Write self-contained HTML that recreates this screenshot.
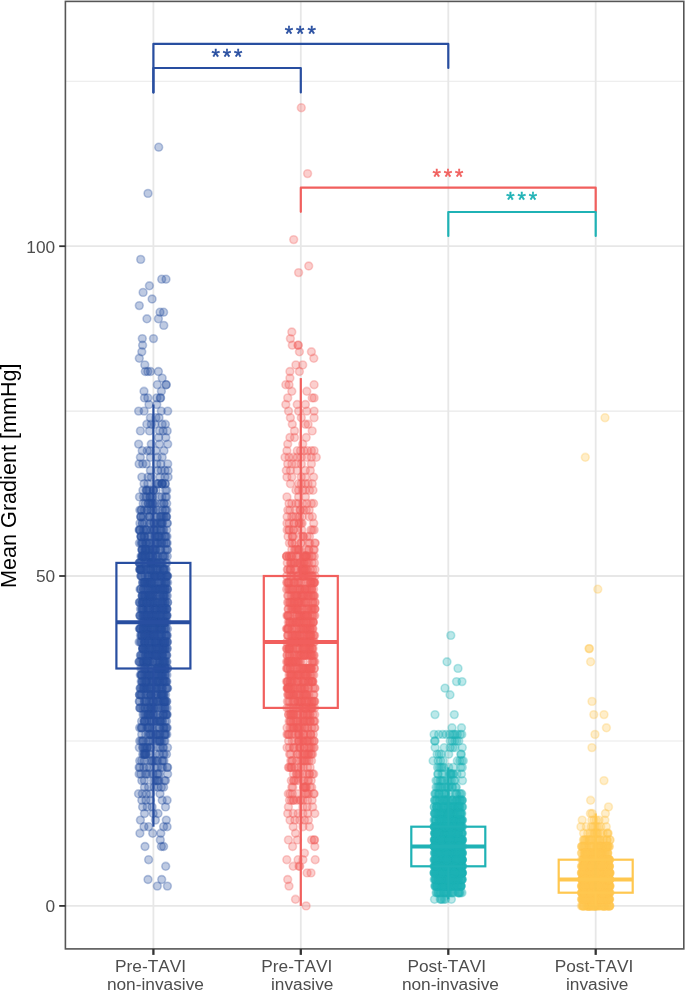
<!DOCTYPE html>
<html><head><meta charset="utf-8"><title>Chart</title><style>html,body{margin:0;padding:0;background:#fff}body{width:685px;height:992px;overflow:hidden;font-family:"Liberation Sans",sans-serif}text{font-kerning:none}</style></head><body>
<svg width="685" height="992" viewBox="0 0 685 992" style="display:block;will-change:transform">
<rect width="685" height="992" fill="#fff"/>
<g><line x1="65.4" x2="683.8" y1="741.0" y2="741.0" stroke="#E9E9E9" stroke-width="1.1"/><line x1="65.4" x2="683.8" y1="411.1" y2="411.1" stroke="#E9E9E9" stroke-width="1.1"/><line x1="65.4" x2="683.8" y1="81.3" y2="81.3" stroke="#E9E9E9" stroke-width="1.1"/><line x1="65.4" x2="683.8" y1="905.9" y2="905.9" stroke="#E7E7E7" stroke-width="1.8"/><line x1="65.4" x2="683.8" y1="576.0" y2="576.0" stroke="#E7E7E7" stroke-width="1.8"/><line x1="65.4" x2="683.8" y1="246.2" y2="246.2" stroke="#E7E7E7" stroke-width="1.8"/><line x1="153.4" x2="153.4" y1="1.4" y2="948.9" stroke="#E7E7E7" stroke-width="1.8"/><line x1="300.8" x2="300.8" y1="1.4" y2="948.9" stroke="#E7E7E7" stroke-width="1.8"/><line x1="448.3" x2="448.3" y1="1.4" y2="948.9" stroke="#E7E7E7" stroke-width="1.8"/><line x1="595.7" x2="595.7" y1="1.4" y2="948.9" stroke="#E7E7E7" stroke-width="1.8"/></g>
<g fill="#284EA0" fill-opacity=".3" stroke="#284EA0" stroke-opacity=".3" stroke-width="1.6"><circle cx="155.8" cy="609.0" r="3.9"/><circle cx="153.5" cy="490.3" r="3.9"/><circle cx="159.5" cy="536.5" r="3.9"/><circle cx="148.0" cy="714.6" r="3.9"/><circle cx="162.9" cy="648.6" r="3.9"/><circle cx="151.6" cy="708.0" r="3.9"/><circle cx="143.7" cy="609.0" r="3.9"/><circle cx="140.9" cy="655.2" r="3.9"/><circle cx="150.4" cy="417.7" r="3.9"/><circle cx="154.3" cy="635.4" r="3.9"/><circle cx="155.2" cy="503.5" r="3.9"/><circle cx="142.4" cy="576.0" r="3.9"/><circle cx="153.1" cy="609.0" r="3.9"/><circle cx="156.5" cy="622.2" r="3.9"/><circle cx="166.6" cy="529.9" r="3.9"/><circle cx="143.7" cy="609.0" r="3.9"/><circle cx="153.6" cy="615.6" r="3.9"/><circle cx="150.5" cy="371.5" r="3.9"/><circle cx="164.6" cy="602.4" r="3.9"/><circle cx="146.7" cy="661.8" r="3.9"/><circle cx="162.3" cy="483.7" r="3.9"/><circle cx="141.6" cy="721.2" r="3.9"/><circle cx="162.5" cy="523.3" r="3.9"/><circle cx="167.7" cy="463.9" r="3.9"/><circle cx="145.0" cy="721.2" r="3.9"/><circle cx="143.3" cy="622.2" r="3.9"/><circle cx="155.0" cy="595.8" r="3.9"/><circle cx="157.6" cy="589.2" r="3.9"/><circle cx="142.5" cy="602.4" r="3.9"/><circle cx="161.0" cy="668.4" r="3.9"/><circle cx="153.1" cy="708.0" r="3.9"/><circle cx="155.1" cy="609.0" r="3.9"/><circle cx="144.8" cy="364.9" r="3.9"/><circle cx="163.0" cy="609.0" r="3.9"/><circle cx="155.0" cy="536.5" r="3.9"/><circle cx="162.5" cy="668.4" r="3.9"/><circle cx="167.0" cy="576.0" r="3.9"/><circle cx="155.3" cy="668.4" r="3.9"/><circle cx="152.3" cy="496.9" r="3.9"/><circle cx="165.8" cy="536.5" r="3.9"/><circle cx="161.7" cy="602.4" r="3.9"/><circle cx="151.2" cy="734.4" r="3.9"/><circle cx="149.7" cy="516.7" r="3.9"/><circle cx="149.0" cy="582.6" r="3.9"/><circle cx="147.0" cy="661.8" r="3.9"/><circle cx="145.7" cy="543.1" r="3.9"/><circle cx="156.1" cy="589.2" r="3.9"/><circle cx="145.7" cy="734.4" r="3.9"/><circle cx="144.1" cy="602.4" r="3.9"/><circle cx="153.2" cy="701.4" r="3.9"/><circle cx="154.9" cy="529.9" r="3.9"/><circle cx="155.4" cy="701.4" r="3.9"/><circle cx="162.6" cy="655.2" r="3.9"/><circle cx="142.6" cy="549.7" r="3.9"/><circle cx="142.0" cy="681.6" r="3.9"/><circle cx="158.1" cy="510.1" r="3.9"/><circle cx="158.0" cy="714.6" r="3.9"/><circle cx="166.9" cy="675.0" r="3.9"/><circle cx="164.4" cy="569.5" r="3.9"/><circle cx="166.5" cy="721.2" r="3.9"/><circle cx="144.5" cy="787.2" r="3.9"/><circle cx="142.3" cy="556.3" r="3.9"/><circle cx="164.3" cy="622.2" r="3.9"/><circle cx="167.2" cy="430.9" r="3.9"/><circle cx="149.7" cy="609.0" r="3.9"/><circle cx="140.4" cy="688.2" r="3.9"/><circle cx="139.3" cy="562.9" r="3.9"/><circle cx="164.3" cy="727.8" r="3.9"/><circle cx="166.5" cy="496.9" r="3.9"/><circle cx="163.4" cy="701.4" r="3.9"/><circle cx="139.4" cy="543.1" r="3.9"/><circle cx="140.4" cy="820.1" r="3.9"/><circle cx="144.2" cy="721.2" r="3.9"/><circle cx="163.9" cy="760.8" r="3.9"/><circle cx="151.4" cy="628.8" r="3.9"/><circle cx="144.7" cy="582.6" r="3.9"/><circle cx="162.2" cy="800.3" r="3.9"/><circle cx="159.5" cy="622.2" r="3.9"/><circle cx="165.5" cy="496.9" r="3.9"/><circle cx="140.2" cy="628.8" r="3.9"/><circle cx="139.9" cy="523.3" r="3.9"/><circle cx="144.4" cy="536.5" r="3.9"/><circle cx="161.7" cy="655.2" r="3.9"/><circle cx="159.5" cy="576.0" r="3.9"/><circle cx="166.2" cy="595.8" r="3.9"/><circle cx="148.1" cy="609.0" r="3.9"/><circle cx="144.8" cy="595.8" r="3.9"/><circle cx="156.9" cy="615.6" r="3.9"/><circle cx="162.8" cy="569.5" r="3.9"/><circle cx="162.1" cy="688.2" r="3.9"/><circle cx="160.9" cy="635.4" r="3.9"/><circle cx="167.0" cy="549.7" r="3.9"/><circle cx="163.2" cy="714.6" r="3.9"/><circle cx="152.4" cy="503.5" r="3.9"/><circle cx="152.0" cy="576.0" r="3.9"/><circle cx="157.3" cy="655.2" r="3.9"/><circle cx="149.0" cy="556.3" r="3.9"/><circle cx="141.4" cy="675.0" r="3.9"/><circle cx="162.9" cy="529.9" r="3.9"/><circle cx="145.9" cy="655.2" r="3.9"/><circle cx="149.7" cy="754.2" r="3.9"/><circle cx="151.9" cy="602.4" r="3.9"/><circle cx="158.6" cy="595.8" r="3.9"/><circle cx="156.6" cy="536.5" r="3.9"/><circle cx="139.3" cy="562.9" r="3.9"/><circle cx="150.2" cy="602.4" r="3.9"/><circle cx="159.5" cy="589.2" r="3.9"/><circle cx="149.7" cy="595.8" r="3.9"/><circle cx="151.9" cy="589.2" r="3.9"/><circle cx="147.2" cy="675.0" r="3.9"/><circle cx="151.1" cy="562.9" r="3.9"/><circle cx="142.7" cy="754.2" r="3.9"/><circle cx="162.3" cy="688.2" r="3.9"/><circle cx="157.5" cy="767.4" r="3.9"/><circle cx="159.6" cy="648.6" r="3.9"/><circle cx="141.8" cy="477.1" r="3.9"/><circle cx="161.4" cy="668.4" r="3.9"/><circle cx="152.7" cy="549.7" r="3.9"/><circle cx="149.9" cy="496.9" r="3.9"/><circle cx="147.2" cy="688.2" r="3.9"/><circle cx="145.2" cy="688.2" r="3.9"/><circle cx="159.2" cy="642.0" r="3.9"/><circle cx="139.3" cy="701.4" r="3.9"/><circle cx="141.8" cy="800.3" r="3.9"/><circle cx="161.9" cy="721.2" r="3.9"/><circle cx="150.1" cy="635.4" r="3.9"/><circle cx="145.8" cy="615.6" r="3.9"/><circle cx="159.3" cy="754.2" r="3.9"/><circle cx="140.5" cy="635.4" r="3.9"/><circle cx="139.1" cy="774.0" r="3.9"/><circle cx="155.4" cy="694.8" r="3.9"/><circle cx="163.2" cy="609.0" r="3.9"/><circle cx="141.1" cy="642.0" r="3.9"/><circle cx="162.4" cy="562.9" r="3.9"/><circle cx="146.7" cy="549.7" r="3.9"/><circle cx="164.6" cy="681.6" r="3.9"/><circle cx="158.4" cy="701.4" r="3.9"/><circle cx="157.7" cy="576.0" r="3.9"/><circle cx="159.3" cy="496.9" r="3.9"/><circle cx="150.7" cy="694.8" r="3.9"/><circle cx="161.0" cy="549.7" r="3.9"/><circle cx="157.0" cy="622.2" r="3.9"/><circle cx="144.7" cy="642.0" r="3.9"/><circle cx="140.4" cy="430.9" r="3.9"/><circle cx="151.9" cy="675.0" r="3.9"/><circle cx="155.3" cy="675.0" r="3.9"/><circle cx="148.5" cy="549.7" r="3.9"/><circle cx="149.4" cy="648.6" r="3.9"/><circle cx="141.1" cy="516.7" r="3.9"/><circle cx="140.9" cy="668.4" r="3.9"/><circle cx="162.2" cy="457.3" r="3.9"/><circle cx="157.6" cy="576.0" r="3.9"/><circle cx="140.0" cy="661.8" r="3.9"/><circle cx="144.5" cy="582.6" r="3.9"/><circle cx="158.7" cy="147.2" r="3.9"/><circle cx="145.6" cy="549.7" r="3.9"/><circle cx="157.7" cy="536.5" r="3.9"/><circle cx="150.4" cy="569.5" r="3.9"/><circle cx="162.6" cy="556.3" r="3.9"/><circle cx="156.9" cy="609.0" r="3.9"/><circle cx="159.6" cy="655.2" r="3.9"/><circle cx="162.1" cy="648.6" r="3.9"/><circle cx="141.0" cy="556.3" r="3.9"/><circle cx="143.6" cy="661.8" r="3.9"/><circle cx="165.4" cy="675.0" r="3.9"/><circle cx="157.8" cy="655.2" r="3.9"/><circle cx="143.4" cy="589.2" r="3.9"/><circle cx="150.4" cy="760.8" r="3.9"/><circle cx="155.4" cy="556.3" r="3.9"/><circle cx="156.1" cy="648.6" r="3.9"/><circle cx="139.5" cy="496.9" r="3.9"/><circle cx="167.1" cy="826.7" r="3.9"/><circle cx="139.8" cy="615.6" r="3.9"/><circle cx="163.8" cy="529.9" r="3.9"/><circle cx="157.4" cy="774.0" r="3.9"/><circle cx="146.7" cy="615.6" r="3.9"/><circle cx="139.4" cy="628.8" r="3.9"/><circle cx="145.8" cy="543.1" r="3.9"/><circle cx="156.4" cy="648.6" r="3.9"/><circle cx="166.7" cy="642.0" r="3.9"/><circle cx="145.4" cy="628.8" r="3.9"/><circle cx="153.1" cy="602.4" r="3.9"/><circle cx="141.8" cy="351.8" r="3.9"/><circle cx="161.4" cy="503.5" r="3.9"/><circle cx="162.1" cy="483.7" r="3.9"/><circle cx="162.6" cy="642.0" r="3.9"/><circle cx="147.1" cy="668.4" r="3.9"/><circle cx="160.8" cy="642.0" r="3.9"/><circle cx="161.7" cy="879.5" r="3.9"/><circle cx="140.7" cy="259.4" r="3.9"/><circle cx="164.2" cy="681.6" r="3.9"/><circle cx="164.7" cy="576.0" r="3.9"/><circle cx="164.9" cy="470.5" r="3.9"/><circle cx="145.3" cy="701.4" r="3.9"/><circle cx="160.5" cy="688.2" r="3.9"/><circle cx="144.7" cy="589.2" r="3.9"/><circle cx="157.9" cy="661.8" r="3.9"/><circle cx="149.4" cy="661.8" r="3.9"/><circle cx="159.5" cy="628.8" r="3.9"/><circle cx="141.7" cy="615.6" r="3.9"/><circle cx="165.4" cy="589.2" r="3.9"/><circle cx="153.0" cy="714.6" r="3.9"/><circle cx="153.6" cy="622.2" r="3.9"/><circle cx="143.9" cy="688.2" r="3.9"/><circle cx="144.8" cy="721.2" r="3.9"/><circle cx="139.3" cy="747.6" r="3.9"/><circle cx="159.2" cy="688.2" r="3.9"/><circle cx="148.6" cy="859.7" r="3.9"/><circle cx="141.5" cy="661.8" r="3.9"/><circle cx="146.9" cy="318.8" r="3.9"/><circle cx="156.2" cy="688.2" r="3.9"/><circle cx="166.4" cy="615.6" r="3.9"/><circle cx="153.6" cy="635.4" r="3.9"/><circle cx="142.0" cy="543.1" r="3.9"/><circle cx="142.1" cy="556.3" r="3.9"/><circle cx="166.7" cy="609.0" r="3.9"/><circle cx="162.5" cy="721.2" r="3.9"/><circle cx="142.7" cy="609.0" r="3.9"/><circle cx="156.8" cy="404.5" r="3.9"/><circle cx="166.1" cy="543.1" r="3.9"/><circle cx="163.4" cy="569.5" r="3.9"/><circle cx="166.7" cy="615.6" r="3.9"/><circle cx="143.6" cy="496.9" r="3.9"/><circle cx="158.1" cy="787.2" r="3.9"/><circle cx="154.4" cy="760.8" r="3.9"/><circle cx="165.2" cy="648.6" r="3.9"/><circle cx="159.0" cy="417.7" r="3.9"/><circle cx="153.5" cy="595.8" r="3.9"/><circle cx="162.1" cy="668.4" r="3.9"/><circle cx="161.5" cy="516.7" r="3.9"/><circle cx="149.8" cy="734.4" r="3.9"/><circle cx="139.1" cy="767.4" r="3.9"/><circle cx="139.8" cy="529.9" r="3.9"/><circle cx="153.5" cy="708.0" r="3.9"/><circle cx="150.4" cy="642.0" r="3.9"/><circle cx="160.1" cy="615.6" r="3.9"/><circle cx="145.6" cy="635.4" r="3.9"/><circle cx="144.2" cy="721.2" r="3.9"/><circle cx="148.9" cy="516.7" r="3.9"/><circle cx="140.6" cy="602.4" r="3.9"/><circle cx="151.1" cy="681.6" r="3.9"/><circle cx="142.4" cy="668.4" r="3.9"/><circle cx="145.0" cy="582.6" r="3.9"/><circle cx="161.5" cy="562.9" r="3.9"/><circle cx="163.6" cy="846.5" r="3.9"/><circle cx="161.2" cy="615.6" r="3.9"/><circle cx="144.2" cy="675.0" r="3.9"/><circle cx="162.2" cy="628.8" r="3.9"/><circle cx="151.5" cy="642.0" r="3.9"/><circle cx="166.4" cy="582.6" r="3.9"/><circle cx="163.7" cy="661.8" r="3.9"/><circle cx="148.4" cy="668.4" r="3.9"/><circle cx="166.4" cy="615.6" r="3.9"/><circle cx="161.4" cy="694.8" r="3.9"/><circle cx="157.5" cy="569.5" r="3.9"/><circle cx="164.0" cy="609.0" r="3.9"/><circle cx="165.9" cy="681.6" r="3.9"/><circle cx="139.1" cy="661.8" r="3.9"/><circle cx="140.8" cy="576.0" r="3.9"/><circle cx="156.8" cy="523.3" r="3.9"/><circle cx="141.0" cy="543.1" r="3.9"/><circle cx="159.8" cy="675.0" r="3.9"/><circle cx="156.9" cy="694.8" r="3.9"/><circle cx="167.4" cy="589.2" r="3.9"/><circle cx="157.5" cy="483.7" r="3.9"/><circle cx="143.7" cy="628.8" r="3.9"/><circle cx="165.3" cy="556.3" r="3.9"/><circle cx="149.4" cy="655.2" r="3.9"/><circle cx="150.4" cy="576.0" r="3.9"/><circle cx="149.4" cy="576.0" r="3.9"/><circle cx="152.4" cy="556.3" r="3.9"/><circle cx="167.7" cy="411.1" r="3.9"/><circle cx="166.2" cy="516.7" r="3.9"/><circle cx="150.0" cy="714.6" r="3.9"/><circle cx="147.5" cy="622.2" r="3.9"/><circle cx="161.0" cy="523.3" r="3.9"/><circle cx="165.4" cy="635.4" r="3.9"/><circle cx="145.9" cy="681.6" r="3.9"/><circle cx="149.8" cy="523.3" r="3.9"/><circle cx="167.3" cy="576.0" r="3.9"/><circle cx="144.8" cy="708.0" r="3.9"/><circle cx="144.9" cy="642.0" r="3.9"/><circle cx="145.4" cy="569.5" r="3.9"/><circle cx="160.8" cy="529.9" r="3.9"/><circle cx="149.7" cy="589.2" r="3.9"/><circle cx="163.5" cy="708.0" r="3.9"/><circle cx="156.6" cy="628.8" r="3.9"/><circle cx="158.7" cy="536.5" r="3.9"/><circle cx="166.6" cy="562.9" r="3.9"/><circle cx="161.9" cy="496.9" r="3.9"/><circle cx="156.4" cy="516.7" r="3.9"/><circle cx="138.6" cy="444.1" r="3.9"/><circle cx="153.1" cy="589.2" r="3.9"/><circle cx="164.3" cy="694.8" r="3.9"/><circle cx="153.1" cy="490.3" r="3.9"/><circle cx="163.9" cy="727.8" r="3.9"/><circle cx="167.5" cy="602.4" r="3.9"/><circle cx="152.9" cy="661.8" r="3.9"/><circle cx="145.0" cy="846.5" r="3.9"/><circle cx="163.1" cy="642.0" r="3.9"/><circle cx="145.8" cy="582.6" r="3.9"/><circle cx="160.1" cy="543.1" r="3.9"/><circle cx="147.9" cy="727.8" r="3.9"/><circle cx="142.5" cy="602.4" r="3.9"/><circle cx="153.6" cy="582.6" r="3.9"/><circle cx="165.5" cy="708.0" r="3.9"/><circle cx="148.4" cy="655.2" r="3.9"/><circle cx="165.4" cy="734.4" r="3.9"/><circle cx="139.7" cy="741.0" r="3.9"/><circle cx="167.4" cy="523.3" r="3.9"/><circle cx="154.8" cy="609.0" r="3.9"/><circle cx="153.5" cy="701.4" r="3.9"/><circle cx="161.4" cy="787.2" r="3.9"/><circle cx="163.1" cy="595.8" r="3.9"/><circle cx="150.7" cy="694.8" r="3.9"/><circle cx="163.5" cy="576.0" r="3.9"/><circle cx="151.7" cy="635.4" r="3.9"/><circle cx="167.0" cy="536.5" r="3.9"/><circle cx="156.5" cy="609.0" r="3.9"/><circle cx="157.8" cy="721.2" r="3.9"/><circle cx="153.7" cy="589.2" r="3.9"/><circle cx="166.0" cy="582.6" r="3.9"/><circle cx="144.7" cy="536.5" r="3.9"/><circle cx="155.2" cy="536.5" r="3.9"/><circle cx="156.5" cy="562.9" r="3.9"/><circle cx="150.6" cy="523.3" r="3.9"/><circle cx="168.1" cy="477.1" r="3.9"/><circle cx="139.6" cy="569.5" r="3.9"/><circle cx="149.2" cy="642.0" r="3.9"/><circle cx="143.1" cy="655.2" r="3.9"/><circle cx="147.5" cy="582.6" r="3.9"/><circle cx="155.1" cy="569.5" r="3.9"/><circle cx="151.5" cy="615.6" r="3.9"/><circle cx="142.4" cy="681.6" r="3.9"/><circle cx="165.0" cy="661.8" r="3.9"/><circle cx="163.1" cy="430.9" r="3.9"/><circle cx="142.5" cy="609.0" r="3.9"/><circle cx="160.0" cy="734.4" r="3.9"/><circle cx="142.3" cy="338.6" r="3.9"/><circle cx="163.6" cy="826.7" r="3.9"/><circle cx="164.4" cy="648.6" r="3.9"/><circle cx="157.3" cy="661.8" r="3.9"/><circle cx="165.3" cy="483.7" r="3.9"/><circle cx="155.3" cy="549.7" r="3.9"/><circle cx="148.0" cy="661.8" r="3.9"/><circle cx="164.2" cy="582.6" r="3.9"/><circle cx="150.3" cy="622.2" r="3.9"/><circle cx="147.2" cy="582.6" r="3.9"/><circle cx="157.4" cy="642.0" r="3.9"/><circle cx="150.4" cy="562.9" r="3.9"/><circle cx="149.3" cy="701.4" r="3.9"/><circle cx="153.2" cy="562.9" r="3.9"/><circle cx="150.2" cy="556.3" r="3.9"/><circle cx="147.9" cy="602.4" r="3.9"/><circle cx="152.5" cy="681.6" r="3.9"/><circle cx="154.7" cy="576.0" r="3.9"/><circle cx="139.1" cy="642.0" r="3.9"/><circle cx="166.1" cy="714.6" r="3.9"/><circle cx="166.8" cy="714.6" r="3.9"/><circle cx="153.5" cy="694.8" r="3.9"/><circle cx="161.4" cy="846.5" r="3.9"/><circle cx="152.1" cy="299.0" r="3.9"/><circle cx="142.6" cy="556.3" r="3.9"/><circle cx="167.5" cy="549.7" r="3.9"/><circle cx="146.0" cy="648.6" r="3.9"/><circle cx="155.3" cy="609.0" r="3.9"/><circle cx="163.2" cy="694.8" r="3.9"/><circle cx="145.3" cy="622.2" r="3.9"/><circle cx="165.1" cy="602.4" r="3.9"/><circle cx="149.5" cy="543.1" r="3.9"/><circle cx="145.7" cy="694.8" r="3.9"/><circle cx="156.0" cy="615.6" r="3.9"/><circle cx="164.9" cy="477.1" r="3.9"/><circle cx="147.9" cy="628.8" r="3.9"/><circle cx="150.5" cy="562.9" r="3.9"/><circle cx="152.5" cy="622.2" r="3.9"/><circle cx="148.5" cy="503.5" r="3.9"/><circle cx="164.4" cy="635.4" r="3.9"/><circle cx="147.1" cy="747.6" r="3.9"/><circle cx="147.9" cy="622.2" r="3.9"/><circle cx="161.5" cy="523.3" r="3.9"/><circle cx="144.6" cy="635.4" r="3.9"/><circle cx="166.8" cy="701.4" r="3.9"/><circle cx="168.1" cy="470.5" r="3.9"/><circle cx="157.9" cy="681.6" r="3.9"/><circle cx="165.3" cy="681.6" r="3.9"/><circle cx="161.3" cy="628.8" r="3.9"/><circle cx="144.3" cy="701.4" r="3.9"/><circle cx="144.9" cy="747.6" r="3.9"/><circle cx="146.5" cy="569.5" r="3.9"/><circle cx="163.5" cy="747.6" r="3.9"/><circle cx="158.6" cy="622.2" r="3.9"/><circle cx="142.3" cy="642.0" r="3.9"/><circle cx="166.8" cy="589.2" r="3.9"/><circle cx="156.0" cy="562.9" r="3.9"/><circle cx="149.7" cy="661.8" r="3.9"/><circle cx="145.9" cy="615.6" r="3.9"/><circle cx="140.3" cy="628.8" r="3.9"/><circle cx="162.1" cy="760.8" r="3.9"/><circle cx="141.5" cy="576.0" r="3.9"/><circle cx="163.2" cy="556.3" r="3.9"/><circle cx="164.0" cy="622.2" r="3.9"/><circle cx="165.5" cy="549.7" r="3.9"/><circle cx="148.3" cy="708.0" r="3.9"/><circle cx="151.5" cy="595.8" r="3.9"/><circle cx="141.1" cy="694.8" r="3.9"/><circle cx="166.9" cy="523.3" r="3.9"/><circle cx="156.8" cy="556.3" r="3.9"/><circle cx="142.7" cy="463.9" r="3.9"/><circle cx="162.8" cy="595.8" r="3.9"/><circle cx="147.9" cy="536.5" r="3.9"/><circle cx="148.3" cy="595.8" r="3.9"/><circle cx="158.6" cy="642.0" r="3.9"/><circle cx="154.8" cy="688.2" r="3.9"/><circle cx="143.5" cy="556.3" r="3.9"/><circle cx="144.9" cy="635.4" r="3.9"/><circle cx="166.4" cy="727.8" r="3.9"/><circle cx="139.7" cy="562.9" r="3.9"/><circle cx="167.6" cy="582.6" r="3.9"/><circle cx="141.3" cy="536.5" r="3.9"/><circle cx="151.9" cy="721.2" r="3.9"/><circle cx="166.3" cy="576.0" r="3.9"/><circle cx="139.7" cy="760.8" r="3.9"/><circle cx="154.0" cy="523.3" r="3.9"/><circle cx="156.4" cy="760.8" r="3.9"/><circle cx="151.3" cy="477.1" r="3.9"/><circle cx="143.7" cy="767.4" r="3.9"/><circle cx="154.2" cy="622.2" r="3.9"/><circle cx="166.3" cy="384.7" r="3.9"/><circle cx="145.9" cy="655.2" r="3.9"/><circle cx="161.1" cy="668.4" r="3.9"/><circle cx="153.8" cy="721.2" r="3.9"/><circle cx="153.6" cy="549.7" r="3.9"/><circle cx="157.4" cy="701.4" r="3.9"/><circle cx="158.1" cy="622.2" r="3.9"/><circle cx="144.0" cy="826.7" r="3.9"/><circle cx="159.4" cy="727.8" r="3.9"/><circle cx="144.4" cy="635.4" r="3.9"/><circle cx="151.3" cy="562.9" r="3.9"/><circle cx="138.6" cy="411.1" r="3.9"/><circle cx="145.8" cy="549.7" r="3.9"/><circle cx="151.5" cy="708.0" r="3.9"/><circle cx="141.4" cy="510.1" r="3.9"/><circle cx="147.0" cy="609.0" r="3.9"/><circle cx="144.4" cy="562.9" r="3.9"/><circle cx="161.0" cy="576.0" r="3.9"/><circle cx="145.8" cy="529.9" r="3.9"/><circle cx="167.0" cy="661.8" r="3.9"/><circle cx="146.0" cy="635.4" r="3.9"/><circle cx="157.4" cy="721.2" r="3.9"/><circle cx="144.3" cy="747.6" r="3.9"/><circle cx="152.7" cy="833.3" r="3.9"/><circle cx="146.4" cy="490.3" r="3.9"/><circle cx="150.6" cy="510.1" r="3.9"/><circle cx="149.6" cy="675.0" r="3.9"/><circle cx="148.3" cy="562.9" r="3.9"/><circle cx="147.4" cy="694.8" r="3.9"/><circle cx="161.0" cy="694.8" r="3.9"/><circle cx="148.1" cy="589.2" r="3.9"/><circle cx="164.6" cy="701.4" r="3.9"/><circle cx="151.1" cy="628.8" r="3.9"/><circle cx="165.0" cy="615.6" r="3.9"/><circle cx="150.0" cy="648.6" r="3.9"/><circle cx="151.7" cy="529.9" r="3.9"/><circle cx="139.9" cy="833.3" r="3.9"/><circle cx="157.0" cy="681.6" r="3.9"/><circle cx="165.8" cy="628.8" r="3.9"/><circle cx="142.6" cy="648.6" r="3.9"/><circle cx="162.8" cy="589.2" r="3.9"/><circle cx="149.0" cy="774.0" r="3.9"/><circle cx="144.9" cy="615.6" r="3.9"/><circle cx="154.3" cy="628.8" r="3.9"/><circle cx="153.5" cy="338.6" r="3.9"/><circle cx="149.0" cy="404.5" r="3.9"/><circle cx="143.2" cy="648.6" r="3.9"/><circle cx="161.0" cy="694.8" r="3.9"/><circle cx="142.2" cy="595.8" r="3.9"/><circle cx="148.2" cy="741.0" r="3.9"/><circle cx="160.2" cy="747.6" r="3.9"/><circle cx="146.0" cy="714.6" r="3.9"/><circle cx="164.3" cy="754.2" r="3.9"/><circle cx="146.0" cy="628.8" r="3.9"/><circle cx="148.4" cy="595.8" r="3.9"/><circle cx="149.4" cy="516.7" r="3.9"/><circle cx="163.6" cy="701.4" r="3.9"/><circle cx="147.0" cy="615.6" r="3.9"/><circle cx="157.2" cy="457.3" r="3.9"/><circle cx="162.8" cy="701.4" r="3.9"/><circle cx="164.4" cy="536.5" r="3.9"/><circle cx="159.4" cy="609.0" r="3.9"/><circle cx="143.2" cy="503.5" r="3.9"/><circle cx="153.0" cy="595.8" r="3.9"/><circle cx="164.8" cy="642.0" r="3.9"/><circle cx="154.3" cy="681.6" r="3.9"/><circle cx="147.4" cy="648.6" r="3.9"/><circle cx="142.3" cy="675.0" r="3.9"/><circle cx="164.3" cy="516.7" r="3.9"/><circle cx="158.4" cy="675.0" r="3.9"/><circle cx="150.8" cy="668.4" r="3.9"/><circle cx="150.2" cy="556.3" r="3.9"/><circle cx="160.7" cy="721.2" r="3.9"/><circle cx="159.9" cy="628.8" r="3.9"/><circle cx="167.3" cy="556.3" r="3.9"/><circle cx="153.9" cy="529.9" r="3.9"/><circle cx="157.8" cy="780.6" r="3.9"/><circle cx="142.0" cy="549.7" r="3.9"/><circle cx="147.8" cy="397.9" r="3.9"/><circle cx="162.9" cy="681.6" r="3.9"/><circle cx="161.6" cy="628.8" r="3.9"/><circle cx="148.5" cy="569.5" r="3.9"/><circle cx="153.5" cy="490.3" r="3.9"/><circle cx="162.7" cy="747.6" r="3.9"/><circle cx="151.0" cy="602.4" r="3.9"/><circle cx="139.9" cy="708.0" r="3.9"/><circle cx="161.6" cy="668.4" r="3.9"/><circle cx="151.3" cy="424.3" r="3.9"/><circle cx="162.9" cy="516.7" r="3.9"/><circle cx="151.4" cy="595.8" r="3.9"/><circle cx="145.9" cy="609.0" r="3.9"/><circle cx="150.6" cy="562.9" r="3.9"/><circle cx="142.3" cy="543.1" r="3.9"/><circle cx="140.6" cy="516.7" r="3.9"/><circle cx="163.6" cy="312.2" r="3.9"/><circle cx="144.5" cy="615.6" r="3.9"/><circle cx="140.9" cy="589.2" r="3.9"/><circle cx="149.7" cy="582.6" r="3.9"/><circle cx="152.3" cy="615.6" r="3.9"/><circle cx="161.3" cy="708.0" r="3.9"/><circle cx="143.0" cy="615.6" r="3.9"/><circle cx="147.5" cy="510.1" r="3.9"/><circle cx="140.1" cy="694.8" r="3.9"/><circle cx="147.9" cy="622.2" r="3.9"/><circle cx="157.4" cy="714.6" r="3.9"/><circle cx="152.5" cy="628.8" r="3.9"/><circle cx="146.2" cy="628.8" r="3.9"/><circle cx="144.7" cy="754.2" r="3.9"/><circle cx="159.5" cy="430.9" r="3.9"/><circle cx="162.5" cy="681.6" r="3.9"/><circle cx="147.4" cy="655.2" r="3.9"/><circle cx="160.6" cy="642.0" r="3.9"/><circle cx="153.4" cy="635.4" r="3.9"/><circle cx="154.6" cy="602.4" r="3.9"/><circle cx="161.8" cy="543.1" r="3.9"/><circle cx="158.7" cy="635.4" r="3.9"/><circle cx="162.1" cy="694.8" r="3.9"/><circle cx="145.5" cy="622.2" r="3.9"/><circle cx="159.7" cy="549.7" r="3.9"/><circle cx="153.3" cy="675.0" r="3.9"/><circle cx="139.8" cy="510.1" r="3.9"/><circle cx="152.6" cy="556.3" r="3.9"/><circle cx="153.4" cy="714.6" r="3.9"/><circle cx="144.1" cy="411.1" r="3.9"/><circle cx="166.0" cy="384.7" r="3.9"/><circle cx="142.1" cy="569.5" r="3.9"/><circle cx="149.5" cy="595.8" r="3.9"/><circle cx="144.5" cy="681.6" r="3.9"/><circle cx="151.0" cy="536.5" r="3.9"/><circle cx="143.7" cy="615.6" r="3.9"/><circle cx="143.3" cy="602.4" r="3.9"/><circle cx="150.0" cy="727.8" r="3.9"/><circle cx="160.0" cy="477.1" r="3.9"/><circle cx="162.3" cy="602.4" r="3.9"/><circle cx="142.3" cy="609.0" r="3.9"/><circle cx="158.3" cy="582.6" r="3.9"/><circle cx="159.5" cy="661.8" r="3.9"/><circle cx="143.7" cy="595.8" r="3.9"/><circle cx="165.6" cy="694.8" r="3.9"/><circle cx="146.0" cy="529.9" r="3.9"/><circle cx="154.0" cy="721.2" r="3.9"/><circle cx="152.2" cy="655.2" r="3.9"/><circle cx="165.0" cy="589.2" r="3.9"/><circle cx="162.3" cy="582.6" r="3.9"/><circle cx="145.0" cy="642.0" r="3.9"/><circle cx="161.8" cy="741.0" r="3.9"/><circle cx="150.6" cy="595.8" r="3.9"/><circle cx="160.1" cy="569.5" r="3.9"/><circle cx="149.7" cy="675.0" r="3.9"/><circle cx="160.7" cy="562.9" r="3.9"/><circle cx="159.3" cy="774.0" r="3.9"/><circle cx="167.3" cy="648.6" r="3.9"/><circle cx="164.1" cy="556.3" r="3.9"/><circle cx="150.5" cy="595.8" r="3.9"/><circle cx="159.8" cy="721.2" r="3.9"/><circle cx="158.0" cy="543.1" r="3.9"/><circle cx="148.8" cy="714.6" r="3.9"/><circle cx="165.5" cy="806.9" r="3.9"/><circle cx="166.8" cy="734.4" r="3.9"/><circle cx="161.7" cy="655.2" r="3.9"/><circle cx="165.1" cy="721.2" r="3.9"/><circle cx="154.7" cy="642.0" r="3.9"/><circle cx="166.6" cy="516.7" r="3.9"/><circle cx="162.7" cy="760.8" r="3.9"/><circle cx="140.4" cy="569.5" r="3.9"/><circle cx="139.6" cy="701.4" r="3.9"/><circle cx="154.6" cy="628.8" r="3.9"/><circle cx="146.5" cy="661.8" r="3.9"/><circle cx="141.3" cy="569.5" r="3.9"/><circle cx="142.6" cy="806.9" r="3.9"/><circle cx="160.3" cy="397.9" r="3.9"/><circle cx="153.6" cy="780.6" r="3.9"/><circle cx="164.0" cy="668.4" r="3.9"/><circle cx="166.8" cy="688.2" r="3.9"/><circle cx="162.5" cy="661.8" r="3.9"/><circle cx="163.1" cy="602.4" r="3.9"/><circle cx="161.5" cy="536.5" r="3.9"/><circle cx="165.6" cy="734.4" r="3.9"/><circle cx="164.3" cy="675.0" r="3.9"/><circle cx="151.8" cy="648.6" r="3.9"/><circle cx="165.5" cy="642.0" r="3.9"/><circle cx="150.2" cy="609.0" r="3.9"/><circle cx="150.3" cy="642.0" r="3.9"/><circle cx="162.0" cy="483.7" r="3.9"/><circle cx="154.4" cy="615.6" r="3.9"/><circle cx="158.8" cy="681.6" r="3.9"/><circle cx="152.9" cy="661.8" r="3.9"/><circle cx="152.1" cy="701.4" r="3.9"/><circle cx="148.4" cy="675.0" r="3.9"/><circle cx="160.6" cy="397.9" r="3.9"/><circle cx="156.7" cy="569.5" r="3.9"/><circle cx="152.1" cy="681.6" r="3.9"/><circle cx="155.4" cy="694.8" r="3.9"/><circle cx="150.7" cy="569.5" r="3.9"/><circle cx="148.0" cy="582.6" r="3.9"/><circle cx="142.8" cy="628.8" r="3.9"/><circle cx="160.0" cy="681.6" r="3.9"/><circle cx="141.8" cy="635.4" r="3.9"/><circle cx="143.8" cy="622.2" r="3.9"/><circle cx="159.3" cy="628.8" r="3.9"/><circle cx="152.9" cy="602.4" r="3.9"/><circle cx="153.2" cy="813.5" r="3.9"/><circle cx="152.0" cy="642.0" r="3.9"/><circle cx="141.0" cy="589.2" r="3.9"/><circle cx="156.9" cy="602.4" r="3.9"/><circle cx="151.9" cy="760.8" r="3.9"/><circle cx="145.8" cy="595.8" r="3.9"/><circle cx="161.2" cy="609.0" r="3.9"/><circle cx="140.1" cy="688.2" r="3.9"/><circle cx="139.8" cy="708.0" r="3.9"/><circle cx="157.1" cy="681.6" r="3.9"/><circle cx="167.2" cy="727.8" r="3.9"/><circle cx="140.3" cy="615.6" r="3.9"/><circle cx="148.2" cy="503.5" r="3.9"/><circle cx="158.4" cy="523.3" r="3.9"/><circle cx="149.8" cy="635.4" r="3.9"/><circle cx="147.5" cy="747.6" r="3.9"/><circle cx="142.7" cy="595.8" r="3.9"/><circle cx="143.8" cy="754.2" r="3.9"/><circle cx="154.7" cy="602.4" r="3.9"/><circle cx="159.4" cy="655.2" r="3.9"/><circle cx="158.1" cy="615.6" r="3.9"/><circle cx="153.2" cy="556.3" r="3.9"/><circle cx="153.4" cy="523.3" r="3.9"/><circle cx="145.4" cy="595.8" r="3.9"/><circle cx="165.9" cy="648.6" r="3.9"/><circle cx="155.5" cy="589.2" r="3.9"/><circle cx="157.7" cy="589.2" r="3.9"/><circle cx="142.5" cy="688.2" r="3.9"/><circle cx="143.6" cy="648.6" r="3.9"/><circle cx="154.1" cy="642.0" r="3.9"/><circle cx="162.6" cy="708.0" r="3.9"/><circle cx="150.3" cy="688.2" r="3.9"/><circle cx="148.9" cy="576.0" r="3.9"/><circle cx="154.4" cy="576.0" r="3.9"/><circle cx="161.3" cy="470.5" r="3.9"/><circle cx="143.4" cy="661.8" r="3.9"/><circle cx="149.2" cy="536.5" r="3.9"/><circle cx="154.9" cy="549.7" r="3.9"/><circle cx="166.8" cy="490.3" r="3.9"/><circle cx="165.0" cy="642.0" r="3.9"/><circle cx="144.4" cy="780.6" r="3.9"/><circle cx="165.8" cy="628.8" r="3.9"/><circle cx="143.2" cy="602.4" r="3.9"/><circle cx="165.4" cy="424.3" r="3.9"/><circle cx="165.5" cy="780.6" r="3.9"/><circle cx="148.8" cy="615.6" r="3.9"/><circle cx="156.1" cy="635.4" r="3.9"/><circle cx="149.3" cy="675.0" r="3.9"/><circle cx="164.5" cy="780.6" r="3.9"/><circle cx="160.1" cy="529.9" r="3.9"/><circle cx="162.2" cy="424.3" r="3.9"/><circle cx="146.6" cy="529.9" r="3.9"/><circle cx="148.5" cy="622.2" r="3.9"/><circle cx="152.4" cy="510.1" r="3.9"/><circle cx="143.0" cy="648.6" r="3.9"/><circle cx="143.8" cy="602.4" r="3.9"/><circle cx="166.8" cy="609.0" r="3.9"/><circle cx="160.3" cy="549.7" r="3.9"/><circle cx="148.1" cy="609.0" r="3.9"/><circle cx="154.3" cy="576.0" r="3.9"/><circle cx="150.8" cy="582.6" r="3.9"/><circle cx="160.3" cy="721.2" r="3.9"/><circle cx="144.5" cy="813.5" r="3.9"/><circle cx="147.4" cy="714.6" r="3.9"/><circle cx="150.4" cy="602.4" r="3.9"/><circle cx="157.8" cy="562.9" r="3.9"/><circle cx="164.8" cy="582.6" r="3.9"/><circle cx="156.8" cy="463.9" r="3.9"/><circle cx="158.8" cy="668.4" r="3.9"/><circle cx="149.0" cy="609.0" r="3.9"/><circle cx="145.4" cy="668.4" r="3.9"/><circle cx="166.5" cy="655.2" r="3.9"/><circle cx="149.7" cy="543.1" r="3.9"/><circle cx="145.5" cy="661.8" r="3.9"/><circle cx="154.9" cy="615.6" r="3.9"/><circle cx="162.1" cy="694.8" r="3.9"/><circle cx="156.8" cy="397.9" r="3.9"/><circle cx="149.2" cy="741.0" r="3.9"/><circle cx="153.4" cy="503.5" r="3.9"/><circle cx="158.6" cy="602.4" r="3.9"/><circle cx="141.7" cy="734.4" r="3.9"/><circle cx="157.9" cy="543.1" r="3.9"/><circle cx="158.8" cy="642.0" r="3.9"/><circle cx="140.0" cy="529.9" r="3.9"/><circle cx="145.8" cy="496.9" r="3.9"/><circle cx="143.7" cy="536.5" r="3.9"/><circle cx="146.0" cy="688.2" r="3.9"/><circle cx="139.1" cy="463.9" r="3.9"/><circle cx="143.4" cy="589.2" r="3.9"/><circle cx="161.1" cy="675.0" r="3.9"/><circle cx="161.3" cy="576.0" r="3.9"/><circle cx="162.9" cy="648.6" r="3.9"/><circle cx="160.2" cy="741.0" r="3.9"/><circle cx="143.1" cy="741.0" r="3.9"/><circle cx="164.9" cy="648.6" r="3.9"/><circle cx="145.9" cy="800.3" r="3.9"/><circle cx="148.1" cy="576.0" r="3.9"/><circle cx="158.5" cy="582.6" r="3.9"/><circle cx="165.7" cy="866.3" r="3.9"/><circle cx="159.5" cy="661.8" r="3.9"/><circle cx="150.4" cy="470.5" r="3.9"/><circle cx="166.4" cy="701.4" r="3.9"/><circle cx="145.3" cy="675.0" r="3.9"/><circle cx="166.8" cy="655.2" r="3.9"/><circle cx="166.5" cy="754.2" r="3.9"/><circle cx="155.4" cy="642.0" r="3.9"/><circle cx="160.2" cy="595.8" r="3.9"/><circle cx="159.6" cy="721.2" r="3.9"/><circle cx="152.1" cy="589.2" r="3.9"/><circle cx="150.2" cy="628.8" r="3.9"/><circle cx="161.2" cy="701.4" r="3.9"/><circle cx="148.6" cy="826.7" r="3.9"/><circle cx="141.6" cy="694.8" r="3.9"/><circle cx="164.5" cy="609.0" r="3.9"/><circle cx="163.4" cy="602.4" r="3.9"/><circle cx="146.6" cy="681.6" r="3.9"/><circle cx="145.9" cy="628.8" r="3.9"/><circle cx="143.1" cy="714.6" r="3.9"/><circle cx="157.9" cy="628.8" r="3.9"/><circle cx="167.6" cy="602.4" r="3.9"/><circle cx="150.5" cy="793.8" r="3.9"/><circle cx="156.6" cy="602.4" r="3.9"/><circle cx="149.8" cy="655.2" r="3.9"/><circle cx="162.0" cy="675.0" r="3.9"/><circle cx="149.4" cy="569.5" r="3.9"/><circle cx="152.5" cy="602.4" r="3.9"/><circle cx="165.1" cy="595.8" r="3.9"/><circle cx="162.4" cy="642.0" r="3.9"/><circle cx="141.3" cy="741.0" r="3.9"/><circle cx="151.0" cy="747.6" r="3.9"/><circle cx="154.5" cy="714.6" r="3.9"/><circle cx="165.9" cy="655.2" r="3.9"/><circle cx="161.8" cy="523.3" r="3.9"/><circle cx="146.8" cy="424.3" r="3.9"/><circle cx="166.1" cy="516.7" r="3.9"/><circle cx="144.2" cy="595.8" r="3.9"/><circle cx="160.2" cy="582.6" r="3.9"/><circle cx="164.4" cy="734.4" r="3.9"/><circle cx="164.9" cy="655.2" r="3.9"/><circle cx="144.8" cy="708.0" r="3.9"/><circle cx="149.5" cy="549.7" r="3.9"/><circle cx="157.5" cy="562.9" r="3.9"/><circle cx="140.9" cy="536.5" r="3.9"/><circle cx="164.9" cy="701.4" r="3.9"/><circle cx="162.0" cy="694.8" r="3.9"/><circle cx="160.3" cy="622.2" r="3.9"/><circle cx="142.6" cy="582.6" r="3.9"/><circle cx="155.3" cy="615.6" r="3.9"/><circle cx="166.9" cy="609.0" r="3.9"/><circle cx="152.1" cy="549.7" r="3.9"/><circle cx="165.2" cy="661.8" r="3.9"/><circle cx="167.5" cy="747.6" r="3.9"/><circle cx="154.0" cy="609.0" r="3.9"/><circle cx="147.6" cy="562.9" r="3.9"/><circle cx="145.3" cy="371.5" r="3.9"/><circle cx="164.1" cy="543.1" r="3.9"/><circle cx="150.3" cy="503.5" r="3.9"/><circle cx="144.4" cy="628.8" r="3.9"/><circle cx="151.1" cy="589.2" r="3.9"/><circle cx="167.1" cy="767.4" r="3.9"/><circle cx="161.1" cy="675.0" r="3.9"/><circle cx="151.4" cy="688.2" r="3.9"/><circle cx="155.1" cy="648.6" r="3.9"/><circle cx="145.1" cy="714.6" r="3.9"/><circle cx="158.3" cy="589.2" r="3.9"/><circle cx="153.9" cy="708.0" r="3.9"/><circle cx="146.6" cy="721.2" r="3.9"/><circle cx="151.4" cy="582.6" r="3.9"/><circle cx="142.9" cy="747.6" r="3.9"/><circle cx="151.0" cy="741.0" r="3.9"/><circle cx="140.4" cy="457.3" r="3.9"/><circle cx="163.0" cy="727.8" r="3.9"/><circle cx="139.9" cy="569.5" r="3.9"/><circle cx="150.0" cy="747.6" r="3.9"/><circle cx="164.4" cy="628.8" r="3.9"/><circle cx="164.9" cy="589.2" r="3.9"/><circle cx="161.6" cy="609.0" r="3.9"/><circle cx="148.5" cy="562.9" r="3.9"/><circle cx="144.5" cy="701.4" r="3.9"/><circle cx="146.2" cy="582.6" r="3.9"/><circle cx="153.5" cy="655.2" r="3.9"/><circle cx="148.1" cy="727.8" r="3.9"/><circle cx="161.7" cy="279.2" r="3.9"/><circle cx="167.7" cy="444.1" r="3.9"/><circle cx="148.0" cy="879.5" r="3.9"/><circle cx="164.3" cy="734.4" r="3.9"/><circle cx="149.4" cy="602.4" r="3.9"/><circle cx="156.5" cy="734.4" r="3.9"/><circle cx="145.2" cy="754.2" r="3.9"/><circle cx="147.8" cy="483.7" r="3.9"/><circle cx="167.5" cy="589.2" r="3.9"/><circle cx="143.9" cy="556.3" r="3.9"/><circle cx="145.1" cy="556.3" r="3.9"/><circle cx="146.4" cy="747.6" r="3.9"/><circle cx="148.5" cy="655.2" r="3.9"/><circle cx="161.5" cy="582.6" r="3.9"/><circle cx="147.4" cy="675.0" r="3.9"/><circle cx="158.2" cy="556.3" r="3.9"/><circle cx="167.6" cy="767.4" r="3.9"/><circle cx="164.3" cy="595.8" r="3.9"/><circle cx="154.0" cy="529.9" r="3.9"/><circle cx="153.7" cy="628.8" r="3.9"/><circle cx="156.1" cy="655.2" r="3.9"/><circle cx="148.4" cy="734.4" r="3.9"/><circle cx="163.6" cy="648.6" r="3.9"/><circle cx="165.0" cy="714.6" r="3.9"/><circle cx="150.8" cy="622.2" r="3.9"/><circle cx="161.4" cy="391.3" r="3.9"/><circle cx="143.6" cy="661.8" r="3.9"/><circle cx="150.5" cy="635.4" r="3.9"/><circle cx="164.5" cy="622.2" r="3.9"/><circle cx="159.4" cy="668.4" r="3.9"/><circle cx="145.2" cy="648.6" r="3.9"/><circle cx="159.7" cy="727.8" r="3.9"/><circle cx="160.4" cy="628.8" r="3.9"/><circle cx="165.8" cy="688.2" r="3.9"/><circle cx="152.5" cy="615.6" r="3.9"/><circle cx="142.3" cy="727.8" r="3.9"/><circle cx="156.1" cy="490.3" r="3.9"/><circle cx="154.6" cy="576.0" r="3.9"/><circle cx="156.6" cy="734.4" r="3.9"/><circle cx="146.1" cy="754.2" r="3.9"/><circle cx="141.2" cy="510.1" r="3.9"/><circle cx="139.3" cy="305.6" r="3.9"/><circle cx="149.4" cy="622.2" r="3.9"/><circle cx="142.3" cy="602.4" r="3.9"/><circle cx="147.0" cy="727.8" r="3.9"/><circle cx="141.6" cy="635.4" r="3.9"/><circle cx="144.3" cy="661.8" r="3.9"/><circle cx="141.9" cy="549.7" r="3.9"/><circle cx="164.8" cy="668.4" r="3.9"/><circle cx="152.3" cy="503.5" r="3.9"/><circle cx="147.1" cy="774.0" r="3.9"/><circle cx="163.9" cy="589.2" r="3.9"/><circle cx="158.0" cy="774.0" r="3.9"/><circle cx="166.3" cy="681.6" r="3.9"/><circle cx="146.1" cy="681.6" r="3.9"/><circle cx="142.6" cy="523.3" r="3.9"/><circle cx="167.1" cy="800.3" r="3.9"/><circle cx="163.1" cy="714.6" r="3.9"/><circle cx="150.7" cy="694.8" r="3.9"/><circle cx="146.0" cy="701.4" r="3.9"/><circle cx="144.6" cy="549.7" r="3.9"/><circle cx="146.9" cy="543.1" r="3.9"/><circle cx="163.3" cy="661.8" r="3.9"/><circle cx="159.9" cy="516.7" r="3.9"/><circle cx="150.8" cy="615.6" r="3.9"/><circle cx="160.2" cy="589.2" r="3.9"/><circle cx="142.8" cy="582.6" r="3.9"/><circle cx="167.5" cy="642.0" r="3.9"/><circle cx="148.6" cy="628.8" r="3.9"/><circle cx="152.6" cy="760.8" r="3.9"/><circle cx="144.2" cy="760.8" r="3.9"/><circle cx="160.1" cy="582.6" r="3.9"/><circle cx="163.8" cy="741.0" r="3.9"/><circle cx="162.5" cy="648.6" r="3.9"/><circle cx="167.0" cy="708.0" r="3.9"/><circle cx="140.3" cy="675.0" r="3.9"/><circle cx="158.2" cy="668.4" r="3.9"/><circle cx="146.5" cy="549.7" r="3.9"/><circle cx="167.4" cy="668.4" r="3.9"/><circle cx="161.1" cy="648.6" r="3.9"/><circle cx="155.5" cy="754.2" r="3.9"/><circle cx="157.0" cy="648.6" r="3.9"/><circle cx="150.4" cy="708.0" r="3.9"/><circle cx="166.6" cy="635.4" r="3.9"/><circle cx="146.8" cy="681.6" r="3.9"/><circle cx="144.4" cy="510.1" r="3.9"/><circle cx="166.9" cy="681.6" r="3.9"/><circle cx="141.0" cy="708.0" r="3.9"/><circle cx="149.1" cy="721.2" r="3.9"/><circle cx="147.3" cy="582.6" r="3.9"/><circle cx="148.6" cy="655.2" r="3.9"/><circle cx="145.8" cy="589.2" r="3.9"/><circle cx="163.6" cy="642.0" r="3.9"/><circle cx="163.1" cy="754.2" r="3.9"/><circle cx="150.3" cy="496.9" r="3.9"/><circle cx="148.8" cy="589.2" r="3.9"/><circle cx="161.2" cy="655.2" r="3.9"/><circle cx="140.7" cy="569.5" r="3.9"/><circle cx="145.3" cy="503.5" r="3.9"/><circle cx="141.3" cy="675.0" r="3.9"/><circle cx="165.8" cy="510.1" r="3.9"/><circle cx="145.7" cy="549.7" r="3.9"/><circle cx="156.6" cy="655.2" r="3.9"/><circle cx="144.8" cy="642.0" r="3.9"/><circle cx="141.6" cy="609.0" r="3.9"/><circle cx="144.0" cy="391.3" r="3.9"/><circle cx="145.8" cy="615.6" r="3.9"/><circle cx="150.7" cy="694.8" r="3.9"/><circle cx="150.7" cy="622.2" r="3.9"/><circle cx="146.3" cy="602.4" r="3.9"/><circle cx="148.8" cy="694.8" r="3.9"/><circle cx="165.8" cy="437.5" r="3.9"/><circle cx="160.8" cy="833.3" r="3.9"/><circle cx="166.3" cy="635.4" r="3.9"/><circle cx="143.2" cy="648.6" r="3.9"/><circle cx="143.1" cy="292.4" r="3.9"/><circle cx="167.2" cy="543.1" r="3.9"/><circle cx="165.6" cy="701.4" r="3.9"/><circle cx="166.4" cy="576.0" r="3.9"/><circle cx="150.5" cy="800.3" r="3.9"/><circle cx="155.3" cy="622.2" r="3.9"/><circle cx="158.4" cy="371.5" r="3.9"/><circle cx="167.5" cy="628.8" r="3.9"/><circle cx="161.4" cy="767.4" r="3.9"/><circle cx="163.9" cy="642.0" r="3.9"/><circle cx="149.5" cy="430.9" r="3.9"/><circle cx="142.3" cy="793.8" r="3.9"/><circle cx="150.4" cy="457.3" r="3.9"/><circle cx="152.4" cy="721.2" r="3.9"/><circle cx="140.5" cy="609.0" r="3.9"/><circle cx="155.3" cy="589.2" r="3.9"/><circle cx="160.3" cy="576.0" r="3.9"/><circle cx="144.3" cy="754.2" r="3.9"/><circle cx="139.6" cy="727.8" r="3.9"/><circle cx="165.3" cy="510.1" r="3.9"/><circle cx="158.0" cy="675.0" r="3.9"/><circle cx="141.6" cy="760.8" r="3.9"/><circle cx="146.4" cy="688.2" r="3.9"/><circle cx="154.5" cy="523.3" r="3.9"/><circle cx="158.9" cy="780.6" r="3.9"/><circle cx="160.8" cy="463.9" r="3.9"/><circle cx="162.9" cy="589.2" r="3.9"/><circle cx="155.9" cy="450.7" r="3.9"/><circle cx="147.4" cy="635.4" r="3.9"/><circle cx="140.2" cy="615.6" r="3.9"/><circle cx="158.4" cy="708.0" r="3.9"/><circle cx="162.9" cy="589.2" r="3.9"/><circle cx="167.4" cy="886.1" r="3.9"/><circle cx="157.1" cy="780.6" r="3.9"/><circle cx="149.4" cy="635.4" r="3.9"/><circle cx="142.7" cy="681.6" r="3.9"/><circle cx="143.2" cy="529.9" r="3.9"/><circle cx="143.1" cy="628.8" r="3.9"/><circle cx="158.0" cy="655.2" r="3.9"/><circle cx="142.8" cy="747.6" r="3.9"/><circle cx="165.9" cy="727.8" r="3.9"/><circle cx="141.4" cy="562.9" r="3.9"/><circle cx="165.6" cy="490.3" r="3.9"/><circle cx="152.9" cy="774.0" r="3.9"/><circle cx="161.6" cy="635.4" r="3.9"/><circle cx="150.0" cy="622.2" r="3.9"/><circle cx="155.5" cy="576.0" r="3.9"/><circle cx="163.0" cy="694.8" r="3.9"/><circle cx="145.2" cy="556.3" r="3.9"/><circle cx="163.6" cy="714.6" r="3.9"/><circle cx="142.1" cy="622.2" r="3.9"/><circle cx="163.0" cy="675.0" r="3.9"/><circle cx="160.1" cy="661.8" r="3.9"/><circle cx="163.6" cy="595.8" r="3.9"/><circle cx="164.1" cy="628.8" r="3.9"/><circle cx="156.6" cy="688.2" r="3.9"/><circle cx="155.2" cy="655.2" r="3.9"/><circle cx="164.3" cy="503.5" r="3.9"/><circle cx="147.8" cy="371.5" r="3.9"/><circle cx="160.4" cy="675.0" r="3.9"/><circle cx="162.9" cy="609.0" r="3.9"/><circle cx="166.2" cy="714.6" r="3.9"/><circle cx="141.2" cy="727.8" r="3.9"/><circle cx="138.5" cy="793.8" r="3.9"/><circle cx="154.6" cy="648.6" r="3.9"/><circle cx="145.0" cy="635.4" r="3.9"/><circle cx="146.2" cy="754.2" r="3.9"/><circle cx="165.6" cy="562.9" r="3.9"/><circle cx="151.3" cy="655.2" r="3.9"/><circle cx="148.3" cy="595.8" r="3.9"/><circle cx="167.1" cy="642.0" r="3.9"/><circle cx="147.2" cy="496.9" r="3.9"/><circle cx="144.9" cy="556.3" r="3.9"/><circle cx="139.4" cy="602.4" r="3.9"/><circle cx="154.6" cy="516.7" r="3.9"/><circle cx="163.6" cy="787.2" r="3.9"/><circle cx="166.3" cy="820.1" r="3.9"/><circle cx="146.5" cy="701.4" r="3.9"/><circle cx="161.7" cy="595.8" r="3.9"/><circle cx="143.6" cy="569.5" r="3.9"/><circle cx="144.0" cy="642.0" r="3.9"/><circle cx="157.0" cy="741.0" r="3.9"/><circle cx="146.5" cy="767.4" r="3.9"/><circle cx="157.9" cy="648.6" r="3.9"/><circle cx="165.1" cy="668.4" r="3.9"/><circle cx="164.0" cy="450.7" r="3.9"/><circle cx="155.2" cy="655.2" r="3.9"/><circle cx="147.2" cy="806.9" r="3.9"/><circle cx="155.3" cy="780.6" r="3.9"/><circle cx="144.1" cy="529.9" r="3.9"/><circle cx="165.4" cy="615.6" r="3.9"/><circle cx="147.2" cy="602.4" r="3.9"/><circle cx="167.3" cy="595.8" r="3.9"/><circle cx="147.4" cy="490.3" r="3.9"/><circle cx="151.5" cy="582.6" r="3.9"/><circle cx="154.1" cy="628.8" r="3.9"/><circle cx="156.3" cy="510.1" r="3.9"/><circle cx="159.0" cy="609.0" r="3.9"/><circle cx="157.6" cy="655.2" r="3.9"/><circle cx="143.9" cy="635.4" r="3.9"/><circle cx="166.0" cy="635.4" r="3.9"/><circle cx="142.4" cy="595.8" r="3.9"/><circle cx="157.4" cy="668.4" r="3.9"/><circle cx="142.8" cy="556.3" r="3.9"/><circle cx="141.2" cy="576.0" r="3.9"/><circle cx="163.6" cy="595.8" r="3.9"/><circle cx="150.9" cy="569.5" r="3.9"/><circle cx="142.2" cy="450.7" r="3.9"/><circle cx="158.0" cy="734.4" r="3.9"/><circle cx="154.1" cy="661.8" r="3.9"/><circle cx="140.8" cy="628.8" r="3.9"/><circle cx="139.5" cy="694.8" r="3.9"/><circle cx="155.8" cy="549.7" r="3.9"/><circle cx="161.7" cy="655.2" r="3.9"/><circle cx="152.5" cy="648.6" r="3.9"/><circle cx="161.5" cy="635.4" r="3.9"/><circle cx="163.5" cy="503.5" r="3.9"/><circle cx="166.2" cy="569.5" r="3.9"/><circle cx="162.0" cy="661.8" r="3.9"/><circle cx="163.6" cy="661.8" r="3.9"/><circle cx="161.3" cy="411.1" r="3.9"/><circle cx="157.8" cy="569.5" r="3.9"/><circle cx="149.1" cy="490.3" r="3.9"/><circle cx="142.6" cy="345.2" r="3.9"/><circle cx="152.4" cy="681.6" r="3.9"/><circle cx="160.0" cy="312.2" r="3.9"/><circle cx="164.5" cy="668.4" r="3.9"/><circle cx="151.8" cy="635.4" r="3.9"/><circle cx="158.4" cy="318.8" r="3.9"/><circle cx="162.7" cy="675.0" r="3.9"/><circle cx="149.4" cy="285.8" r="3.9"/><circle cx="144.2" cy="668.4" r="3.9"/><circle cx="160.9" cy="628.8" r="3.9"/><circle cx="165.7" cy="602.4" r="3.9"/><circle cx="158.7" cy="635.4" r="3.9"/><circle cx="146.4" cy="635.4" r="3.9"/><circle cx="143.5" cy="622.2" r="3.9"/><circle cx="166.0" cy="279.2" r="3.9"/><circle cx="167.5" cy="668.4" r="3.9"/><circle cx="140.5" cy="569.5" r="3.9"/><circle cx="152.0" cy="562.9" r="3.9"/><circle cx="150.8" cy="582.6" r="3.9"/><circle cx="160.6" cy="562.9" r="3.9"/><circle cx="155.9" cy="417.7" r="3.9"/><circle cx="165.2" cy="675.0" r="3.9"/><circle cx="149.2" cy="595.8" r="3.9"/><circle cx="143.0" cy="543.1" r="3.9"/><circle cx="163.7" cy="694.8" r="3.9"/><circle cx="153.4" cy="569.5" r="3.9"/><circle cx="151.1" cy="688.2" r="3.9"/><circle cx="147.8" cy="642.0" r="3.9"/><circle cx="150.0" cy="615.6" r="3.9"/><circle cx="162.2" cy="576.0" r="3.9"/><circle cx="156.2" cy="642.0" r="3.9"/><circle cx="164.5" cy="701.4" r="3.9"/><circle cx="156.6" cy="615.6" r="3.9"/><circle cx="160.1" cy="628.8" r="3.9"/><circle cx="144.4" cy="523.3" r="3.9"/><circle cx="151.9" cy="582.6" r="3.9"/><circle cx="158.8" cy="688.2" r="3.9"/><circle cx="162.3" cy="510.1" r="3.9"/><circle cx="147.8" cy="655.2" r="3.9"/><circle cx="152.3" cy="496.9" r="3.9"/><circle cx="148.0" cy="661.8" r="3.9"/><circle cx="140.1" cy="628.8" r="3.9"/><circle cx="156.8" cy="642.0" r="3.9"/><circle cx="146.3" cy="648.6" r="3.9"/><circle cx="144.3" cy="582.6" r="3.9"/><circle cx="149.4" cy="609.0" r="3.9"/><circle cx="163.8" cy="325.4" r="3.9"/><circle cx="151.2" cy="668.4" r="3.9"/><circle cx="161.9" cy="483.7" r="3.9"/><circle cx="162.2" cy="378.1" r="3.9"/><circle cx="148.6" cy="787.2" r="3.9"/><circle cx="142.8" cy="708.0" r="3.9"/><circle cx="142.1" cy="523.3" r="3.9"/><circle cx="144.1" cy="483.7" r="3.9"/><circle cx="154.9" cy="424.3" r="3.9"/><circle cx="151.2" cy="582.6" r="3.9"/><circle cx="154.5" cy="668.4" r="3.9"/><circle cx="146.9" cy="602.4" r="3.9"/><circle cx="145.9" cy="642.0" r="3.9"/><circle cx="156.5" cy="543.1" r="3.9"/><circle cx="164.9" cy="741.0" r="3.9"/><circle cx="159.9" cy="668.4" r="3.9"/><circle cx="153.2" cy="569.5" r="3.9"/><circle cx="162.7" cy="767.4" r="3.9"/><circle cx="166.2" cy="668.4" r="3.9"/><circle cx="145.0" cy="595.8" r="3.9"/><circle cx="142.0" cy="556.3" r="3.9"/><circle cx="164.4" cy="708.0" r="3.9"/><circle cx="160.0" cy="793.8" r="3.9"/><circle cx="147.5" cy="661.8" r="3.9"/><circle cx="152.1" cy="727.8" r="3.9"/><circle cx="146.1" cy="668.4" r="3.9"/><circle cx="163.8" cy="569.5" r="3.9"/><circle cx="146.2" cy="675.0" r="3.9"/><circle cx="152.1" cy="806.9" r="3.9"/><circle cx="145.5" cy="774.0" r="3.9"/><circle cx="162.7" cy="602.4" r="3.9"/><circle cx="148.2" cy="708.0" r="3.9"/><circle cx="155.7" cy="734.4" r="3.9"/><circle cx="167.0" cy="622.2" r="3.9"/><circle cx="165.0" cy="622.2" r="3.9"/><circle cx="162.8" cy="661.8" r="3.9"/><circle cx="153.1" cy="576.0" r="3.9"/><circle cx="154.4" cy="589.2" r="3.9"/><circle cx="159.6" cy="622.2" r="3.9"/><circle cx="154.0" cy="787.2" r="3.9"/><circle cx="145.0" cy="576.0" r="3.9"/><circle cx="158.9" cy="741.0" r="3.9"/><circle cx="159.4" cy="668.4" r="3.9"/><circle cx="140.2" cy="562.9" r="3.9"/><circle cx="144.5" cy="668.4" r="3.9"/><circle cx="143.2" cy="628.8" r="3.9"/><circle cx="167.6" cy="576.0" r="3.9"/><circle cx="141.0" cy="536.5" r="3.9"/><circle cx="143.7" cy="688.2" r="3.9"/><circle cx="143.9" cy="688.2" r="3.9"/><circle cx="156.4" cy="576.0" r="3.9"/><circle cx="149.3" cy="582.6" r="3.9"/><circle cx="146.5" cy="622.2" r="3.9"/><circle cx="157.5" cy="760.8" r="3.9"/><circle cx="153.3" cy="734.4" r="3.9"/><circle cx="157.2" cy="681.6" r="3.9"/><circle cx="165.7" cy="576.0" r="3.9"/><circle cx="157.7" cy="668.4" r="3.9"/><circle cx="153.0" cy="562.9" r="3.9"/><circle cx="151.3" cy="444.1" r="3.9"/><circle cx="158.3" cy="668.4" r="3.9"/><circle cx="142.6" cy="635.4" r="3.9"/><circle cx="148.1" cy="477.1" r="3.9"/><circle cx="141.8" cy="780.6" r="3.9"/><circle cx="142.9" cy="490.3" r="3.9"/><circle cx="147.6" cy="688.2" r="3.9"/><circle cx="140.0" cy="589.2" r="3.9"/><circle cx="158.7" cy="536.5" r="3.9"/><circle cx="139.9" cy="767.4" r="3.9"/><circle cx="159.5" cy="444.1" r="3.9"/><circle cx="159.2" cy="734.4" r="3.9"/><circle cx="161.9" cy="675.0" r="3.9"/><circle cx="140.9" cy="569.5" r="3.9"/><circle cx="141.5" cy="727.8" r="3.9"/><circle cx="159.5" cy="635.4" r="3.9"/><circle cx="164.4" cy="661.8" r="3.9"/><circle cx="165.0" cy="622.2" r="3.9"/><circle cx="157.1" cy="483.7" r="3.9"/><circle cx="161.9" cy="609.0" r="3.9"/><circle cx="167.3" cy="635.4" r="3.9"/><circle cx="149.2" cy="648.6" r="3.9"/><circle cx="147.2" cy="450.7" r="3.9"/><circle cx="154.5" cy="767.4" r="3.9"/><circle cx="155.1" cy="556.3" r="3.9"/><circle cx="141.1" cy="516.7" r="3.9"/><circle cx="141.2" cy="681.6" r="3.9"/><circle cx="162.2" cy="622.2" r="3.9"/><circle cx="139.3" cy="358.3" r="3.9"/><circle cx="166.2" cy="609.0" r="3.9"/><circle cx="150.9" cy="708.0" r="3.9"/><circle cx="165.2" cy="483.7" r="3.9"/><circle cx="140.4" cy="642.0" r="3.9"/><circle cx="146.4" cy="490.3" r="3.9"/><circle cx="161.0" cy="602.4" r="3.9"/><circle cx="160.3" cy="523.3" r="3.9"/><circle cx="163.1" cy="681.6" r="3.9"/><circle cx="140.4" cy="655.2" r="3.9"/><circle cx="149.4" cy="767.4" r="3.9"/><circle cx="153.8" cy="701.4" r="3.9"/><circle cx="157.3" cy="384.7" r="3.9"/><circle cx="160.3" cy="602.4" r="3.9"/><circle cx="141.4" cy="536.5" r="3.9"/><circle cx="160.2" cy="741.0" r="3.9"/><circle cx="151.4" cy="694.8" r="3.9"/><circle cx="158.5" cy="727.8" r="3.9"/><circle cx="165.6" cy="622.2" r="3.9"/><circle cx="148.8" cy="727.8" r="3.9"/><circle cx="144.7" cy="648.6" r="3.9"/><circle cx="139.8" cy="529.9" r="3.9"/><circle cx="145.4" cy="754.2" r="3.9"/><circle cx="156.8" cy="688.2" r="3.9"/><circle cx="167.2" cy="615.6" r="3.9"/><circle cx="142.7" cy="741.0" r="3.9"/><circle cx="155.8" cy="569.5" r="3.9"/><circle cx="143.2" cy="516.7" r="3.9"/><circle cx="167.1" cy="714.6" r="3.9"/><circle cx="158.7" cy="675.0" r="3.9"/><circle cx="166.9" cy="648.6" r="3.9"/><circle cx="146.3" cy="463.9" r="3.9"/><circle cx="151.3" cy="675.0" r="3.9"/><circle cx="157.9" cy="648.6" r="3.9"/><circle cx="143.4" cy="615.6" r="3.9"/><circle cx="139.5" cy="694.8" r="3.9"/><circle cx="153.5" cy="510.1" r="3.9"/><circle cx="148.9" cy="543.1" r="3.9"/><circle cx="165.3" cy="668.4" r="3.9"/><circle cx="147.4" cy="510.1" r="3.9"/><circle cx="160.3" cy="839.9" r="3.9"/><circle cx="143.7" cy="582.6" r="3.9"/><circle cx="148.0" cy="193.4" r="3.9"/><circle cx="157.7" cy="470.5" r="3.9"/><circle cx="155.3" cy="681.6" r="3.9"/><circle cx="139.2" cy="661.8" r="3.9"/><circle cx="166.9" cy="510.1" r="3.9"/><circle cx="159.7" cy="595.8" r="3.9"/><circle cx="142.2" cy="549.7" r="3.9"/><circle cx="167.6" cy="774.0" r="3.9"/><circle cx="155.3" cy="543.1" r="3.9"/><circle cx="146.4" cy="793.8" r="3.9"/><circle cx="163.7" cy="615.6" r="3.9"/><circle cx="161.3" cy="688.2" r="3.9"/><circle cx="163.1" cy="615.6" r="3.9"/><circle cx="158.0" cy="813.5" r="3.9"/><circle cx="142.2" cy="595.8" r="3.9"/><circle cx="159.2" cy="648.6" r="3.9"/><circle cx="167.1" cy="688.2" r="3.9"/><circle cx="164.9" cy="708.0" r="3.9"/><circle cx="144.5" cy="397.9" r="3.9"/><circle cx="154.1" cy="529.9" r="3.9"/><circle cx="161.3" cy="543.1" r="3.9"/><circle cx="158.7" cy="747.6" r="3.9"/><circle cx="155.4" cy="820.1" r="3.9"/><circle cx="154.0" cy="622.2" r="3.9"/><circle cx="158.6" cy="483.7" r="3.9"/><circle cx="139.6" cy="602.4" r="3.9"/><circle cx="150.7" cy="714.6" r="3.9"/><circle cx="149.6" cy="688.2" r="3.9"/><circle cx="165.8" cy="582.6" r="3.9"/><circle cx="148.5" cy="648.6" r="3.9"/><circle cx="145.3" cy="549.7" r="3.9"/><circle cx="161.1" cy="589.2" r="3.9"/><circle cx="154.3" cy="635.4" r="3.9"/><circle cx="147.0" cy="635.4" r="3.9"/><circle cx="163.0" cy="655.2" r="3.9"/><circle cx="161.5" cy="529.9" r="3.9"/><circle cx="165.2" cy="609.0" r="3.9"/><circle cx="153.8" cy="635.4" r="3.9"/><circle cx="165.6" cy="536.5" r="3.9"/><circle cx="145.0" cy="655.2" r="3.9"/><circle cx="154.1" cy="543.1" r="3.9"/><circle cx="163.8" cy="622.2" r="3.9"/><circle cx="141.2" cy="688.2" r="3.9"/><circle cx="140.8" cy="774.0" r="3.9"/><circle cx="166.7" cy="503.5" r="3.9"/><circle cx="166.3" cy="543.1" r="3.9"/><circle cx="141.7" cy="635.4" r="3.9"/><circle cx="163.4" cy="569.5" r="3.9"/><circle cx="148.3" cy="714.6" r="3.9"/><circle cx="139.1" cy="529.9" r="3.9"/><circle cx="157.3" cy="886.1" r="3.9"/><circle cx="141.7" cy="655.2" r="3.9"/><circle cx="152.5" cy="595.8" r="3.9"/><circle cx="155.3" cy="708.0" r="3.9"/><circle cx="164.9" cy="642.0" r="3.9"/><circle cx="160.9" cy="516.7" r="3.9"/><circle cx="153.6" cy="681.6" r="3.9"/><circle cx="166.4" cy="661.8" r="3.9"/><circle cx="167.6" cy="688.2" r="3.9"/><circle cx="145.7" cy="562.9" r="3.9"/><circle cx="148.7" cy="642.0" r="3.9"/><circle cx="144.5" cy="681.6" r="3.9"/><circle cx="162.0" cy="609.0" r="3.9"/><circle cx="142.6" cy="648.6" r="3.9"/><circle cx="157.2" cy="668.4" r="3.9"/><circle cx="158.6" cy="437.5" r="3.9"/><circle cx="148.4" cy="622.2" r="3.9"/><circle cx="145.6" cy="556.3" r="3.9"/><circle cx="148.0" cy="615.6" r="3.9"/><circle cx="156.4" cy="701.4" r="3.9"/><circle cx="159.1" cy="741.0" r="3.9"/><circle cx="150.5" cy="595.8" r="3.9"/><circle cx="150.2" cy="734.4" r="3.9"/><circle cx="156.5" cy="655.2" r="3.9"/><circle cx="151.0" cy="503.5" r="3.9"/><circle cx="165.3" cy="569.5" r="3.9"/><circle cx="161.1" cy="622.2" r="3.9"/><circle cx="144.2" cy="714.6" r="3.9"/><circle cx="161.1" cy="615.6" r="3.9"/><circle cx="151.9" cy="622.2" r="3.9"/><circle cx="141.5" cy="675.0" r="3.9"/><circle cx="150.0" cy="450.7" r="3.9"/><circle cx="159.6" cy="562.9" r="3.9"/><circle cx="156.5" cy="635.4" r="3.9"/><circle cx="152.9" cy="741.0" r="3.9"/></g>
<g fill="#F15F5D" fill-opacity=".3" stroke="#F15F5D" stroke-opacity=".3" stroke-width="1.6"><circle cx="288.3" cy="661.8" r="3.9"/><circle cx="288.0" cy="615.6" r="3.9"/><circle cx="303.2" cy="609.0" r="3.9"/><circle cx="302.8" cy="714.6" r="3.9"/><circle cx="293.8" cy="523.3" r="3.9"/><circle cx="311.7" cy="556.3" r="3.9"/><circle cx="292.2" cy="642.0" r="3.9"/><circle cx="311.6" cy="839.9" r="3.9"/><circle cx="302.9" cy="859.7" r="3.9"/><circle cx="313.8" cy="675.0" r="3.9"/><circle cx="299.9" cy="800.3" r="3.9"/><circle cx="299.9" cy="668.4" r="3.9"/><circle cx="303.0" cy="615.6" r="3.9"/><circle cx="288.7" cy="708.0" r="3.9"/><circle cx="310.4" cy="721.2" r="3.9"/><circle cx="304.9" cy="589.2" r="3.9"/><circle cx="308.7" cy="543.1" r="3.9"/><circle cx="308.9" cy="668.4" r="3.9"/><circle cx="296.9" cy="774.0" r="3.9"/><circle cx="288.4" cy="635.4" r="3.9"/><circle cx="292.2" cy="543.1" r="3.9"/><circle cx="305.9" cy="708.0" r="3.9"/><circle cx="295.0" cy="562.9" r="3.9"/><circle cx="302.1" cy="721.2" r="3.9"/><circle cx="301.4" cy="576.0" r="3.9"/><circle cx="296.8" cy="800.3" r="3.9"/><circle cx="290.5" cy="562.9" r="3.9"/><circle cx="308.2" cy="648.6" r="3.9"/><circle cx="285.0" cy="457.3" r="3.9"/><circle cx="309.6" cy="628.8" r="3.9"/><circle cx="309.6" cy="721.2" r="3.9"/><circle cx="292.2" cy="536.5" r="3.9"/><circle cx="307.1" cy="806.9" r="3.9"/><circle cx="308.0" cy="595.8" r="3.9"/><circle cx="302.9" cy="826.7" r="3.9"/><circle cx="302.7" cy="364.9" r="3.9"/><circle cx="299.3" cy="615.6" r="3.9"/><circle cx="292.7" cy="708.0" r="3.9"/><circle cx="300.7" cy="655.2" r="3.9"/><circle cx="301.8" cy="701.4" r="3.9"/><circle cx="306.4" cy="714.6" r="3.9"/><circle cx="306.7" cy="635.4" r="3.9"/><circle cx="288.8" cy="529.9" r="3.9"/><circle cx="302.9" cy="741.0" r="3.9"/><circle cx="301.1" cy="668.4" r="3.9"/><circle cx="308.7" cy="642.0" r="3.9"/><circle cx="304.3" cy="655.2" r="3.9"/><circle cx="308.6" cy="562.9" r="3.9"/><circle cx="303.6" cy="741.0" r="3.9"/><circle cx="286.7" cy="642.0" r="3.9"/><circle cx="288.1" cy="734.4" r="3.9"/><circle cx="287.9" cy="569.5" r="3.9"/><circle cx="310.0" cy="648.6" r="3.9"/><circle cx="304.7" cy="787.2" r="3.9"/><circle cx="307.8" cy="701.4" r="3.9"/><circle cx="310.9" cy="734.4" r="3.9"/><circle cx="290.4" cy="470.5" r="3.9"/><circle cx="293.7" cy="239.6" r="3.9"/><circle cx="306.0" cy="668.4" r="3.9"/><circle cx="292.8" cy="787.2" r="3.9"/><circle cx="302.3" cy="576.0" r="3.9"/><circle cx="304.4" cy="602.4" r="3.9"/><circle cx="292.4" cy="595.8" r="3.9"/><circle cx="287.9" cy="635.4" r="3.9"/><circle cx="287.7" cy="879.5" r="3.9"/><circle cx="305.3" cy="727.8" r="3.9"/><circle cx="306.4" cy="754.2" r="3.9"/><circle cx="301.2" cy="642.0" r="3.9"/><circle cx="309.6" cy="701.4" r="3.9"/><circle cx="288.2" cy="688.2" r="3.9"/><circle cx="305.4" cy="642.0" r="3.9"/><circle cx="305.9" cy="793.8" r="3.9"/><circle cx="313.3" cy="582.6" r="3.9"/><circle cx="306.8" cy="457.3" r="3.9"/><circle cx="305.3" cy="675.0" r="3.9"/><circle cx="293.5" cy="602.4" r="3.9"/><circle cx="306.2" cy="437.5" r="3.9"/><circle cx="304.2" cy="595.8" r="3.9"/><circle cx="298.3" cy="642.0" r="3.9"/><circle cx="291.8" cy="391.3" r="3.9"/><circle cx="302.7" cy="444.1" r="3.9"/><circle cx="299.4" cy="516.7" r="3.9"/><circle cx="303.3" cy="681.6" r="3.9"/><circle cx="309.9" cy="628.8" r="3.9"/><circle cx="291.2" cy="556.3" r="3.9"/><circle cx="310.3" cy="470.5" r="3.9"/><circle cx="310.9" cy="635.4" r="3.9"/><circle cx="303.7" cy="562.9" r="3.9"/><circle cx="314.3" cy="549.7" r="3.9"/><circle cx="313.3" cy="635.4" r="3.9"/><circle cx="289.1" cy="648.6" r="3.9"/><circle cx="314.2" cy="655.2" r="3.9"/><circle cx="291.8" cy="463.9" r="3.9"/><circle cx="296.3" cy="714.6" r="3.9"/><circle cx="297.9" cy="661.8" r="3.9"/><circle cx="290.4" cy="338.6" r="3.9"/><circle cx="301.6" cy="741.0" r="3.9"/><circle cx="311.7" cy="589.2" r="3.9"/><circle cx="299.5" cy="727.8" r="3.9"/><circle cx="286.7" cy="576.0" r="3.9"/><circle cx="291.8" cy="503.5" r="3.9"/><circle cx="311.0" cy="872.9" r="3.9"/><circle cx="298.8" cy="602.4" r="3.9"/><circle cx="307.3" cy="668.4" r="3.9"/><circle cx="300.5" cy="582.6" r="3.9"/><circle cx="293.1" cy="635.4" r="3.9"/><circle cx="295.7" cy="708.0" r="3.9"/><circle cx="288.6" cy="661.8" r="3.9"/><circle cx="312.5" cy="576.0" r="3.9"/><circle cx="315.0" cy="569.5" r="3.9"/><circle cx="311.3" cy="655.2" r="3.9"/><circle cx="310.3" cy="747.6" r="3.9"/><circle cx="295.8" cy="721.2" r="3.9"/><circle cx="315.0" cy="688.2" r="3.9"/><circle cx="290.0" cy="820.1" r="3.9"/><circle cx="298.9" cy="727.8" r="3.9"/><circle cx="288.8" cy="582.6" r="3.9"/><circle cx="299.4" cy="351.8" r="3.9"/><circle cx="288.1" cy="694.8" r="3.9"/><circle cx="303.1" cy="628.8" r="3.9"/><circle cx="294.4" cy="628.8" r="3.9"/><circle cx="291.7" cy="675.0" r="3.9"/><circle cx="294.0" cy="661.8" r="3.9"/><circle cx="288.6" cy="714.6" r="3.9"/><circle cx="298.3" cy="701.4" r="3.9"/><circle cx="303.3" cy="536.5" r="3.9"/><circle cx="297.4" cy="839.9" r="3.9"/><circle cx="289.4" cy="694.8" r="3.9"/><circle cx="287.0" cy="708.0" r="3.9"/><circle cx="299.9" cy="714.6" r="3.9"/><circle cx="305.8" cy="694.8" r="3.9"/><circle cx="294.0" cy="694.8" r="3.9"/><circle cx="308.4" cy="820.1" r="3.9"/><circle cx="304.6" cy="576.0" r="3.9"/><circle cx="290.5" cy="569.5" r="3.9"/><circle cx="311.4" cy="582.6" r="3.9"/><circle cx="309.1" cy="595.8" r="3.9"/><circle cx="288.4" cy="688.2" r="3.9"/><circle cx="296.6" cy="595.8" r="3.9"/><circle cx="292.3" cy="642.0" r="3.9"/><circle cx="308.4" cy="793.8" r="3.9"/><circle cx="313.9" cy="694.8" r="3.9"/><circle cx="310.4" cy="628.8" r="3.9"/><circle cx="293.5" cy="747.6" r="3.9"/><circle cx="312.0" cy="681.6" r="3.9"/><circle cx="310.3" cy="734.4" r="3.9"/><circle cx="291.8" cy="549.7" r="3.9"/><circle cx="291.6" cy="767.4" r="3.9"/><circle cx="299.7" cy="820.1" r="3.9"/><circle cx="308.8" cy="609.0" r="3.9"/><circle cx="300.0" cy="747.6" r="3.9"/><circle cx="303.0" cy="675.0" r="3.9"/><circle cx="312.9" cy="602.4" r="3.9"/><circle cx="296.7" cy="556.3" r="3.9"/><circle cx="312.5" cy="754.2" r="3.9"/><circle cx="303.7" cy="576.0" r="3.9"/><circle cx="297.9" cy="675.0" r="3.9"/><circle cx="312.2" cy="483.7" r="3.9"/><circle cx="305.5" cy="628.8" r="3.9"/><circle cx="293.8" cy="582.6" r="3.9"/><circle cx="286.5" cy="628.8" r="3.9"/><circle cx="290.1" cy="648.6" r="3.9"/><circle cx="287.3" cy="582.6" r="3.9"/><circle cx="302.8" cy="780.6" r="3.9"/><circle cx="310.5" cy="622.2" r="3.9"/><circle cx="291.2" cy="694.8" r="3.9"/><circle cx="288.1" cy="609.0" r="3.9"/><circle cx="292.6" cy="536.5" r="3.9"/><circle cx="314.7" cy="609.0" r="3.9"/><circle cx="301.3" cy="417.7" r="3.9"/><circle cx="289.7" cy="701.4" r="3.9"/><circle cx="308.3" cy="721.2" r="3.9"/><circle cx="290.8" cy="688.2" r="3.9"/><circle cx="310.1" cy="589.2" r="3.9"/><circle cx="288.6" cy="741.0" r="3.9"/><circle cx="303.8" cy="615.6" r="3.9"/><circle cx="286.9" cy="477.1" r="3.9"/><circle cx="287.6" cy="595.8" r="3.9"/><circle cx="301.7" cy="595.8" r="3.9"/><circle cx="305.4" cy="470.5" r="3.9"/><circle cx="308.0" cy="582.6" r="3.9"/><circle cx="311.3" cy="635.4" r="3.9"/><circle cx="308.3" cy="688.2" r="3.9"/><circle cx="301.6" cy="602.4" r="3.9"/><circle cx="314.2" cy="839.9" r="3.9"/><circle cx="312.1" cy="800.3" r="3.9"/><circle cx="303.9" cy="780.6" r="3.9"/><circle cx="292.1" cy="714.6" r="3.9"/><circle cx="307.5" cy="767.4" r="3.9"/><circle cx="289.1" cy="648.6" r="3.9"/><circle cx="303.2" cy="668.4" r="3.9"/><circle cx="312.2" cy="562.9" r="3.9"/><circle cx="288.5" cy="411.1" r="3.9"/><circle cx="310.1" cy="668.4" r="3.9"/><circle cx="303.5" cy="622.2" r="3.9"/><circle cx="297.9" cy="549.7" r="3.9"/><circle cx="289.0" cy="556.3" r="3.9"/><circle cx="297.6" cy="681.6" r="3.9"/><circle cx="311.4" cy="708.0" r="3.9"/><circle cx="309.1" cy="760.8" r="3.9"/><circle cx="305.7" cy="595.8" r="3.9"/><circle cx="294.1" cy="708.0" r="3.9"/><circle cx="286.3" cy="470.5" r="3.9"/><circle cx="291.2" cy="721.2" r="3.9"/><circle cx="295.8" cy="569.5" r="3.9"/><circle cx="305.1" cy="688.2" r="3.9"/><circle cx="300.3" cy="589.2" r="3.9"/><circle cx="290.3" cy="661.8" r="3.9"/><circle cx="296.6" cy="615.6" r="3.9"/><circle cx="311.6" cy="747.6" r="3.9"/><circle cx="294.7" cy="562.9" r="3.9"/><circle cx="299.0" cy="694.8" r="3.9"/><circle cx="293.9" cy="727.8" r="3.9"/><circle cx="298.5" cy="767.4" r="3.9"/><circle cx="310.4" cy="582.6" r="3.9"/><circle cx="311.4" cy="450.7" r="3.9"/><circle cx="300.6" cy="635.4" r="3.9"/><circle cx="296.5" cy="635.4" r="3.9"/><circle cx="287.0" cy="747.6" r="3.9"/><circle cx="294.8" cy="635.4" r="3.9"/><circle cx="288.6" cy="701.4" r="3.9"/><circle cx="302.1" cy="569.5" r="3.9"/><circle cx="301.5" cy="615.6" r="3.9"/><circle cx="296.2" cy="609.0" r="3.9"/><circle cx="303.6" cy="510.1" r="3.9"/><circle cx="296.1" cy="694.8" r="3.9"/><circle cx="289.7" cy="681.6" r="3.9"/><circle cx="305.4" cy="404.5" r="3.9"/><circle cx="313.5" cy="655.2" r="3.9"/><circle cx="311.7" cy="787.2" r="3.9"/><circle cx="303.0" cy="681.6" r="3.9"/><circle cx="310.0" cy="675.0" r="3.9"/><circle cx="304.7" cy="727.8" r="3.9"/><circle cx="289.2" cy="767.4" r="3.9"/><circle cx="292.4" cy="661.8" r="3.9"/><circle cx="289.5" cy="800.3" r="3.9"/><circle cx="311.4" cy="351.8" r="3.9"/><circle cx="306.6" cy="602.4" r="3.9"/><circle cx="301.3" cy="463.9" r="3.9"/><circle cx="310.9" cy="529.9" r="3.9"/><circle cx="307.3" cy="609.0" r="3.9"/><circle cx="299.2" cy="741.0" r="3.9"/><circle cx="293.1" cy="457.3" r="3.9"/><circle cx="312.7" cy="701.4" r="3.9"/><circle cx="298.2" cy="734.4" r="3.9"/><circle cx="293.4" cy="688.2" r="3.9"/><circle cx="309.8" cy="708.0" r="3.9"/><circle cx="300.2" cy="694.8" r="3.9"/><circle cx="290.4" cy="721.2" r="3.9"/><circle cx="305.9" cy="576.0" r="3.9"/><circle cx="314.8" cy="609.0" r="3.9"/><circle cx="307.5" cy="628.8" r="3.9"/><circle cx="309.3" cy="516.7" r="3.9"/><circle cx="297.8" cy="701.4" r="3.9"/><circle cx="301.1" cy="543.1" r="3.9"/><circle cx="296.5" cy="642.0" r="3.9"/><circle cx="314.8" cy="615.6" r="3.9"/><circle cx="313.1" cy="648.6" r="3.9"/><circle cx="296.3" cy="727.8" r="3.9"/><circle cx="305.8" cy="556.3" r="3.9"/><circle cx="316.3" cy="457.3" r="3.9"/><circle cx="286.7" cy="582.6" r="3.9"/><circle cx="312.9" cy="681.6" r="3.9"/><circle cx="297.3" cy="727.8" r="3.9"/><circle cx="314.7" cy="582.6" r="3.9"/><circle cx="312.1" cy="615.6" r="3.9"/><circle cx="314.2" cy="741.0" r="3.9"/><circle cx="312.6" cy="615.6" r="3.9"/><circle cx="311.0" cy="675.0" r="3.9"/><circle cx="314.2" cy="582.6" r="3.9"/><circle cx="307.3" cy="741.0" r="3.9"/><circle cx="308.3" cy="741.0" r="3.9"/><circle cx="307.3" cy="595.8" r="3.9"/><circle cx="305.6" cy="556.3" r="3.9"/><circle cx="300.7" cy="655.2" r="3.9"/><circle cx="309.5" cy="648.6" r="3.9"/><circle cx="299.9" cy="589.2" r="3.9"/><circle cx="289.1" cy="648.6" r="3.9"/><circle cx="314.8" cy="813.5" r="3.9"/><circle cx="289.6" cy="754.2" r="3.9"/><circle cx="300.4" cy="510.1" r="3.9"/><circle cx="287.7" cy="628.8" r="3.9"/><circle cx="303.4" cy="576.0" r="3.9"/><circle cx="313.0" cy="602.4" r="3.9"/><circle cx="290.5" cy="708.0" r="3.9"/><circle cx="291.8" cy="628.8" r="3.9"/><circle cx="306.8" cy="721.2" r="3.9"/><circle cx="303.7" cy="635.4" r="3.9"/><circle cx="305.6" cy="589.2" r="3.9"/><circle cx="304.7" cy="556.3" r="3.9"/><circle cx="298.0" cy="345.2" r="3.9"/><circle cx="304.6" cy="694.8" r="3.9"/><circle cx="307.0" cy="556.3" r="3.9"/><circle cx="302.2" cy="562.9" r="3.9"/><circle cx="288.0" cy="628.8" r="3.9"/><circle cx="288.0" cy="688.2" r="3.9"/><circle cx="287.4" cy="655.2" r="3.9"/><circle cx="315.0" cy="543.1" r="3.9"/><circle cx="298.1" cy="813.5" r="3.9"/><circle cx="302.2" cy="615.6" r="3.9"/><circle cx="311.2" cy="668.4" r="3.9"/><circle cx="314.6" cy="635.4" r="3.9"/><circle cx="311.2" cy="668.4" r="3.9"/><circle cx="314.6" cy="708.0" r="3.9"/><circle cx="287.6" cy="602.4" r="3.9"/><circle cx="289.4" cy="747.6" r="3.9"/><circle cx="303.9" cy="576.0" r="3.9"/><circle cx="301.8" cy="589.2" r="3.9"/><circle cx="297.0" cy="595.8" r="3.9"/><circle cx="298.9" cy="622.2" r="3.9"/><circle cx="314.1" cy="384.7" r="3.9"/><circle cx="312.7" cy="595.8" r="3.9"/><circle cx="304.8" cy="589.2" r="3.9"/><circle cx="302.1" cy="516.7" r="3.9"/><circle cx="307.6" cy="800.3" r="3.9"/><circle cx="308.6" cy="681.6" r="3.9"/><circle cx="300.7" cy="721.2" r="3.9"/><circle cx="298.9" cy="741.0" r="3.9"/><circle cx="304.7" cy="675.0" r="3.9"/><circle cx="304.8" cy="754.2" r="3.9"/><circle cx="307.9" cy="576.0" r="3.9"/><circle cx="306.1" cy="668.4" r="3.9"/><circle cx="291.1" cy="562.9" r="3.9"/><circle cx="306.8" cy="727.8" r="3.9"/><circle cx="287.5" cy="648.6" r="3.9"/><circle cx="297.9" cy="609.0" r="3.9"/><circle cx="289.4" cy="529.9" r="3.9"/><circle cx="292.4" cy="576.0" r="3.9"/><circle cx="302.6" cy="648.6" r="3.9"/><circle cx="292.3" cy="675.0" r="3.9"/><circle cx="297.8" cy="714.6" r="3.9"/><circle cx="294.5" cy="430.9" r="3.9"/><circle cx="296.3" cy="628.8" r="3.9"/><circle cx="294.6" cy="549.7" r="3.9"/><circle cx="296.6" cy="760.8" r="3.9"/><circle cx="312.8" cy="609.0" r="3.9"/><circle cx="315.2" cy="859.7" r="3.9"/><circle cx="310.9" cy="609.0" r="3.9"/><circle cx="288.3" cy="793.8" r="3.9"/><circle cx="310.1" cy="721.2" r="3.9"/><circle cx="287.9" cy="668.4" r="3.9"/><circle cx="307.2" cy="774.0" r="3.9"/><circle cx="292.6" cy="694.8" r="3.9"/><circle cx="308.5" cy="549.7" r="3.9"/><circle cx="312.2" cy="609.0" r="3.9"/><circle cx="301.1" cy="800.3" r="3.9"/><circle cx="311.6" cy="628.8" r="3.9"/><circle cx="312.3" cy="661.8" r="3.9"/><circle cx="301.0" cy="543.1" r="3.9"/><circle cx="304.5" cy="853.1" r="3.9"/><circle cx="309.6" cy="635.4" r="3.9"/><circle cx="306.8" cy="694.8" r="3.9"/><circle cx="285.8" cy="384.7" r="3.9"/><circle cx="301.5" cy="569.5" r="3.9"/><circle cx="305.4" cy="496.9" r="3.9"/><circle cx="309.2" cy="510.1" r="3.9"/><circle cx="304.1" cy="694.8" r="3.9"/><circle cx="305.2" cy="635.4" r="3.9"/><circle cx="305.4" cy="694.8" r="3.9"/><circle cx="309.2" cy="668.4" r="3.9"/><circle cx="305.6" cy="602.4" r="3.9"/><circle cx="300.0" cy="510.1" r="3.9"/><circle cx="313.7" cy="523.3" r="3.9"/><circle cx="293.6" cy="661.8" r="3.9"/><circle cx="296.5" cy="774.0" r="3.9"/><circle cx="295.6" cy="780.6" r="3.9"/><circle cx="314.8" cy="602.4" r="3.9"/><circle cx="303.1" cy="642.0" r="3.9"/><circle cx="293.4" cy="774.0" r="3.9"/><circle cx="312.7" cy="569.5" r="3.9"/><circle cx="298.9" cy="655.2" r="3.9"/><circle cx="305.4" cy="424.3" r="3.9"/><circle cx="307.2" cy="576.0" r="3.9"/><circle cx="290.5" cy="767.4" r="3.9"/><circle cx="287.1" cy="628.8" r="3.9"/><circle cx="312.6" cy="806.9" r="3.9"/><circle cx="299.3" cy="615.6" r="3.9"/><circle cx="307.1" cy="872.9" r="3.9"/><circle cx="290.7" cy="622.2" r="3.9"/><circle cx="305.4" cy="477.1" r="3.9"/><circle cx="298.2" cy="582.6" r="3.9"/><circle cx="289.0" cy="886.1" r="3.9"/><circle cx="308.5" cy="708.0" r="3.9"/><circle cx="298.6" cy="503.5" r="3.9"/><circle cx="287.7" cy="444.1" r="3.9"/><circle cx="292.0" cy="760.8" r="3.9"/><circle cx="303.2" cy="536.5" r="3.9"/><circle cx="310.5" cy="635.4" r="3.9"/><circle cx="292.1" cy="543.1" r="3.9"/><circle cx="308.7" cy="266.0" r="3.9"/><circle cx="289.7" cy="661.8" r="3.9"/><circle cx="302.3" cy="668.4" r="3.9"/><circle cx="300.5" cy="615.6" r="3.9"/><circle cx="312.3" cy="661.8" r="3.9"/><circle cx="293.1" cy="727.8" r="3.9"/><circle cx="298.2" cy="708.0" r="3.9"/><circle cx="294.1" cy="523.3" r="3.9"/><circle cx="307.3" cy="615.6" r="3.9"/><circle cx="311.3" cy="648.6" r="3.9"/><circle cx="310.5" cy="642.0" r="3.9"/><circle cx="295.3" cy="543.1" r="3.9"/><circle cx="309.1" cy="635.4" r="3.9"/><circle cx="299.1" cy="582.6" r="3.9"/><circle cx="297.3" cy="589.2" r="3.9"/><circle cx="307.2" cy="589.2" r="3.9"/><circle cx="304.1" cy="721.2" r="3.9"/><circle cx="287.7" cy="615.6" r="3.9"/><circle cx="298.8" cy="734.4" r="3.9"/><circle cx="308.1" cy="483.7" r="3.9"/><circle cx="298.5" cy="675.0" r="3.9"/><circle cx="300.1" cy="642.0" r="3.9"/><circle cx="289.9" cy="437.5" r="3.9"/><circle cx="310.4" cy="615.6" r="3.9"/><circle cx="291.1" cy="648.6" r="3.9"/><circle cx="311.4" cy="754.2" r="3.9"/><circle cx="305.5" cy="681.6" r="3.9"/><circle cx="297.2" cy="457.3" r="3.9"/><circle cx="306.6" cy="549.7" r="3.9"/><circle cx="315.0" cy="602.4" r="3.9"/><circle cx="313.7" cy="774.0" r="3.9"/><circle cx="291.5" cy="589.2" r="3.9"/><circle cx="299.3" cy="556.3" r="3.9"/><circle cx="299.8" cy="688.2" r="3.9"/><circle cx="306.3" cy="510.1" r="3.9"/><circle cx="312.7" cy="708.0" r="3.9"/><circle cx="311.4" cy="463.9" r="3.9"/><circle cx="291.5" cy="767.4" r="3.9"/><circle cx="306.8" cy="503.5" r="3.9"/><circle cx="289.6" cy="622.2" r="3.9"/><circle cx="291.5" cy="800.3" r="3.9"/><circle cx="311.8" cy="655.2" r="3.9"/><circle cx="293.0" cy="727.8" r="3.9"/><circle cx="298.1" cy="661.8" r="3.9"/><circle cx="302.0" cy="622.2" r="3.9"/><circle cx="311.9" cy="708.0" r="3.9"/><circle cx="311.5" cy="760.8" r="3.9"/><circle cx="307.3" cy="628.8" r="3.9"/><circle cx="289.8" cy="510.1" r="3.9"/><circle cx="309.9" cy="635.4" r="3.9"/><circle cx="290.2" cy="615.6" r="3.9"/><circle cx="303.0" cy="800.3" r="3.9"/><circle cx="300.7" cy="602.4" r="3.9"/><circle cx="314.1" cy="582.6" r="3.9"/><circle cx="303.4" cy="642.0" r="3.9"/><circle cx="293.0" cy="622.2" r="3.9"/><circle cx="308.5" cy="780.6" r="3.9"/><circle cx="289.3" cy="589.2" r="3.9"/><circle cx="296.3" cy="576.0" r="3.9"/><circle cx="304.8" cy="615.6" r="3.9"/><circle cx="287.3" cy="569.5" r="3.9"/><circle cx="314.2" cy="701.4" r="3.9"/><circle cx="292.6" cy="661.8" r="3.9"/><circle cx="297.5" cy="754.2" r="3.9"/><circle cx="309.0" cy="694.8" r="3.9"/><circle cx="287.0" cy="688.2" r="3.9"/><circle cx="300.9" cy="628.8" r="3.9"/><circle cx="286.9" cy="648.6" r="3.9"/><circle cx="291.6" cy="642.0" r="3.9"/><circle cx="296.7" cy="668.4" r="3.9"/><circle cx="290.5" cy="661.8" r="3.9"/><circle cx="312.1" cy="648.6" r="3.9"/><circle cx="303.1" cy="595.8" r="3.9"/><circle cx="290.6" cy="714.6" r="3.9"/><circle cx="298.9" cy="549.7" r="3.9"/><circle cx="305.4" cy="490.3" r="3.9"/><circle cx="304.3" cy="701.4" r="3.9"/><circle cx="295.8" cy="642.0" r="3.9"/><circle cx="291.4" cy="602.4" r="3.9"/><circle cx="310.8" cy="708.0" r="3.9"/><circle cx="295.5" cy="549.7" r="3.9"/><circle cx="297.4" cy="754.2" r="3.9"/><circle cx="309.2" cy="589.2" r="3.9"/><circle cx="310.9" cy="754.2" r="3.9"/><circle cx="293.3" cy="694.8" r="3.9"/><circle cx="308.9" cy="681.6" r="3.9"/><circle cx="310.2" cy="714.6" r="3.9"/><circle cx="302.9" cy="813.5" r="3.9"/><circle cx="296.6" cy="595.8" r="3.9"/><circle cx="302.4" cy="628.8" r="3.9"/><circle cx="286.7" cy="556.3" r="3.9"/><circle cx="309.6" cy="774.0" r="3.9"/><circle cx="299.7" cy="615.6" r="3.9"/><circle cx="286.6" cy="668.4" r="3.9"/><circle cx="313.8" cy="595.8" r="3.9"/><circle cx="286.8" cy="859.7" r="3.9"/><circle cx="306.6" cy="569.5" r="3.9"/><circle cx="302.5" cy="642.0" r="3.9"/><circle cx="309.1" cy="648.6" r="3.9"/><circle cx="300.5" cy="747.6" r="3.9"/><circle cx="306.6" cy="675.0" r="3.9"/><circle cx="288.4" cy="615.6" r="3.9"/><circle cx="297.0" cy="615.6" r="3.9"/><circle cx="312.5" cy="622.2" r="3.9"/><circle cx="290.6" cy="675.0" r="3.9"/><circle cx="293.4" cy="529.9" r="3.9"/><circle cx="291.6" cy="516.7" r="3.9"/><circle cx="299.3" cy="675.0" r="3.9"/><circle cx="289.1" cy="523.3" r="3.9"/><circle cx="308.3" cy="655.2" r="3.9"/><circle cx="297.9" cy="648.6" r="3.9"/><circle cx="292.5" cy="562.9" r="3.9"/><circle cx="296.8" cy="628.8" r="3.9"/><circle cx="290.6" cy="569.5" r="3.9"/><circle cx="293.7" cy="694.8" r="3.9"/><circle cx="314.8" cy="727.8" r="3.9"/><circle cx="287.7" cy="661.8" r="3.9"/><circle cx="294.6" cy="602.4" r="3.9"/><circle cx="299.5" cy="562.9" r="3.9"/><circle cx="290.8" cy="760.8" r="3.9"/><circle cx="304.2" cy="688.2" r="3.9"/><circle cx="289.7" cy="694.8" r="3.9"/><circle cx="313.4" cy="694.8" r="3.9"/><circle cx="302.0" cy="708.0" r="3.9"/><circle cx="290.6" cy="681.6" r="3.9"/><circle cx="311.7" cy="727.8" r="3.9"/><circle cx="311.0" cy="668.4" r="3.9"/><circle cx="303.3" cy="562.9" r="3.9"/><circle cx="301.6" cy="701.4" r="3.9"/><circle cx="307.2" cy="760.8" r="3.9"/><circle cx="289.5" cy="734.4" r="3.9"/><circle cx="294.8" cy="820.1" r="3.9"/><circle cx="292.0" cy="675.0" r="3.9"/><circle cx="299.0" cy="734.4" r="3.9"/><circle cx="296.9" cy="708.0" r="3.9"/><circle cx="294.5" cy="437.5" r="3.9"/><circle cx="297.1" cy="642.0" r="3.9"/><circle cx="297.9" cy="701.4" r="3.9"/><circle cx="290.4" cy="483.7" r="3.9"/><circle cx="292.6" cy="681.6" r="3.9"/><circle cx="313.9" cy="615.6" r="3.9"/><circle cx="307.7" cy="727.8" r="3.9"/><circle cx="292.4" cy="760.8" r="3.9"/><circle cx="303.7" cy="714.6" r="3.9"/><circle cx="299.2" cy="549.7" r="3.9"/><circle cx="304.8" cy="741.0" r="3.9"/><circle cx="301.1" cy="536.5" r="3.9"/><circle cx="296.3" cy="549.7" r="3.9"/><circle cx="287.7" cy="681.6" r="3.9"/><circle cx="300.1" cy="589.2" r="3.9"/><circle cx="293.6" cy="714.6" r="3.9"/><circle cx="303.8" cy="569.5" r="3.9"/><circle cx="294.0" cy="609.0" r="3.9"/><circle cx="287.9" cy="688.2" r="3.9"/><circle cx="289.4" cy="655.2" r="3.9"/><circle cx="313.7" cy="582.6" r="3.9"/><circle cx="293.2" cy="668.4" r="3.9"/><circle cx="296.3" cy="694.8" r="3.9"/><circle cx="295.8" cy="622.2" r="3.9"/><circle cx="299.0" cy="523.3" r="3.9"/><circle cx="289.4" cy="543.1" r="3.9"/><circle cx="297.9" cy="635.4" r="3.9"/><circle cx="289.0" cy="503.5" r="3.9"/><circle cx="289.9" cy="655.2" r="3.9"/><circle cx="302.3" cy="760.8" r="3.9"/><circle cx="308.6" cy="747.6" r="3.9"/><circle cx="311.8" cy="642.0" r="3.9"/><circle cx="297.2" cy="450.7" r="3.9"/><circle cx="305.5" cy="615.6" r="3.9"/><circle cx="307.9" cy="635.4" r="3.9"/><circle cx="306.2" cy="556.3" r="3.9"/><circle cx="293.9" cy="642.0" r="3.9"/><circle cx="312.3" cy="741.0" r="3.9"/><circle cx="306.9" cy="655.2" r="3.9"/><circle cx="293.4" cy="800.3" r="3.9"/><circle cx="301.4" cy="688.2" r="3.9"/><circle cx="288.6" cy="602.4" r="3.9"/><circle cx="294.2" cy="595.8" r="3.9"/><circle cx="292.5" cy="661.8" r="3.9"/><circle cx="301.6" cy="628.8" r="3.9"/><circle cx="294.3" cy="582.6" r="3.9"/><circle cx="294.1" cy="727.8" r="3.9"/><circle cx="292.6" cy="609.0" r="3.9"/><circle cx="305.4" cy="483.7" r="3.9"/><circle cx="294.2" cy="675.0" r="3.9"/><circle cx="299.2" cy="661.8" r="3.9"/><circle cx="292.3" cy="628.8" r="3.9"/><circle cx="307.2" cy="615.6" r="3.9"/><circle cx="288.7" cy="688.2" r="3.9"/><circle cx="292.7" cy="635.4" r="3.9"/><circle cx="298.6" cy="411.1" r="3.9"/><circle cx="299.5" cy="701.4" r="3.9"/><circle cx="296.6" cy="661.8" r="3.9"/><circle cx="297.8" cy="721.2" r="3.9"/><circle cx="290.8" cy="714.6" r="3.9"/><circle cx="288.4" cy="806.9" r="3.9"/><circle cx="290.3" cy="681.6" r="3.9"/><circle cx="310.3" cy="655.2" r="3.9"/><circle cx="306.7" cy="741.0" r="3.9"/><circle cx="314.2" cy="529.9" r="3.9"/><circle cx="288.1" cy="589.2" r="3.9"/><circle cx="304.5" cy="760.8" r="3.9"/><circle cx="310.4" cy="569.5" r="3.9"/><circle cx="306.1" cy="628.8" r="3.9"/><circle cx="292.9" cy="589.2" r="3.9"/><circle cx="302.3" cy="569.5" r="3.9"/><circle cx="287.6" cy="681.6" r="3.9"/><circle cx="310.1" cy="767.4" r="3.9"/><circle cx="288.5" cy="767.4" r="3.9"/><circle cx="293.8" cy="562.9" r="3.9"/><circle cx="298.2" cy="655.2" r="3.9"/><circle cx="287.0" cy="734.4" r="3.9"/><circle cx="300.8" cy="688.2" r="3.9"/><circle cx="292.3" cy="424.3" r="3.9"/><circle cx="299.7" cy="866.3" r="3.9"/><circle cx="288.4" cy="609.0" r="3.9"/><circle cx="294.7" cy="701.4" r="3.9"/><circle cx="304.0" cy="681.6" r="3.9"/><circle cx="304.5" cy="688.2" r="3.9"/><circle cx="299.7" cy="708.0" r="3.9"/><circle cx="311.4" cy="503.5" r="3.9"/><circle cx="293.0" cy="536.5" r="3.9"/><circle cx="297.5" cy="595.8" r="3.9"/><circle cx="312.7" cy="681.6" r="3.9"/><circle cx="295.2" cy="635.4" r="3.9"/><circle cx="292.0" cy="602.4" r="3.9"/><circle cx="309.2" cy="635.4" r="3.9"/><circle cx="286.7" cy="556.3" r="3.9"/><circle cx="303.6" cy="648.6" r="3.9"/><circle cx="311.3" cy="681.6" r="3.9"/><circle cx="287.1" cy="516.7" r="3.9"/><circle cx="309.1" cy="774.0" r="3.9"/><circle cx="292.5" cy="589.2" r="3.9"/><circle cx="297.8" cy="615.6" r="3.9"/><circle cx="289.4" cy="694.8" r="3.9"/><circle cx="291.7" cy="622.2" r="3.9"/><circle cx="297.7" cy="576.0" r="3.9"/><circle cx="309.4" cy="714.6" r="3.9"/><circle cx="300.5" cy="661.8" r="3.9"/><circle cx="298.6" cy="780.6" r="3.9"/><circle cx="290.1" cy="602.4" r="3.9"/><circle cx="307.6" cy="173.6" r="3.9"/><circle cx="306.1" cy="905.9" r="3.9"/><circle cx="292.2" cy="655.2" r="3.9"/><circle cx="311.4" cy="457.3" r="3.9"/><circle cx="309.9" cy="642.0" r="3.9"/><circle cx="291.8" cy="694.8" r="3.9"/><circle cx="313.6" cy="477.1" r="3.9"/><circle cx="289.0" cy="675.0" r="3.9"/><circle cx="303.8" cy="622.2" r="3.9"/><circle cx="293.7" cy="701.4" r="3.9"/><circle cx="302.4" cy="589.2" r="3.9"/><circle cx="286.5" cy="681.6" r="3.9"/><circle cx="312.9" cy="714.6" r="3.9"/><circle cx="298.9" cy="622.2" r="3.9"/><circle cx="307.1" cy="569.5" r="3.9"/><circle cx="300.8" cy="681.6" r="3.9"/><circle cx="308.1" cy="424.3" r="3.9"/><circle cx="290.6" cy="576.0" r="3.9"/><circle cx="295.5" cy="833.3" r="3.9"/><circle cx="291.4" cy="562.9" r="3.9"/><circle cx="297.3" cy="582.6" r="3.9"/><circle cx="288.7" cy="714.6" r="3.9"/><circle cx="301.5" cy="668.4" r="3.9"/><circle cx="289.2" cy="648.6" r="3.9"/><circle cx="302.9" cy="569.5" r="3.9"/><circle cx="313.5" cy="642.0" r="3.9"/><circle cx="287.2" cy="668.4" r="3.9"/><circle cx="293.0" cy="609.0" r="3.9"/><circle cx="295.4" cy="582.6" r="3.9"/><circle cx="296.9" cy="609.0" r="3.9"/><circle cx="295.4" cy="688.2" r="3.9"/><circle cx="313.0" cy="490.3" r="3.9"/><circle cx="312.5" cy="774.0" r="3.9"/><circle cx="292.5" cy="642.0" r="3.9"/><circle cx="295.9" cy="490.3" r="3.9"/><circle cx="301.3" cy="457.3" r="3.9"/><circle cx="313.6" cy="503.5" r="3.9"/><circle cx="298.3" cy="675.0" r="3.9"/><circle cx="291.7" cy="688.2" r="3.9"/><circle cx="289.1" cy="556.3" r="3.9"/><circle cx="303.3" cy="661.8" r="3.9"/><circle cx="312.9" cy="628.8" r="3.9"/><circle cx="291.3" cy="635.4" r="3.9"/><circle cx="309.1" cy="701.4" r="3.9"/><circle cx="297.2" cy="470.5" r="3.9"/><circle cx="307.5" cy="714.6" r="3.9"/><circle cx="302.0" cy="635.4" r="3.9"/><circle cx="300.8" cy="767.4" r="3.9"/><circle cx="290.0" cy="793.8" r="3.9"/><circle cx="299.4" cy="371.5" r="3.9"/><circle cx="291.9" cy="734.4" r="3.9"/><circle cx="288.3" cy="582.6" r="3.9"/><circle cx="311.1" cy="576.0" r="3.9"/><circle cx="296.7" cy="635.4" r="3.9"/><circle cx="298.1" cy="859.7" r="3.9"/><circle cx="305.0" cy="787.2" r="3.9"/><circle cx="314.8" cy="721.2" r="3.9"/><circle cx="305.9" cy="760.8" r="3.9"/><circle cx="303.8" cy="569.5" r="3.9"/><circle cx="312.2" cy="397.9" r="3.9"/><circle cx="311.8" cy="589.2" r="3.9"/><circle cx="306.2" cy="562.9" r="3.9"/><circle cx="299.3" cy="602.4" r="3.9"/><circle cx="292.5" cy="622.2" r="3.9"/><circle cx="288.4" cy="595.8" r="3.9"/><circle cx="288.5" cy="734.4" r="3.9"/><circle cx="302.7" cy="490.3" r="3.9"/><circle cx="297.8" cy="609.0" r="3.9"/><circle cx="298.2" cy="576.0" r="3.9"/><circle cx="294.4" cy="602.4" r="3.9"/><circle cx="300.3" cy="595.8" r="3.9"/><circle cx="314.0" cy="701.4" r="3.9"/><circle cx="292.0" cy="681.6" r="3.9"/><circle cx="309.5" cy="490.3" r="3.9"/><circle cx="313.9" cy="635.4" r="3.9"/><circle cx="296.8" cy="648.6" r="3.9"/><circle cx="303.9" cy="655.2" r="3.9"/><circle cx="291.1" cy="675.0" r="3.9"/><circle cx="287.8" cy="668.4" r="3.9"/><circle cx="301.2" cy="701.4" r="3.9"/><circle cx="303.7" cy="655.2" r="3.9"/><circle cx="303.2" cy="576.0" r="3.9"/><circle cx="291.3" cy="780.6" r="3.9"/><circle cx="289.9" cy="727.8" r="3.9"/><circle cx="310.6" cy="655.2" r="3.9"/><circle cx="295.7" cy="661.8" r="3.9"/><circle cx="297.2" cy="681.6" r="3.9"/><circle cx="305.9" cy="569.5" r="3.9"/><circle cx="296.4" cy="609.0" r="3.9"/><circle cx="289.6" cy="661.8" r="3.9"/><circle cx="297.4" cy="642.0" r="3.9"/><circle cx="313.2" cy="622.2" r="3.9"/><circle cx="298.0" cy="602.4" r="3.9"/><circle cx="314.4" cy="727.8" r="3.9"/><circle cx="297.4" cy="556.3" r="3.9"/><circle cx="313.4" cy="595.8" r="3.9"/><circle cx="313.3" cy="734.4" r="3.9"/><circle cx="303.5" cy="556.3" r="3.9"/><circle cx="310.5" cy="642.0" r="3.9"/><circle cx="288.3" cy="622.2" r="3.9"/><circle cx="294.2" cy="576.0" r="3.9"/><circle cx="296.5" cy="622.2" r="3.9"/><circle cx="314.1" cy="411.1" r="3.9"/><circle cx="294.0" cy="780.6" r="3.9"/><circle cx="292.3" cy="741.0" r="3.9"/><circle cx="301.3" cy="483.7" r="3.9"/><circle cx="295.9" cy="463.9" r="3.9"/><circle cx="299.4" cy="648.6" r="3.9"/><circle cx="314.8" cy="846.5" r="3.9"/><circle cx="292.9" cy="701.4" r="3.9"/><circle cx="300.0" cy="655.2" r="3.9"/><circle cx="303.2" cy="708.0" r="3.9"/><circle cx="292.1" cy="609.0" r="3.9"/><circle cx="300.1" cy="688.2" r="3.9"/><circle cx="285.8" cy="404.5" r="3.9"/><circle cx="287.7" cy="463.9" r="3.9"/><circle cx="287.1" cy="529.9" r="3.9"/><circle cx="311.1" cy="681.6" r="3.9"/><circle cx="299.7" cy="628.8" r="3.9"/><circle cx="315.0" cy="576.0" r="3.9"/><circle cx="291.8" cy="787.2" r="3.9"/><circle cx="302.9" cy="806.9" r="3.9"/><circle cx="303.6" cy="648.6" r="3.9"/><circle cx="313.8" cy="721.2" r="3.9"/><circle cx="287.6" cy="681.6" r="3.9"/><circle cx="292.5" cy="714.6" r="3.9"/><circle cx="308.4" cy="681.6" r="3.9"/><circle cx="312.6" cy="655.2" r="3.9"/><circle cx="301.1" cy="701.4" r="3.9"/><circle cx="306.8" cy="411.1" r="3.9"/><circle cx="286.9" cy="496.9" r="3.9"/><circle cx="313.4" cy="622.2" r="3.9"/><circle cx="297.5" cy="688.2" r="3.9"/><circle cx="313.4" cy="747.6" r="3.9"/><circle cx="299.0" cy="523.3" r="3.9"/><circle cx="306.1" cy="675.0" r="3.9"/><circle cx="313.8" cy="358.3" r="3.9"/><circle cx="312.5" cy="628.8" r="3.9"/><circle cx="301.1" cy="622.2" r="3.9"/><circle cx="298.4" cy="741.0" r="3.9"/><circle cx="311.7" cy="602.4" r="3.9"/><circle cx="304.6" cy="556.3" r="3.9"/><circle cx="289.6" cy="622.2" r="3.9"/><circle cx="297.9" cy="668.4" r="3.9"/><circle cx="312.0" cy="576.0" r="3.9"/><circle cx="292.3" cy="635.4" r="3.9"/><circle cx="303.8" cy="787.2" r="3.9"/><circle cx="314.5" cy="688.2" r="3.9"/><circle cx="299.6" cy="754.2" r="3.9"/><circle cx="293.2" cy="866.3" r="3.9"/><circle cx="289.5" cy="688.2" r="3.9"/><circle cx="307.0" cy="622.2" r="3.9"/><circle cx="289.6" cy="642.0" r="3.9"/><circle cx="304.0" cy="450.7" r="3.9"/><circle cx="293.6" cy="780.6" r="3.9"/><circle cx="309.6" cy="576.0" r="3.9"/><circle cx="305.5" cy="721.2" r="3.9"/><circle cx="309.8" cy="543.1" r="3.9"/><circle cx="290.2" cy="675.0" r="3.9"/><circle cx="312.2" cy="648.6" r="3.9"/><circle cx="312.5" cy="556.3" r="3.9"/><circle cx="309.7" cy="741.0" r="3.9"/><circle cx="305.8" cy="675.0" r="3.9"/><circle cx="307.8" cy="780.6" r="3.9"/><circle cx="309.3" cy="628.8" r="3.9"/><circle cx="287.6" cy="635.4" r="3.9"/><circle cx="286.9" cy="450.7" r="3.9"/><circle cx="306.2" cy="648.6" r="3.9"/><circle cx="295.1" cy="661.8" r="3.9"/><circle cx="303.6" cy="556.3" r="3.9"/><circle cx="307.2" cy="536.5" r="3.9"/><circle cx="304.1" cy="734.4" r="3.9"/><circle cx="308.9" cy="556.3" r="3.9"/><circle cx="299.4" cy="635.4" r="3.9"/><circle cx="292.6" cy="846.5" r="3.9"/><circle cx="308.2" cy="714.6" r="3.9"/><circle cx="304.5" cy="820.1" r="3.9"/><circle cx="300.7" cy="760.8" r="3.9"/><circle cx="290.9" cy="589.2" r="3.9"/><circle cx="294.8" cy="767.4" r="3.9"/><circle cx="289.3" cy="648.6" r="3.9"/><circle cx="287.0" cy="727.8" r="3.9"/><circle cx="290.4" cy="417.7" r="3.9"/><circle cx="313.6" cy="589.2" r="3.9"/><circle cx="294.5" cy="655.2" r="3.9"/><circle cx="298.9" cy="622.2" r="3.9"/><circle cx="311.6" cy="701.4" r="3.9"/><circle cx="287.5" cy="688.2" r="3.9"/><circle cx="304.7" cy="569.5" r="3.9"/><circle cx="304.2" cy="668.4" r="3.9"/><circle cx="299.6" cy="642.0" r="3.9"/><circle cx="286.5" cy="556.3" r="3.9"/><circle cx="293.6" cy="747.6" r="3.9"/><circle cx="289.8" cy="602.4" r="3.9"/><circle cx="299.3" cy="774.0" r="3.9"/><circle cx="310.9" cy="582.6" r="3.9"/><circle cx="297.2" cy="404.5" r="3.9"/><circle cx="286.5" cy="648.6" r="3.9"/><circle cx="289.9" cy="569.5" r="3.9"/><circle cx="289.1" cy="721.2" r="3.9"/><circle cx="300.2" cy="562.9" r="3.9"/><circle cx="307.8" cy="648.6" r="3.9"/><circle cx="293.3" cy="516.7" r="3.9"/><circle cx="295.7" cy="510.1" r="3.9"/><circle cx="290.9" cy="595.8" r="3.9"/><circle cx="309.9" cy="642.0" r="3.9"/><circle cx="286.9" cy="615.6" r="3.9"/><circle cx="304.0" cy="655.2" r="3.9"/><circle cx="314.1" cy="417.7" r="3.9"/><circle cx="308.2" cy="754.2" r="3.9"/><circle cx="302.8" cy="774.0" r="3.9"/><circle cx="290.7" cy="582.6" r="3.9"/><circle cx="302.8" cy="754.2" r="3.9"/><circle cx="297.2" cy="675.0" r="3.9"/><circle cx="295.1" cy="595.8" r="3.9"/><circle cx="313.7" cy="793.8" r="3.9"/><circle cx="295.5" cy="569.5" r="3.9"/><circle cx="303.6" cy="760.8" r="3.9"/><circle cx="303.3" cy="734.4" r="3.9"/><circle cx="314.7" cy="714.6" r="3.9"/><circle cx="311.7" cy="701.4" r="3.9"/><circle cx="311.2" cy="708.0" r="3.9"/><circle cx="304.1" cy="628.8" r="3.9"/><circle cx="288.4" cy="582.6" r="3.9"/><circle cx="305.9" cy="615.6" r="3.9"/><circle cx="294.1" cy="714.6" r="3.9"/><circle cx="314.5" cy="595.8" r="3.9"/><circle cx="292.1" cy="681.6" r="3.9"/><circle cx="298.3" cy="681.6" r="3.9"/><circle cx="308.9" cy="622.2" r="3.9"/><circle cx="292.3" cy="793.8" r="3.9"/><circle cx="303.3" cy="767.4" r="3.9"/><circle cx="299.7" cy="721.2" r="3.9"/><circle cx="304.1" cy="747.6" r="3.9"/><circle cx="298.3" cy="602.4" r="3.9"/><circle cx="287.8" cy="694.8" r="3.9"/><circle cx="315.0" cy="543.1" r="3.9"/><circle cx="304.2" cy="747.6" r="3.9"/><circle cx="287.7" cy="397.9" r="3.9"/><circle cx="314.4" cy="562.9" r="3.9"/><circle cx="310.9" cy="595.8" r="3.9"/><circle cx="290.9" cy="576.0" r="3.9"/><circle cx="290.4" cy="668.4" r="3.9"/><circle cx="289.0" cy="384.7" r="3.9"/><circle cx="291.4" cy="727.8" r="3.9"/><circle cx="302.0" cy="595.8" r="3.9"/><circle cx="291.8" cy="477.1" r="3.9"/><circle cx="314.2" cy="668.4" r="3.9"/><circle cx="298.3" cy="774.0" r="3.9"/><circle cx="303.2" cy="694.8" r="3.9"/><circle cx="293.2" cy="826.7" r="3.9"/><circle cx="298.0" cy="793.8" r="3.9"/><circle cx="290.2" cy="668.4" r="3.9"/><circle cx="292.2" cy="668.4" r="3.9"/><circle cx="300.0" cy="648.6" r="3.9"/><circle cx="303.2" cy="602.4" r="3.9"/><circle cx="302.7" cy="503.5" r="3.9"/><circle cx="296.9" cy="655.2" r="3.9"/><circle cx="307.4" cy="615.6" r="3.9"/><circle cx="300.2" cy="635.4" r="3.9"/><circle cx="296.2" cy="622.2" r="3.9"/><circle cx="294.0" cy="622.2" r="3.9"/><circle cx="309.0" cy="747.6" r="3.9"/><circle cx="305.1" cy="615.6" r="3.9"/><circle cx="306.1" cy="701.4" r="3.9"/><circle cx="306.3" cy="701.4" r="3.9"/><circle cx="301.0" cy="523.3" r="3.9"/><circle cx="307.3" cy="655.2" r="3.9"/><circle cx="304.5" cy="648.6" r="3.9"/><circle cx="298.6" cy="490.3" r="3.9"/><circle cx="314.8" cy="609.0" r="3.9"/><circle cx="295.5" cy="595.8" r="3.9"/><circle cx="313.7" cy="721.2" r="3.9"/><circle cx="312.2" cy="430.9" r="3.9"/><circle cx="303.5" cy="787.2" r="3.9"/><circle cx="288.0" cy="661.8" r="3.9"/><circle cx="311.7" cy="582.6" r="3.9"/><circle cx="299.5" cy="747.6" r="3.9"/><circle cx="303.3" cy="595.8" r="3.9"/><circle cx="291.3" cy="556.3" r="3.9"/><circle cx="309.4" cy="655.2" r="3.9"/><circle cx="296.2" cy="635.4" r="3.9"/><circle cx="303.3" cy="708.0" r="3.9"/><circle cx="312.2" cy="681.6" r="3.9"/><circle cx="305.2" cy="708.0" r="3.9"/><circle cx="305.7" cy="668.4" r="3.9"/><circle cx="286.6" cy="589.2" r="3.9"/><circle cx="292.8" cy="721.2" r="3.9"/><circle cx="306.1" cy="787.2" r="3.9"/><circle cx="298.6" cy="272.6" r="3.9"/><circle cx="309.5" cy="582.6" r="3.9"/><circle cx="287.4" cy="701.4" r="3.9"/><circle cx="286.6" cy="661.8" r="3.9"/><circle cx="290.6" cy="642.0" r="3.9"/><circle cx="299.0" cy="866.3" r="3.9"/><circle cx="312.4" cy="516.7" r="3.9"/><circle cx="295.8" cy="648.6" r="3.9"/><circle cx="293.6" cy="529.9" r="3.9"/><circle cx="314.5" cy="839.9" r="3.9"/><circle cx="303.7" cy="681.6" r="3.9"/><circle cx="305.5" cy="622.2" r="3.9"/><circle cx="304.3" cy="569.5" r="3.9"/><circle cx="287.8" cy="510.1" r="3.9"/><circle cx="289.9" cy="371.5" r="3.9"/><circle cx="292.5" cy="688.2" r="3.9"/><circle cx="307.2" cy="628.8" r="3.9"/><circle cx="304.3" cy="562.9" r="3.9"/><circle cx="290.8" cy="714.6" r="3.9"/><circle cx="297.0" cy="609.0" r="3.9"/><circle cx="306.1" cy="642.0" r="3.9"/><circle cx="301.3" cy="107.7" r="3.9"/><circle cx="314.8" cy="701.4" r="3.9"/><circle cx="292.6" cy="661.8" r="3.9"/><circle cx="306.5" cy="609.0" r="3.9"/><circle cx="298.3" cy="345.2" r="3.9"/><circle cx="311.5" cy="595.8" r="3.9"/><circle cx="310.8" cy="734.4" r="3.9"/><circle cx="305.6" cy="648.6" r="3.9"/><circle cx="313.0" cy="622.2" r="3.9"/><circle cx="305.7" cy="655.2" r="3.9"/><circle cx="309.4" cy="826.7" r="3.9"/><circle cx="288.0" cy="536.5" r="3.9"/><circle cx="298.6" cy="589.2" r="3.9"/><circle cx="288.2" cy="628.8" r="3.9"/><circle cx="299.3" cy="734.4" r="3.9"/><circle cx="294.3" cy="569.5" r="3.9"/><circle cx="314.1" cy="397.9" r="3.9"/><circle cx="300.7" cy="562.9" r="3.9"/><circle cx="296.1" cy="675.0" r="3.9"/><circle cx="294.9" cy="681.6" r="3.9"/><circle cx="306.4" cy="708.0" r="3.9"/><circle cx="293.8" cy="721.2" r="3.9"/><circle cx="293.2" cy="714.6" r="3.9"/><circle cx="300.6" cy="675.0" r="3.9"/><circle cx="295.8" cy="516.7" r="3.9"/><circle cx="305.9" cy="708.0" r="3.9"/><circle cx="289.7" cy="589.2" r="3.9"/><circle cx="295.9" cy="364.9" r="3.9"/><circle cx="302.7" cy="688.2" r="3.9"/><circle cx="294.3" cy="741.0" r="3.9"/><circle cx="314.9" cy="661.8" r="3.9"/><circle cx="310.2" cy="787.2" r="3.9"/><circle cx="295.2" cy="655.2" r="3.9"/><circle cx="304.1" cy="628.8" r="3.9"/><circle cx="309.0" cy="754.2" r="3.9"/><circle cx="292.3" cy="345.2" r="3.9"/><circle cx="293.7" cy="800.3" r="3.9"/><circle cx="313.7" cy="661.8" r="3.9"/><circle cx="294.2" cy="602.4" r="3.9"/><circle cx="290.3" cy="721.2" r="3.9"/><circle cx="301.7" cy="529.9" r="3.9"/><circle cx="309.0" cy="549.7" r="3.9"/><circle cx="310.8" cy="622.2" r="3.9"/><circle cx="293.2" cy="813.5" r="3.9"/><circle cx="303.8" cy="655.2" r="3.9"/><circle cx="311.2" cy="780.6" r="3.9"/><circle cx="300.0" cy="622.2" r="3.9"/><circle cx="306.8" cy="391.3" r="3.9"/><circle cx="306.0" cy="582.6" r="3.9"/><circle cx="307.8" cy="734.4" r="3.9"/><circle cx="303.8" cy="602.4" r="3.9"/><circle cx="311.3" cy="609.0" r="3.9"/><circle cx="301.9" cy="727.8" r="3.9"/><circle cx="313.5" cy="549.7" r="3.9"/><circle cx="295.5" cy="899.3" r="3.9"/><circle cx="307.5" cy="754.2" r="3.9"/><circle cx="314.1" cy="793.8" r="3.9"/><circle cx="298.0" cy="529.9" r="3.9"/><circle cx="294.8" cy="747.6" r="3.9"/><circle cx="306.5" cy="714.6" r="3.9"/><circle cx="289.0" cy="457.3" r="3.9"/><circle cx="313.1" cy="688.2" r="3.9"/><circle cx="314.3" cy="747.6" r="3.9"/><circle cx="312.5" cy="529.9" r="3.9"/><circle cx="304.3" cy="754.2" r="3.9"/><circle cx="294.8" cy="642.0" r="3.9"/><circle cx="303.7" cy="642.0" r="3.9"/><circle cx="295.6" cy="661.8" r="3.9"/><circle cx="291.8" cy="332.0" r="3.9"/><circle cx="287.3" cy="562.9" r="3.9"/><circle cx="303.0" cy="734.4" r="3.9"/><circle cx="292.1" cy="661.8" r="3.9"/><circle cx="307.9" cy="622.2" r="3.9"/><circle cx="296.1" cy="668.4" r="3.9"/><circle cx="307.2" cy="694.8" r="3.9"/><circle cx="288.4" cy="839.9" r="3.9"/><circle cx="303.7" cy="675.0" r="3.9"/><circle cx="288.4" cy="628.8" r="3.9"/><circle cx="300.5" cy="450.7" r="3.9"/><circle cx="302.2" cy="523.3" r="3.9"/><circle cx="291.9" cy="556.3" r="3.9"/><circle cx="306.5" cy="609.0" r="3.9"/><circle cx="314.5" cy="642.0" r="3.9"/><circle cx="290.7" cy="754.2" r="3.9"/><circle cx="289.9" cy="378.1" r="3.9"/><circle cx="307.6" cy="450.7" r="3.9"/><circle cx="291.1" cy="675.0" r="3.9"/><circle cx="294.8" cy="609.0" r="3.9"/><circle cx="288.6" cy="615.6" r="3.9"/><circle cx="307.9" cy="675.0" r="3.9"/><circle cx="286.9" cy="655.2" r="3.9"/><circle cx="294.0" cy="675.0" r="3.9"/><circle cx="297.4" cy="694.8" r="3.9"/><circle cx="314.4" cy="668.4" r="3.9"/><circle cx="307.7" cy="813.5" r="3.9"/><circle cx="290.7" cy="688.2" r="3.9"/><circle cx="298.6" cy="609.0" r="3.9"/><circle cx="287.7" cy="813.5" r="3.9"/><circle cx="305.5" cy="793.8" r="3.9"/><circle cx="303.1" cy="721.2" r="3.9"/><circle cx="314.1" cy="450.7" r="3.9"/><circle cx="288.9" cy="655.2" r="3.9"/><circle cx="290.0" cy="622.2" r="3.9"/><circle cx="297.5" cy="602.4" r="3.9"/><circle cx="311.3" cy="589.2" r="3.9"/><circle cx="286.9" cy="523.3" r="3.9"/><circle cx="306.6" cy="556.3" r="3.9"/><circle cx="313.6" cy="661.8" r="3.9"/><circle cx="295.5" cy="734.4" r="3.9"/><circle cx="307.2" cy="793.8" r="3.9"/><circle cx="312.5" cy="675.0" r="3.9"/><circle cx="314.3" cy="556.3" r="3.9"/><circle cx="309.5" cy="536.5" r="3.9"/><circle cx="305.8" cy="694.8" r="3.9"/><circle cx="295.9" cy="503.5" r="3.9"/><circle cx="301.3" cy="477.1" r="3.9"/><circle cx="301.5" cy="609.0" r="3.9"/><circle cx="291.0" cy="609.0" r="3.9"/><circle cx="313.9" cy="741.0" r="3.9"/><circle cx="298.6" cy="483.7" r="3.9"/><circle cx="298.0" cy="727.8" r="3.9"/><circle cx="306.2" cy="787.2" r="3.9"/><circle cx="292.4" cy="648.6" r="3.9"/><circle cx="298.6" cy="496.9" r="3.9"/><circle cx="308.4" cy="688.2" r="3.9"/><circle cx="309.5" cy="668.4" r="3.9"/><circle cx="307.1" cy="562.9" r="3.9"/></g>
<g fill="#1FB2B5" fill-opacity=".3" stroke="#1FB2B5" stroke-opacity=".3" stroke-width="1.6"><circle cx="436.3" cy="866.3" r="3.9"/><circle cx="444.2" cy="872.9" r="3.9"/><circle cx="446.2" cy="859.7" r="3.9"/><circle cx="451.3" cy="846.5" r="3.9"/><circle cx="451.8" cy="866.3" r="3.9"/><circle cx="451.5" cy="866.3" r="3.9"/><circle cx="456.8" cy="866.3" r="3.9"/><circle cx="436.7" cy="866.3" r="3.9"/><circle cx="462.2" cy="879.5" r="3.9"/><circle cx="437.3" cy="833.3" r="3.9"/><circle cx="459.8" cy="846.5" r="3.9"/><circle cx="456.1" cy="866.3" r="3.9"/><circle cx="461.4" cy="866.3" r="3.9"/><circle cx="450.4" cy="859.7" r="3.9"/><circle cx="437.0" cy="886.1" r="3.9"/><circle cx="442.7" cy="872.9" r="3.9"/><circle cx="461.8" cy="859.7" r="3.9"/><circle cx="440.1" cy="813.5" r="3.9"/><circle cx="435.3" cy="820.1" r="3.9"/><circle cx="437.0" cy="833.3" r="3.9"/><circle cx="442.8" cy="853.1" r="3.9"/><circle cx="436.7" cy="853.1" r="3.9"/><circle cx="444.0" cy="892.7" r="3.9"/><circle cx="438.2" cy="872.9" r="3.9"/><circle cx="458.1" cy="806.9" r="3.9"/><circle cx="448.5" cy="793.8" r="3.9"/><circle cx="449.2" cy="879.5" r="3.9"/><circle cx="454.2" cy="866.3" r="3.9"/><circle cx="440.6" cy="853.1" r="3.9"/><circle cx="462.5" cy="872.9" r="3.9"/><circle cx="453.4" cy="859.7" r="3.9"/><circle cx="453.0" cy="859.7" r="3.9"/><circle cx="452.2" cy="872.9" r="3.9"/><circle cx="446.4" cy="872.9" r="3.9"/><circle cx="459.4" cy="866.3" r="3.9"/><circle cx="457.0" cy="774.0" r="3.9"/><circle cx="462.5" cy="806.9" r="3.9"/><circle cx="460.9" cy="826.7" r="3.9"/><circle cx="461.6" cy="859.7" r="3.9"/><circle cx="440.0" cy="866.3" r="3.9"/><circle cx="456.2" cy="826.7" r="3.9"/><circle cx="451.4" cy="899.3" r="3.9"/><circle cx="435.9" cy="853.1" r="3.9"/><circle cx="445.9" cy="839.9" r="3.9"/><circle cx="441.0" cy="899.3" r="3.9"/><circle cx="447.3" cy="787.2" r="3.9"/><circle cx="460.9" cy="833.3" r="3.9"/><circle cx="450.4" cy="774.0" r="3.9"/><circle cx="452.2" cy="820.1" r="3.9"/><circle cx="450.9" cy="859.7" r="3.9"/><circle cx="461.2" cy="820.1" r="3.9"/><circle cx="439.2" cy="872.9" r="3.9"/><circle cx="452.0" cy="800.3" r="3.9"/><circle cx="436.3" cy="839.9" r="3.9"/><circle cx="459.2" cy="859.7" r="3.9"/><circle cx="436.0" cy="820.1" r="3.9"/><circle cx="452.6" cy="866.3" r="3.9"/><circle cx="459.7" cy="859.7" r="3.9"/><circle cx="460.9" cy="872.9" r="3.9"/><circle cx="462.0" cy="872.9" r="3.9"/><circle cx="457.0" cy="793.8" r="3.9"/><circle cx="448.5" cy="839.9" r="3.9"/><circle cx="451.6" cy="872.9" r="3.9"/><circle cx="449.4" cy="826.7" r="3.9"/><circle cx="440.1" cy="833.3" r="3.9"/><circle cx="460.4" cy="872.9" r="3.9"/><circle cx="460.6" cy="866.3" r="3.9"/><circle cx="440.8" cy="813.5" r="3.9"/><circle cx="460.6" cy="846.5" r="3.9"/><circle cx="460.8" cy="826.7" r="3.9"/><circle cx="442.4" cy="872.9" r="3.9"/><circle cx="450.2" cy="866.3" r="3.9"/><circle cx="460.9" cy="872.9" r="3.9"/><circle cx="450.1" cy="826.7" r="3.9"/><circle cx="450.8" cy="879.5" r="3.9"/><circle cx="458.0" cy="668.4" r="3.9"/><circle cx="448.7" cy="892.7" r="3.9"/><circle cx="445.2" cy="846.5" r="3.9"/><circle cx="434.2" cy="872.9" r="3.9"/><circle cx="453.3" cy="833.3" r="3.9"/><circle cx="437.2" cy="859.7" r="3.9"/><circle cx="435.7" cy="879.5" r="3.9"/><circle cx="435.3" cy="839.9" r="3.9"/><circle cx="437.0" cy="886.1" r="3.9"/><circle cx="434.6" cy="833.3" r="3.9"/><circle cx="454.4" cy="853.1" r="3.9"/><circle cx="441.8" cy="859.7" r="3.9"/><circle cx="434.4" cy="846.5" r="3.9"/><circle cx="445.5" cy="899.3" r="3.9"/><circle cx="437.5" cy="872.9" r="3.9"/><circle cx="437.1" cy="859.7" r="3.9"/><circle cx="455.6" cy="787.2" r="3.9"/><circle cx="447.8" cy="892.7" r="3.9"/><circle cx="447.5" cy="853.1" r="3.9"/><circle cx="452.5" cy="853.1" r="3.9"/><circle cx="436.0" cy="839.9" r="3.9"/><circle cx="443.7" cy="866.3" r="3.9"/><circle cx="452.4" cy="846.5" r="3.9"/><circle cx="456.1" cy="846.5" r="3.9"/><circle cx="441.7" cy="813.5" r="3.9"/><circle cx="456.8" cy="741.0" r="3.9"/><circle cx="437.9" cy="833.3" r="3.9"/><circle cx="442.9" cy="853.1" r="3.9"/><circle cx="462.1" cy="806.9" r="3.9"/><circle cx="459.3" cy="853.1" r="3.9"/><circle cx="451.5" cy="859.7" r="3.9"/><circle cx="447.8" cy="879.5" r="3.9"/><circle cx="442.4" cy="780.6" r="3.9"/><circle cx="443.5" cy="806.9" r="3.9"/><circle cx="449.2" cy="879.5" r="3.9"/><circle cx="458.9" cy="866.3" r="3.9"/><circle cx="434.7" cy="866.3" r="3.9"/><circle cx="437.4" cy="866.3" r="3.9"/><circle cx="444.1" cy="892.7" r="3.9"/><circle cx="441.5" cy="853.1" r="3.9"/><circle cx="440.2" cy="813.5" r="3.9"/><circle cx="444.3" cy="820.1" r="3.9"/><circle cx="443.2" cy="859.7" r="3.9"/><circle cx="443.7" cy="872.9" r="3.9"/><circle cx="449.7" cy="833.3" r="3.9"/><circle cx="452.1" cy="879.5" r="3.9"/><circle cx="435.2" cy="846.5" r="3.9"/><circle cx="460.2" cy="866.3" r="3.9"/><circle cx="463.3" cy="760.8" r="3.9"/><circle cx="459.6" cy="846.5" r="3.9"/><circle cx="452.1" cy="866.3" r="3.9"/><circle cx="434.7" cy="839.9" r="3.9"/><circle cx="445.3" cy="826.7" r="3.9"/><circle cx="459.5" cy="866.3" r="3.9"/><circle cx="436.7" cy="806.9" r="3.9"/><circle cx="460.1" cy="859.7" r="3.9"/><circle cx="456.0" cy="846.5" r="3.9"/><circle cx="446.0" cy="793.8" r="3.9"/><circle cx="458.6" cy="839.9" r="3.9"/><circle cx="454.3" cy="714.6" r="3.9"/><circle cx="435.7" cy="800.3" r="3.9"/><circle cx="445.4" cy="853.1" r="3.9"/><circle cx="448.5" cy="872.9" r="3.9"/><circle cx="434.7" cy="813.5" r="3.9"/><circle cx="457.7" cy="806.9" r="3.9"/><circle cx="461.0" cy="853.1" r="3.9"/><circle cx="434.2" cy="879.5" r="3.9"/><circle cx="442.9" cy="853.1" r="3.9"/><circle cx="442.6" cy="839.9" r="3.9"/><circle cx="455.6" cy="846.5" r="3.9"/><circle cx="451.5" cy="859.7" r="3.9"/><circle cx="436.4" cy="833.3" r="3.9"/><circle cx="453.7" cy="853.1" r="3.9"/><circle cx="439.1" cy="846.5" r="3.9"/><circle cx="447.0" cy="806.9" r="3.9"/><circle cx="454.3" cy="820.1" r="3.9"/><circle cx="443.5" cy="866.3" r="3.9"/><circle cx="447.2" cy="866.3" r="3.9"/><circle cx="455.7" cy="839.9" r="3.9"/><circle cx="454.2" cy="813.5" r="3.9"/><circle cx="448.5" cy="833.3" r="3.9"/><circle cx="451.8" cy="826.7" r="3.9"/><circle cx="440.5" cy="853.1" r="3.9"/><circle cx="437.2" cy="833.3" r="3.9"/><circle cx="450.0" cy="839.9" r="3.9"/><circle cx="442.3" cy="813.5" r="3.9"/><circle cx="453.9" cy="846.5" r="3.9"/><circle cx="445.7" cy="846.5" r="3.9"/><circle cx="451.4" cy="872.9" r="3.9"/><circle cx="455.2" cy="859.7" r="3.9"/><circle cx="462.3" cy="872.9" r="3.9"/><circle cx="449.6" cy="886.1" r="3.9"/><circle cx="453.1" cy="853.1" r="3.9"/><circle cx="440.6" cy="886.1" r="3.9"/><circle cx="452.8" cy="774.0" r="3.9"/><circle cx="434.3" cy="826.7" r="3.9"/><circle cx="452.4" cy="833.3" r="3.9"/><circle cx="434.5" cy="833.3" r="3.9"/><circle cx="435.1" cy="879.5" r="3.9"/><circle cx="451.1" cy="872.9" r="3.9"/><circle cx="445.7" cy="886.1" r="3.9"/><circle cx="441.9" cy="833.3" r="3.9"/><circle cx="451.2" cy="886.1" r="3.9"/><circle cx="443.1" cy="846.5" r="3.9"/><circle cx="438.6" cy="833.3" r="3.9"/><circle cx="460.2" cy="820.1" r="3.9"/><circle cx="449.7" cy="872.9" r="3.9"/><circle cx="450.2" cy="833.3" r="3.9"/><circle cx="445.2" cy="833.3" r="3.9"/><circle cx="457.0" cy="826.7" r="3.9"/><circle cx="453.8" cy="826.7" r="3.9"/><circle cx="437.4" cy="853.1" r="3.9"/><circle cx="434.6" cy="846.5" r="3.9"/><circle cx="440.5" cy="866.3" r="3.9"/><circle cx="452.3" cy="879.5" r="3.9"/><circle cx="443.9" cy="846.5" r="3.9"/><circle cx="456.8" cy="846.5" r="3.9"/><circle cx="457.5" cy="806.9" r="3.9"/><circle cx="454.9" cy="820.1" r="3.9"/><circle cx="460.3" cy="734.4" r="3.9"/><circle cx="462.0" cy="681.6" r="3.9"/><circle cx="448.4" cy="859.7" r="3.9"/><circle cx="454.8" cy="833.3" r="3.9"/><circle cx="460.8" cy="767.4" r="3.9"/><circle cx="438.5" cy="879.5" r="3.9"/><circle cx="447.5" cy="833.3" r="3.9"/><circle cx="445.7" cy="866.3" r="3.9"/><circle cx="456.6" cy="866.3" r="3.9"/><circle cx="462.6" cy="866.3" r="3.9"/><circle cx="445.0" cy="800.3" r="3.9"/><circle cx="453.9" cy="833.3" r="3.9"/><circle cx="459.4" cy="872.9" r="3.9"/><circle cx="449.8" cy="853.1" r="3.9"/><circle cx="459.2" cy="833.3" r="3.9"/><circle cx="439.0" cy="833.3" r="3.9"/><circle cx="447.8" cy="780.6" r="3.9"/><circle cx="441.8" cy="833.3" r="3.9"/><circle cx="448.7" cy="754.2" r="3.9"/><circle cx="447.2" cy="879.5" r="3.9"/><circle cx="450.8" cy="806.9" r="3.9"/><circle cx="459.8" cy="800.3" r="3.9"/><circle cx="451.3" cy="846.5" r="3.9"/><circle cx="446.1" cy="839.9" r="3.9"/><circle cx="452.2" cy="800.3" r="3.9"/><circle cx="451.0" cy="872.9" r="3.9"/><circle cx="455.3" cy="833.3" r="3.9"/><circle cx="437.1" cy="846.5" r="3.9"/><circle cx="444.5" cy="872.9" r="3.9"/><circle cx="442.1" cy="872.9" r="3.9"/><circle cx="446.2" cy="892.7" r="3.9"/><circle cx="461.9" cy="800.3" r="3.9"/><circle cx="439.8" cy="879.5" r="3.9"/><circle cx="441.1" cy="839.9" r="3.9"/><circle cx="438.7" cy="839.9" r="3.9"/><circle cx="442.2" cy="826.7" r="3.9"/><circle cx="438.2" cy="892.7" r="3.9"/><circle cx="439.2" cy="879.5" r="3.9"/><circle cx="462.1" cy="859.7" r="3.9"/><circle cx="456.4" cy="866.3" r="3.9"/><circle cx="435.2" cy="886.1" r="3.9"/><circle cx="442.2" cy="899.3" r="3.9"/><circle cx="437.6" cy="886.1" r="3.9"/><circle cx="453.7" cy="886.1" r="3.9"/><circle cx="446.1" cy="879.5" r="3.9"/><circle cx="462.2" cy="859.7" r="3.9"/><circle cx="460.9" cy="866.3" r="3.9"/><circle cx="441.5" cy="859.7" r="3.9"/><circle cx="451.1" cy="774.0" r="3.9"/><circle cx="453.6" cy="839.9" r="3.9"/><circle cx="447.4" cy="846.5" r="3.9"/><circle cx="443.1" cy="774.0" r="3.9"/><circle cx="436.7" cy="806.9" r="3.9"/><circle cx="460.9" cy="886.1" r="3.9"/><circle cx="436.6" cy="872.9" r="3.9"/><circle cx="440.8" cy="859.7" r="3.9"/><circle cx="451.1" cy="806.9" r="3.9"/><circle cx="455.9" cy="820.1" r="3.9"/><circle cx="443.0" cy="813.5" r="3.9"/><circle cx="437.2" cy="800.3" r="3.9"/><circle cx="461.8" cy="879.5" r="3.9"/><circle cx="458.6" cy="853.1" r="3.9"/><circle cx="446.2" cy="886.1" r="3.9"/><circle cx="447.8" cy="826.7" r="3.9"/><circle cx="442.3" cy="833.3" r="3.9"/><circle cx="440.3" cy="833.3" r="3.9"/><circle cx="446.3" cy="833.3" r="3.9"/><circle cx="438.5" cy="806.9" r="3.9"/><circle cx="443.1" cy="853.1" r="3.9"/><circle cx="439.0" cy="853.1" r="3.9"/><circle cx="445.3" cy="866.3" r="3.9"/><circle cx="455.3" cy="826.7" r="3.9"/><circle cx="457.8" cy="820.1" r="3.9"/><circle cx="452.0" cy="859.7" r="3.9"/><circle cx="446.8" cy="892.7" r="3.9"/><circle cx="444.2" cy="813.5" r="3.9"/><circle cx="461.6" cy="806.9" r="3.9"/><circle cx="436.0" cy="780.6" r="3.9"/><circle cx="437.5" cy="780.6" r="3.9"/><circle cx="455.8" cy="846.5" r="3.9"/><circle cx="461.6" cy="859.7" r="3.9"/><circle cx="448.7" cy="833.3" r="3.9"/><circle cx="442.8" cy="833.3" r="3.9"/><circle cx="457.5" cy="872.9" r="3.9"/><circle cx="443.2" cy="866.3" r="3.9"/><circle cx="452.3" cy="806.9" r="3.9"/><circle cx="452.6" cy="800.3" r="3.9"/><circle cx="434.1" cy="734.4" r="3.9"/><circle cx="434.9" cy="853.1" r="3.9"/><circle cx="457.7" cy="859.7" r="3.9"/><circle cx="447.3" cy="872.9" r="3.9"/><circle cx="437.7" cy="859.7" r="3.9"/><circle cx="455.1" cy="866.3" r="3.9"/><circle cx="459.6" cy="793.8" r="3.9"/><circle cx="442.2" cy="853.1" r="3.9"/><circle cx="443.8" cy="833.3" r="3.9"/><circle cx="455.3" cy="853.1" r="3.9"/><circle cx="438.4" cy="853.1" r="3.9"/><circle cx="445.1" cy="859.7" r="3.9"/><circle cx="435.6" cy="866.3" r="3.9"/><circle cx="446.5" cy="859.7" r="3.9"/><circle cx="461.8" cy="734.4" r="3.9"/><circle cx="453.0" cy="820.1" r="3.9"/><circle cx="440.2" cy="859.7" r="3.9"/><circle cx="449.8" cy="846.5" r="3.9"/><circle cx="449.0" cy="886.1" r="3.9"/><circle cx="460.2" cy="886.1" r="3.9"/><circle cx="438.7" cy="833.3" r="3.9"/><circle cx="445.4" cy="839.9" r="3.9"/><circle cx="459.5" cy="846.5" r="3.9"/><circle cx="437.5" cy="833.3" r="3.9"/><circle cx="445.5" cy="826.7" r="3.9"/><circle cx="456.0" cy="813.5" r="3.9"/><circle cx="436.3" cy="793.8" r="3.9"/><circle cx="448.2" cy="839.9" r="3.9"/><circle cx="445.4" cy="853.1" r="3.9"/><circle cx="448.4" cy="859.7" r="3.9"/><circle cx="440.7" cy="767.4" r="3.9"/><circle cx="446.2" cy="859.7" r="3.9"/><circle cx="451.8" cy="872.9" r="3.9"/><circle cx="445.4" cy="833.3" r="3.9"/><circle cx="443.3" cy="853.1" r="3.9"/><circle cx="440.1" cy="853.1" r="3.9"/><circle cx="439.6" cy="800.3" r="3.9"/><circle cx="455.6" cy="879.5" r="3.9"/><circle cx="460.9" cy="886.1" r="3.9"/><circle cx="450.2" cy="747.6" r="3.9"/><circle cx="458.7" cy="853.1" r="3.9"/><circle cx="460.1" cy="853.1" r="3.9"/><circle cx="438.8" cy="859.7" r="3.9"/><circle cx="461.8" cy="859.7" r="3.9"/><circle cx="446.0" cy="846.5" r="3.9"/><circle cx="461.5" cy="833.3" r="3.9"/><circle cx="445.5" cy="859.7" r="3.9"/><circle cx="444.0" cy="820.1" r="3.9"/><circle cx="460.7" cy="839.9" r="3.9"/><circle cx="439.2" cy="853.1" r="3.9"/><circle cx="436.2" cy="826.7" r="3.9"/><circle cx="440.0" cy="839.9" r="3.9"/><circle cx="437.5" cy="813.5" r="3.9"/><circle cx="450.0" cy="694.8" r="3.9"/><circle cx="440.7" cy="872.9" r="3.9"/><circle cx="444.0" cy="793.8" r="3.9"/><circle cx="443.0" cy="872.9" r="3.9"/><circle cx="456.8" cy="866.3" r="3.9"/><circle cx="435.6" cy="886.1" r="3.9"/><circle cx="459.2" cy="853.1" r="3.9"/><circle cx="461.7" cy="793.8" r="3.9"/><circle cx="456.3" cy="866.3" r="3.9"/><circle cx="439.0" cy="839.9" r="3.9"/><circle cx="448.3" cy="826.7" r="3.9"/><circle cx="435.2" cy="872.9" r="3.9"/><circle cx="460.8" cy="754.2" r="3.9"/><circle cx="439.2" cy="839.9" r="3.9"/><circle cx="436.1" cy="879.5" r="3.9"/><circle cx="450.9" cy="853.1" r="3.9"/><circle cx="445.1" cy="859.7" r="3.9"/><circle cx="438.0" cy="859.7" r="3.9"/><circle cx="451.7" cy="859.7" r="3.9"/><circle cx="456.0" cy="820.1" r="3.9"/><circle cx="458.4" cy="859.7" r="3.9"/><circle cx="447.0" cy="866.3" r="3.9"/><circle cx="439.7" cy="866.3" r="3.9"/><circle cx="441.3" cy="780.6" r="3.9"/><circle cx="438.0" cy="833.3" r="3.9"/><circle cx="436.2" cy="833.3" r="3.9"/><circle cx="453.6" cy="859.7" r="3.9"/><circle cx="451.4" cy="780.6" r="3.9"/><circle cx="438.9" cy="866.3" r="3.9"/><circle cx="444.9" cy="820.1" r="3.9"/><circle cx="455.6" cy="793.8" r="3.9"/><circle cx="437.8" cy="774.0" r="3.9"/><circle cx="448.8" cy="859.7" r="3.9"/><circle cx="439.2" cy="833.3" r="3.9"/><circle cx="456.9" cy="800.3" r="3.9"/><circle cx="459.4" cy="872.9" r="3.9"/><circle cx="447.8" cy="846.5" r="3.9"/><circle cx="449.2" cy="872.9" r="3.9"/><circle cx="446.4" cy="859.7" r="3.9"/><circle cx="436.8" cy="892.7" r="3.9"/><circle cx="452.6" cy="820.1" r="3.9"/><circle cx="451.7" cy="859.7" r="3.9"/><circle cx="448.7" cy="859.7" r="3.9"/><circle cx="443.2" cy="806.9" r="3.9"/><circle cx="451.5" cy="866.3" r="3.9"/><circle cx="439.5" cy="859.7" r="3.9"/><circle cx="445.7" cy="866.3" r="3.9"/><circle cx="440.1" cy="853.1" r="3.9"/><circle cx="451.5" cy="853.1" r="3.9"/><circle cx="453.7" cy="846.5" r="3.9"/><circle cx="453.3" cy="859.7" r="3.9"/><circle cx="447.6" cy="813.5" r="3.9"/><circle cx="458.4" cy="806.9" r="3.9"/><circle cx="440.1" cy="872.9" r="3.9"/><circle cx="458.1" cy="839.9" r="3.9"/><circle cx="462.5" cy="846.5" r="3.9"/><circle cx="443.2" cy="859.7" r="3.9"/><circle cx="452.8" cy="826.7" r="3.9"/><circle cx="459.1" cy="886.1" r="3.9"/><circle cx="442.0" cy="839.9" r="3.9"/><circle cx="439.6" cy="866.3" r="3.9"/><circle cx="437.3" cy="833.3" r="3.9"/><circle cx="439.9" cy="879.5" r="3.9"/><circle cx="454.5" cy="866.3" r="3.9"/><circle cx="452.9" cy="866.3" r="3.9"/><circle cx="454.2" cy="866.3" r="3.9"/><circle cx="436.1" cy="813.5" r="3.9"/><circle cx="457.4" cy="859.7" r="3.9"/><circle cx="456.3" cy="859.7" r="3.9"/><circle cx="450.5" cy="879.5" r="3.9"/><circle cx="441.5" cy="826.7" r="3.9"/><circle cx="444.7" cy="846.5" r="3.9"/><circle cx="459.5" cy="853.1" r="3.9"/><circle cx="438.7" cy="820.1" r="3.9"/><circle cx="452.6" cy="833.3" r="3.9"/><circle cx="457.7" cy="859.7" r="3.9"/><circle cx="442.5" cy="879.5" r="3.9"/><circle cx="446.6" cy="839.9" r="3.9"/><circle cx="437.0" cy="839.9" r="3.9"/><circle cx="452.1" cy="866.3" r="3.9"/><circle cx="441.4" cy="879.5" r="3.9"/><circle cx="443.0" cy="833.3" r="3.9"/><circle cx="440.5" cy="833.3" r="3.9"/><circle cx="453.8" cy="859.7" r="3.9"/><circle cx="441.9" cy="872.9" r="3.9"/><circle cx="436.2" cy="846.5" r="3.9"/><circle cx="446.9" cy="839.9" r="3.9"/><circle cx="443.3" cy="866.3" r="3.9"/><circle cx="453.5" cy="853.1" r="3.9"/><circle cx="444.1" cy="872.9" r="3.9"/><circle cx="441.9" cy="866.3" r="3.9"/><circle cx="462.5" cy="780.6" r="3.9"/><circle cx="448.2" cy="866.3" r="3.9"/><circle cx="436.3" cy="813.5" r="3.9"/><circle cx="445.8" cy="892.7" r="3.9"/><circle cx="462.0" cy="833.3" r="3.9"/><circle cx="443.2" cy="846.5" r="3.9"/><circle cx="454.7" cy="839.9" r="3.9"/><circle cx="438.5" cy="872.9" r="3.9"/><circle cx="453.6" cy="846.5" r="3.9"/><circle cx="444.6" cy="859.7" r="3.9"/><circle cx="458.9" cy="846.5" r="3.9"/><circle cx="449.8" cy="846.5" r="3.9"/><circle cx="439.0" cy="820.1" r="3.9"/><circle cx="456.4" cy="859.7" r="3.9"/><circle cx="441.7" cy="839.9" r="3.9"/><circle cx="452.8" cy="833.3" r="3.9"/><circle cx="452.5" cy="839.9" r="3.9"/><circle cx="456.8" cy="859.7" r="3.9"/><circle cx="452.2" cy="853.1" r="3.9"/><circle cx="458.9" cy="853.1" r="3.9"/><circle cx="437.7" cy="813.5" r="3.9"/><circle cx="443.7" cy="767.4" r="3.9"/><circle cx="439.1" cy="853.1" r="3.9"/><circle cx="455.4" cy="853.1" r="3.9"/><circle cx="440.0" cy="833.3" r="3.9"/><circle cx="438.0" cy="879.5" r="3.9"/><circle cx="448.4" cy="839.9" r="3.9"/><circle cx="460.3" cy="853.1" r="3.9"/><circle cx="454.5" cy="879.5" r="3.9"/><circle cx="440.3" cy="872.9" r="3.9"/><circle cx="442.1" cy="826.7" r="3.9"/><circle cx="441.2" cy="846.5" r="3.9"/><circle cx="435.7" cy="853.1" r="3.9"/><circle cx="461.9" cy="872.9" r="3.9"/><circle cx="440.7" cy="892.7" r="3.9"/><circle cx="461.5" cy="859.7" r="3.9"/><circle cx="439.3" cy="872.9" r="3.9"/><circle cx="438.3" cy="833.3" r="3.9"/><circle cx="452.7" cy="846.5" r="3.9"/><circle cx="462.3" cy="767.4" r="3.9"/><circle cx="444.0" cy="886.1" r="3.9"/><circle cx="443.7" cy="800.3" r="3.9"/><circle cx="453.8" cy="872.9" r="3.9"/><circle cx="457.2" cy="853.1" r="3.9"/><circle cx="461.0" cy="853.1" r="3.9"/><circle cx="455.4" cy="879.5" r="3.9"/><circle cx="438.8" cy="853.1" r="3.9"/><circle cx="436.6" cy="853.1" r="3.9"/><circle cx="438.9" cy="813.5" r="3.9"/><circle cx="450.9" cy="859.7" r="3.9"/><circle cx="442.4" cy="787.2" r="3.9"/><circle cx="438.1" cy="872.9" r="3.9"/><circle cx="447.3" cy="859.7" r="3.9"/><circle cx="461.4" cy="872.9" r="3.9"/><circle cx="448.7" cy="839.9" r="3.9"/><circle cx="448.8" cy="853.1" r="3.9"/><circle cx="448.3" cy="859.7" r="3.9"/><circle cx="454.2" cy="826.7" r="3.9"/><circle cx="450.7" cy="839.9" r="3.9"/><circle cx="451.2" cy="886.1" r="3.9"/><circle cx="461.1" cy="820.1" r="3.9"/><circle cx="455.4" cy="846.5" r="3.9"/><circle cx="453.2" cy="806.9" r="3.9"/><circle cx="443.8" cy="866.3" r="3.9"/><circle cx="444.2" cy="833.3" r="3.9"/><circle cx="449.9" cy="813.5" r="3.9"/><circle cx="460.6" cy="886.1" r="3.9"/><circle cx="461.2" cy="846.5" r="3.9"/><circle cx="460.1" cy="846.5" r="3.9"/><circle cx="436.4" cy="800.3" r="3.9"/><circle cx="439.9" cy="787.2" r="3.9"/><circle cx="436.1" cy="787.2" r="3.9"/><circle cx="435.2" cy="846.5" r="3.9"/><circle cx="458.7" cy="826.7" r="3.9"/><circle cx="435.8" cy="839.9" r="3.9"/><circle cx="458.5" cy="872.9" r="3.9"/><circle cx="440.0" cy="886.1" r="3.9"/><circle cx="456.2" cy="872.9" r="3.9"/><circle cx="436.2" cy="872.9" r="3.9"/><circle cx="447.5" cy="846.5" r="3.9"/><circle cx="440.1" cy="780.6" r="3.9"/><circle cx="437.1" cy="754.2" r="3.9"/><circle cx="453.3" cy="853.1" r="3.9"/><circle cx="438.4" cy="846.5" r="3.9"/><circle cx="451.7" cy="853.1" r="3.9"/><circle cx="449.7" cy="872.9" r="3.9"/><circle cx="460.9" cy="793.8" r="3.9"/><circle cx="453.4" cy="846.5" r="3.9"/><circle cx="448.4" cy="886.1" r="3.9"/><circle cx="454.9" cy="780.6" r="3.9"/><circle cx="444.0" cy="899.3" r="3.9"/><circle cx="441.7" cy="859.7" r="3.9"/><circle cx="450.8" cy="800.3" r="3.9"/><circle cx="447.5" cy="872.9" r="3.9"/><circle cx="462.4" cy="833.3" r="3.9"/><circle cx="444.2" cy="866.3" r="3.9"/><circle cx="444.5" cy="866.3" r="3.9"/><circle cx="460.3" cy="800.3" r="3.9"/><circle cx="436.7" cy="826.7" r="3.9"/><circle cx="454.9" cy="866.3" r="3.9"/><circle cx="449.5" cy="833.3" r="3.9"/><circle cx="441.1" cy="833.3" r="3.9"/><circle cx="456.6" cy="853.1" r="3.9"/><circle cx="440.4" cy="859.7" r="3.9"/><circle cx="436.3" cy="859.7" r="3.9"/><circle cx="441.3" cy="839.9" r="3.9"/><circle cx="451.5" cy="853.1" r="3.9"/><circle cx="448.0" cy="846.5" r="3.9"/><circle cx="443.4" cy="833.3" r="3.9"/><circle cx="447.2" cy="833.3" r="3.9"/><circle cx="447.2" cy="839.9" r="3.9"/><circle cx="439.2" cy="793.8" r="3.9"/><circle cx="456.6" cy="800.3" r="3.9"/><circle cx="457.0" cy="866.3" r="3.9"/><circle cx="460.7" cy="839.9" r="3.9"/><circle cx="440.2" cy="859.7" r="3.9"/><circle cx="439.3" cy="826.7" r="3.9"/><circle cx="454.8" cy="747.6" r="3.9"/><circle cx="454.5" cy="839.9" r="3.9"/><circle cx="457.4" cy="859.7" r="3.9"/><circle cx="457.3" cy="760.8" r="3.9"/><circle cx="457.9" cy="839.9" r="3.9"/><circle cx="445.4" cy="846.5" r="3.9"/><circle cx="436.0" cy="859.7" r="3.9"/><circle cx="441.3" cy="866.3" r="3.9"/><circle cx="455.8" cy="879.5" r="3.9"/><circle cx="456.0" cy="826.7" r="3.9"/><circle cx="452.4" cy="859.7" r="3.9"/><circle cx="445.1" cy="886.1" r="3.9"/><circle cx="450.8" cy="826.7" r="3.9"/><circle cx="443.0" cy="879.5" r="3.9"/><circle cx="450.8" cy="859.7" r="3.9"/><circle cx="451.7" cy="826.7" r="3.9"/><circle cx="453.8" cy="820.1" r="3.9"/><circle cx="448.2" cy="833.3" r="3.9"/><circle cx="455.1" cy="846.5" r="3.9"/><circle cx="444.8" cy="866.3" r="3.9"/><circle cx="445.0" cy="806.9" r="3.9"/><circle cx="440.9" cy="826.7" r="3.9"/><circle cx="434.5" cy="866.3" r="3.9"/><circle cx="448.6" cy="879.5" r="3.9"/><circle cx="453.4" cy="853.1" r="3.9"/><circle cx="459.4" cy="892.7" r="3.9"/><circle cx="436.9" cy="846.5" r="3.9"/><circle cx="438.9" cy="886.1" r="3.9"/><circle cx="438.6" cy="859.7" r="3.9"/><circle cx="434.6" cy="846.5" r="3.9"/><circle cx="446.7" cy="886.1" r="3.9"/><circle cx="435.7" cy="833.3" r="3.9"/><circle cx="440.1" cy="892.7" r="3.9"/><circle cx="441.8" cy="879.5" r="3.9"/><circle cx="452.8" cy="747.6" r="3.9"/><circle cx="443.6" cy="866.3" r="3.9"/><circle cx="462.0" cy="872.9" r="3.9"/><circle cx="461.8" cy="866.3" r="3.9"/><circle cx="450.2" cy="839.9" r="3.9"/><circle cx="456.4" cy="872.9" r="3.9"/><circle cx="458.9" cy="859.7" r="3.9"/><circle cx="461.6" cy="859.7" r="3.9"/><circle cx="461.3" cy="754.2" r="3.9"/><circle cx="441.6" cy="826.7" r="3.9"/><circle cx="438.7" cy="826.7" r="3.9"/><circle cx="436.5" cy="872.9" r="3.9"/><circle cx="434.2" cy="806.9" r="3.9"/><circle cx="441.0" cy="853.1" r="3.9"/><circle cx="446.6" cy="872.9" r="3.9"/><circle cx="441.3" cy="886.1" r="3.9"/><circle cx="461.4" cy="839.9" r="3.9"/><circle cx="446.5" cy="866.3" r="3.9"/><circle cx="447.0" cy="833.3" r="3.9"/><circle cx="439.2" cy="846.5" r="3.9"/><circle cx="461.2" cy="886.1" r="3.9"/><circle cx="460.5" cy="839.9" r="3.9"/><circle cx="461.3" cy="833.3" r="3.9"/><circle cx="442.7" cy="826.7" r="3.9"/><circle cx="455.2" cy="866.3" r="3.9"/><circle cx="445.6" cy="866.3" r="3.9"/><circle cx="447.5" cy="826.7" r="3.9"/><circle cx="435.1" cy="879.5" r="3.9"/><circle cx="443.2" cy="853.1" r="3.9"/><circle cx="435.8" cy="826.7" r="3.9"/><circle cx="461.6" cy="872.9" r="3.9"/><circle cx="445.0" cy="800.3" r="3.9"/><circle cx="461.5" cy="839.9" r="3.9"/><circle cx="442.3" cy="846.5" r="3.9"/><circle cx="437.3" cy="839.9" r="3.9"/><circle cx="434.1" cy="872.9" r="3.9"/><circle cx="452.3" cy="741.0" r="3.9"/><circle cx="437.6" cy="866.3" r="3.9"/><circle cx="444.7" cy="866.3" r="3.9"/><circle cx="459.2" cy="853.1" r="3.9"/><circle cx="446.7" cy="800.3" r="3.9"/><circle cx="452.2" cy="839.9" r="3.9"/><circle cx="461.2" cy="866.3" r="3.9"/><circle cx="438.6" cy="734.4" r="3.9"/><circle cx="434.6" cy="741.0" r="3.9"/><circle cx="456.0" cy="866.3" r="3.9"/><circle cx="461.0" cy="879.5" r="3.9"/><circle cx="440.7" cy="839.9" r="3.9"/><circle cx="436.3" cy="872.9" r="3.9"/><circle cx="439.2" cy="886.1" r="3.9"/><circle cx="461.2" cy="853.1" r="3.9"/><circle cx="442.2" cy="866.3" r="3.9"/><circle cx="435.1" cy="859.7" r="3.9"/><circle cx="454.7" cy="866.3" r="3.9"/><circle cx="446.5" cy="833.3" r="3.9"/><circle cx="451.7" cy="846.5" r="3.9"/><circle cx="437.7" cy="839.9" r="3.9"/><circle cx="454.6" cy="853.1" r="3.9"/><circle cx="443.2" cy="859.7" r="3.9"/><circle cx="455.3" cy="734.4" r="3.9"/><circle cx="439.6" cy="826.7" r="3.9"/><circle cx="442.2" cy="767.4" r="3.9"/><circle cx="437.2" cy="846.5" r="3.9"/><circle cx="448.2" cy="886.1" r="3.9"/><circle cx="453.1" cy="872.9" r="3.9"/><circle cx="459.8" cy="813.5" r="3.9"/><circle cx="449.6" cy="853.1" r="3.9"/><circle cx="454.5" cy="846.5" r="3.9"/><circle cx="460.9" cy="853.1" r="3.9"/><circle cx="449.0" cy="879.5" r="3.9"/><circle cx="440.6" cy="826.7" r="3.9"/><circle cx="450.3" cy="839.9" r="3.9"/><circle cx="450.5" cy="859.7" r="3.9"/><circle cx="440.7" cy="866.3" r="3.9"/><circle cx="454.3" cy="859.7" r="3.9"/><circle cx="448.3" cy="813.5" r="3.9"/><circle cx="449.0" cy="839.9" r="3.9"/><circle cx="458.1" cy="892.7" r="3.9"/><circle cx="451.8" cy="859.7" r="3.9"/><circle cx="452.0" cy="787.2" r="3.9"/><circle cx="454.8" cy="806.9" r="3.9"/><circle cx="461.7" cy="826.7" r="3.9"/><circle cx="451.3" cy="879.5" r="3.9"/><circle cx="443.5" cy="820.1" r="3.9"/><circle cx="438.3" cy="793.8" r="3.9"/><circle cx="458.7" cy="859.7" r="3.9"/><circle cx="438.3" cy="806.9" r="3.9"/><circle cx="440.9" cy="866.3" r="3.9"/><circle cx="452.7" cy="846.5" r="3.9"/><circle cx="450.7" cy="872.9" r="3.9"/><circle cx="444.4" cy="866.3" r="3.9"/><circle cx="449.2" cy="774.0" r="3.9"/><circle cx="454.3" cy="839.9" r="3.9"/><circle cx="439.2" cy="846.5" r="3.9"/><circle cx="457.3" cy="826.7" r="3.9"/><circle cx="441.1" cy="853.1" r="3.9"/><circle cx="460.8" cy="886.1" r="3.9"/><circle cx="443.9" cy="853.1" r="3.9"/><circle cx="450.2" cy="879.5" r="3.9"/><circle cx="437.2" cy="866.3" r="3.9"/><circle cx="439.0" cy="839.9" r="3.9"/><circle cx="447.4" cy="872.9" r="3.9"/><circle cx="447.7" cy="866.3" r="3.9"/><circle cx="451.1" cy="813.5" r="3.9"/><circle cx="442.2" cy="846.5" r="3.9"/><circle cx="434.8" cy="800.3" r="3.9"/><circle cx="444.7" cy="859.7" r="3.9"/><circle cx="446.9" cy="833.3" r="3.9"/><circle cx="461.5" cy="774.0" r="3.9"/><circle cx="451.9" cy="853.1" r="3.9"/><circle cx="440.8" cy="787.2" r="3.9"/><circle cx="435.7" cy="872.9" r="3.9"/><circle cx="442.3" cy="886.1" r="3.9"/><circle cx="437.4" cy="826.7" r="3.9"/><circle cx="462.5" cy="839.9" r="3.9"/><circle cx="441.7" cy="853.1" r="3.9"/><circle cx="461.6" cy="866.3" r="3.9"/><circle cx="439.2" cy="839.9" r="3.9"/><circle cx="445.6" cy="793.8" r="3.9"/><circle cx="450.4" cy="839.9" r="3.9"/><circle cx="450.2" cy="741.0" r="3.9"/><circle cx="445.2" cy="853.1" r="3.9"/><circle cx="458.6" cy="886.1" r="3.9"/><circle cx="454.1" cy="826.7" r="3.9"/><circle cx="443.8" cy="813.5" r="3.9"/><circle cx="462.0" cy="892.7" r="3.9"/><circle cx="451.4" cy="853.1" r="3.9"/><circle cx="455.2" cy="853.1" r="3.9"/><circle cx="462.4" cy="826.7" r="3.9"/><circle cx="448.9" cy="839.9" r="3.9"/><circle cx="455.7" cy="833.3" r="3.9"/><circle cx="444.3" cy="879.5" r="3.9"/><circle cx="441.2" cy="754.2" r="3.9"/><circle cx="450.2" cy="872.9" r="3.9"/><circle cx="437.0" cy="853.1" r="3.9"/><circle cx="449.6" cy="853.1" r="3.9"/><circle cx="455.9" cy="853.1" r="3.9"/><circle cx="462.2" cy="800.3" r="3.9"/><circle cx="451.1" cy="853.1" r="3.9"/><circle cx="436.3" cy="886.1" r="3.9"/><circle cx="454.2" cy="833.3" r="3.9"/><circle cx="461.3" cy="839.9" r="3.9"/><circle cx="442.8" cy="813.5" r="3.9"/><circle cx="449.3" cy="859.7" r="3.9"/><circle cx="456.9" cy="820.1" r="3.9"/><circle cx="439.0" cy="846.5" r="3.9"/><circle cx="454.3" cy="813.5" r="3.9"/><circle cx="439.6" cy="859.7" r="3.9"/><circle cx="456.3" cy="787.2" r="3.9"/><circle cx="453.0" cy="859.7" r="3.9"/><circle cx="438.0" cy="892.7" r="3.9"/><circle cx="439.1" cy="859.7" r="3.9"/><circle cx="451.2" cy="839.9" r="3.9"/><circle cx="442.1" cy="846.5" r="3.9"/><circle cx="458.9" cy="846.5" r="3.9"/><circle cx="452.7" cy="879.5" r="3.9"/><circle cx="451.1" cy="859.7" r="3.9"/><circle cx="434.4" cy="826.7" r="3.9"/><circle cx="460.2" cy="866.3" r="3.9"/><circle cx="445.0" cy="787.2" r="3.9"/><circle cx="445.8" cy="806.9" r="3.9"/><circle cx="457.4" cy="839.9" r="3.9"/><circle cx="452.9" cy="820.1" r="3.9"/><circle cx="451.5" cy="872.9" r="3.9"/><circle cx="443.7" cy="833.3" r="3.9"/><circle cx="449.3" cy="839.9" r="3.9"/><circle cx="443.9" cy="806.9" r="3.9"/><circle cx="458.4" cy="800.3" r="3.9"/><circle cx="449.8" cy="872.9" r="3.9"/><circle cx="460.5" cy="879.5" r="3.9"/><circle cx="445.7" cy="872.9" r="3.9"/><circle cx="453.6" cy="839.9" r="3.9"/><circle cx="453.5" cy="853.1" r="3.9"/><circle cx="456.0" cy="846.5" r="3.9"/><circle cx="456.7" cy="826.7" r="3.9"/><circle cx="450.2" cy="892.7" r="3.9"/><circle cx="436.2" cy="826.7" r="3.9"/><circle cx="439.4" cy="826.7" r="3.9"/><circle cx="450.4" cy="806.9" r="3.9"/><circle cx="449.5" cy="839.9" r="3.9"/><circle cx="453.3" cy="879.5" r="3.9"/><circle cx="445.6" cy="872.9" r="3.9"/><circle cx="458.7" cy="833.3" r="3.9"/><circle cx="460.0" cy="872.9" r="3.9"/><circle cx="438.0" cy="886.1" r="3.9"/><circle cx="434.1" cy="839.9" r="3.9"/><circle cx="437.9" cy="859.7" r="3.9"/><circle cx="438.7" cy="833.3" r="3.9"/><circle cx="457.3" cy="820.1" r="3.9"/><circle cx="449.4" cy="846.5" r="3.9"/><circle cx="445.1" cy="853.1" r="3.9"/><circle cx="436.6" cy="872.9" r="3.9"/><circle cx="453.1" cy="853.1" r="3.9"/><circle cx="442.9" cy="846.5" r="3.9"/><circle cx="450.0" cy="879.5" r="3.9"/><circle cx="455.1" cy="846.5" r="3.9"/><circle cx="456.6" cy="839.9" r="3.9"/><circle cx="452.9" cy="866.3" r="3.9"/><circle cx="455.6" cy="879.5" r="3.9"/><circle cx="453.4" cy="833.3" r="3.9"/><circle cx="446.2" cy="734.4" r="3.9"/><circle cx="434.4" cy="846.5" r="3.9"/><circle cx="454.3" cy="846.5" r="3.9"/><circle cx="445.3" cy="800.3" r="3.9"/><circle cx="462.4" cy="853.1" r="3.9"/><circle cx="434.8" cy="839.9" r="3.9"/><circle cx="445.7" cy="826.7" r="3.9"/><circle cx="461.8" cy="833.3" r="3.9"/><circle cx="461.0" cy="859.7" r="3.9"/><circle cx="444.3" cy="833.3" r="3.9"/><circle cx="457.4" cy="806.9" r="3.9"/><circle cx="440.6" cy="879.5" r="3.9"/><circle cx="454.6" cy="826.7" r="3.9"/><circle cx="434.1" cy="820.1" r="3.9"/><circle cx="441.9" cy="879.5" r="3.9"/><circle cx="434.5" cy="899.3" r="3.9"/><circle cx="438.3" cy="833.3" r="3.9"/><circle cx="448.6" cy="872.9" r="3.9"/><circle cx="435.2" cy="826.7" r="3.9"/><circle cx="451.6" cy="879.5" r="3.9"/><circle cx="439.2" cy="767.4" r="3.9"/><circle cx="461.8" cy="879.5" r="3.9"/><circle cx="440.0" cy="839.9" r="3.9"/><circle cx="455.1" cy="846.5" r="3.9"/><circle cx="434.8" cy="886.1" r="3.9"/><circle cx="439.3" cy="820.1" r="3.9"/><circle cx="453.6" cy="846.5" r="3.9"/><circle cx="444.1" cy="839.9" r="3.9"/><circle cx="451.1" cy="866.3" r="3.9"/><circle cx="441.7" cy="839.9" r="3.9"/><circle cx="453.7" cy="826.7" r="3.9"/><circle cx="447.0" cy="846.5" r="3.9"/><circle cx="458.7" cy="846.5" r="3.9"/><circle cx="453.5" cy="839.9" r="3.9"/><circle cx="439.2" cy="859.7" r="3.9"/><circle cx="441.2" cy="872.9" r="3.9"/><circle cx="443.6" cy="846.5" r="3.9"/><circle cx="440.2" cy="820.1" r="3.9"/><circle cx="433.1" cy="760.8" r="3.9"/><circle cx="444.3" cy="886.1" r="3.9"/><circle cx="455.0" cy="853.1" r="3.9"/><circle cx="441.7" cy="872.9" r="3.9"/><circle cx="462.3" cy="859.7" r="3.9"/><circle cx="445.3" cy="846.5" r="3.9"/><circle cx="461.1" cy="872.9" r="3.9"/><circle cx="453.3" cy="886.1" r="3.9"/><circle cx="452.4" cy="892.7" r="3.9"/><circle cx="443.8" cy="793.8" r="3.9"/><circle cx="439.4" cy="800.3" r="3.9"/><circle cx="452.0" cy="853.1" r="3.9"/><circle cx="454.9" cy="826.7" r="3.9"/><circle cx="439.0" cy="892.7" r="3.9"/><circle cx="461.4" cy="872.9" r="3.9"/><circle cx="447.1" cy="833.3" r="3.9"/><circle cx="458.8" cy="872.9" r="3.9"/><circle cx="450.0" cy="839.9" r="3.9"/><circle cx="437.9" cy="833.3" r="3.9"/><circle cx="457.3" cy="839.9" r="3.9"/><circle cx="441.1" cy="806.9" r="3.9"/><circle cx="437.6" cy="872.9" r="3.9"/><circle cx="446.9" cy="846.5" r="3.9"/><circle cx="455.3" cy="859.7" r="3.9"/><circle cx="461.9" cy="813.5" r="3.9"/><circle cx="447.2" cy="859.7" r="3.9"/><circle cx="435.3" cy="839.9" r="3.9"/><circle cx="450.6" cy="820.1" r="3.9"/><circle cx="450.7" cy="853.1" r="3.9"/><circle cx="434.6" cy="800.3" r="3.9"/><circle cx="457.8" cy="859.7" r="3.9"/><circle cx="453.0" cy="826.7" r="3.9"/><circle cx="458.4" cy="853.1" r="3.9"/><circle cx="448.1" cy="839.9" r="3.9"/><circle cx="434.3" cy="859.7" r="3.9"/><circle cx="450.3" cy="813.5" r="3.9"/><circle cx="446.6" cy="820.1" r="3.9"/><circle cx="435.3" cy="793.8" r="3.9"/><circle cx="459.5" cy="826.7" r="3.9"/><circle cx="453.0" cy="813.5" r="3.9"/><circle cx="440.2" cy="826.7" r="3.9"/><circle cx="449.6" cy="846.5" r="3.9"/><circle cx="459.6" cy="859.7" r="3.9"/><circle cx="448.9" cy="820.1" r="3.9"/><circle cx="447.4" cy="853.1" r="3.9"/><circle cx="448.1" cy="866.3" r="3.9"/><circle cx="453.7" cy="833.3" r="3.9"/><circle cx="451.0" cy="826.7" r="3.9"/><circle cx="461.9" cy="853.1" r="3.9"/><circle cx="442.8" cy="846.5" r="3.9"/><circle cx="443.6" cy="780.6" r="3.9"/><circle cx="453.9" cy="846.5" r="3.9"/><circle cx="446.6" cy="866.3" r="3.9"/><circle cx="460.0" cy="839.9" r="3.9"/><circle cx="437.2" cy="826.7" r="3.9"/><circle cx="457.8" cy="879.5" r="3.9"/><circle cx="442.9" cy="872.9" r="3.9"/><circle cx="459.4" cy="820.1" r="3.9"/><circle cx="442.5" cy="872.9" r="3.9"/><circle cx="440.5" cy="879.5" r="3.9"/><circle cx="438.4" cy="839.9" r="3.9"/><circle cx="457.8" cy="879.5" r="3.9"/><circle cx="434.4" cy="846.5" r="3.9"/><circle cx="455.1" cy="833.3" r="3.9"/><circle cx="452.0" cy="839.9" r="3.9"/><circle cx="455.2" cy="846.5" r="3.9"/><circle cx="439.6" cy="839.9" r="3.9"/><circle cx="453.0" cy="866.3" r="3.9"/><circle cx="456.5" cy="879.5" r="3.9"/><circle cx="451.8" cy="879.5" r="3.9"/><circle cx="457.9" cy="839.9" r="3.9"/><circle cx="449.1" cy="839.9" r="3.9"/><circle cx="454.1" cy="813.5" r="3.9"/><circle cx="445.1" cy="879.5" r="3.9"/><circle cx="449.2" cy="813.5" r="3.9"/><circle cx="447.9" cy="839.9" r="3.9"/><circle cx="456.1" cy="859.7" r="3.9"/><circle cx="440.6" cy="859.7" r="3.9"/><circle cx="462.2" cy="879.5" r="3.9"/><circle cx="436.7" cy="806.9" r="3.9"/><circle cx="437.9" cy="866.3" r="3.9"/><circle cx="461.9" cy="866.3" r="3.9"/><circle cx="438.7" cy="853.1" r="3.9"/><circle cx="453.2" cy="826.7" r="3.9"/><circle cx="452.6" cy="859.7" r="3.9"/><circle cx="444.7" cy="839.9" r="3.9"/><circle cx="442.4" cy="839.9" r="3.9"/><circle cx="442.0" cy="886.1" r="3.9"/><circle cx="455.5" cy="872.9" r="3.9"/><circle cx="440.5" cy="853.1" r="3.9"/><circle cx="461.7" cy="872.9" r="3.9"/><circle cx="451.5" cy="826.7" r="3.9"/><circle cx="447.6" cy="820.1" r="3.9"/><circle cx="438.8" cy="806.9" r="3.9"/><circle cx="449.2" cy="859.7" r="3.9"/><circle cx="446.7" cy="839.9" r="3.9"/><circle cx="448.7" cy="846.5" r="3.9"/><circle cx="459.5" cy="839.9" r="3.9"/><circle cx="436.7" cy="866.3" r="3.9"/><circle cx="447.9" cy="866.3" r="3.9"/><circle cx="441.1" cy="846.5" r="3.9"/><circle cx="446.7" cy="846.5" r="3.9"/><circle cx="441.3" cy="866.3" r="3.9"/><circle cx="441.9" cy="833.3" r="3.9"/><circle cx="456.4" cy="846.5" r="3.9"/><circle cx="447.0" cy="820.1" r="3.9"/><circle cx="446.1" cy="866.3" r="3.9"/><circle cx="444.3" cy="879.5" r="3.9"/><circle cx="458.3" cy="833.3" r="3.9"/><circle cx="448.0" cy="813.5" r="3.9"/><circle cx="457.3" cy="879.5" r="3.9"/><circle cx="442.7" cy="853.1" r="3.9"/><circle cx="462.0" cy="826.7" r="3.9"/><circle cx="451.3" cy="859.7" r="3.9"/><circle cx="438.8" cy="787.2" r="3.9"/><circle cx="453.8" cy="813.5" r="3.9"/><circle cx="452.1" cy="866.3" r="3.9"/><circle cx="441.2" cy="820.1" r="3.9"/><circle cx="444.7" cy="839.9" r="3.9"/><circle cx="435.4" cy="859.7" r="3.9"/><circle cx="440.4" cy="866.3" r="3.9"/><circle cx="460.9" cy="813.5" r="3.9"/><circle cx="439.5" cy="833.3" r="3.9"/><circle cx="457.7" cy="886.1" r="3.9"/><circle cx="442.8" cy="879.5" r="3.9"/><circle cx="437.4" cy="846.5" r="3.9"/><circle cx="434.4" cy="853.1" r="3.9"/><circle cx="445.7" cy="846.5" r="3.9"/><circle cx="457.1" cy="872.9" r="3.9"/><circle cx="448.1" cy="800.3" r="3.9"/><circle cx="440.7" cy="760.8" r="3.9"/><circle cx="462.2" cy="839.9" r="3.9"/><circle cx="450.0" cy="866.3" r="3.9"/><circle cx="441.7" cy="839.9" r="3.9"/><circle cx="439.0" cy="879.5" r="3.9"/><circle cx="434.1" cy="846.5" r="3.9"/><circle cx="453.8" cy="886.1" r="3.9"/><circle cx="455.1" cy="866.3" r="3.9"/><circle cx="442.8" cy="826.7" r="3.9"/><circle cx="459.0" cy="826.7" r="3.9"/><circle cx="452.5" cy="853.1" r="3.9"/><circle cx="435.1" cy="859.7" r="3.9"/><circle cx="439.2" cy="859.7" r="3.9"/><circle cx="460.9" cy="800.3" r="3.9"/><circle cx="441.0" cy="846.5" r="3.9"/><circle cx="449.6" cy="866.3" r="3.9"/><circle cx="447.2" cy="879.5" r="3.9"/><circle cx="446.7" cy="846.5" r="3.9"/><circle cx="459.3" cy="820.1" r="3.9"/><circle cx="445.5" cy="846.5" r="3.9"/><circle cx="441.2" cy="826.7" r="3.9"/><circle cx="446.1" cy="853.1" r="3.9"/><circle cx="444.2" cy="747.6" r="3.9"/><circle cx="460.2" cy="806.9" r="3.9"/><circle cx="438.7" cy="859.7" r="3.9"/><circle cx="449.8" cy="813.5" r="3.9"/><circle cx="436.4" cy="826.7" r="3.9"/><circle cx="441.5" cy="846.5" r="3.9"/><circle cx="461.2" cy="879.5" r="3.9"/><circle cx="435.4" cy="833.3" r="3.9"/><circle cx="453.8" cy="734.4" r="3.9"/><circle cx="455.6" cy="866.3" r="3.9"/><circle cx="445.0" cy="879.5" r="3.9"/><circle cx="449.3" cy="853.1" r="3.9"/><circle cx="462.5" cy="820.1" r="3.9"/><circle cx="441.8" cy="774.0" r="3.9"/><circle cx="452.9" cy="826.7" r="3.9"/><circle cx="445.1" cy="820.1" r="3.9"/><circle cx="452.2" cy="839.9" r="3.9"/><circle cx="455.9" cy="833.3" r="3.9"/><circle cx="455.8" cy="879.5" r="3.9"/><circle cx="461.5" cy="839.9" r="3.9"/><circle cx="452.3" cy="853.1" r="3.9"/><circle cx="460.8" cy="846.5" r="3.9"/><circle cx="460.6" cy="892.7" r="3.9"/><circle cx="458.3" cy="859.7" r="3.9"/><circle cx="462.0" cy="820.1" r="3.9"/><circle cx="442.7" cy="734.4" r="3.9"/><circle cx="437.8" cy="846.5" r="3.9"/><circle cx="441.0" cy="820.1" r="3.9"/><circle cx="439.2" cy="754.2" r="3.9"/><circle cx="454.8" cy="741.0" r="3.9"/><circle cx="435.6" cy="866.3" r="3.9"/><circle cx="447.3" cy="839.9" r="3.9"/><circle cx="446.6" cy="820.1" r="3.9"/><circle cx="459.0" cy="853.1" r="3.9"/><circle cx="448.1" cy="806.9" r="3.9"/><circle cx="435.1" cy="866.3" r="3.9"/><circle cx="457.3" cy="886.1" r="3.9"/><circle cx="447.7" cy="886.1" r="3.9"/><circle cx="458.6" cy="859.7" r="3.9"/><circle cx="460.6" cy="820.1" r="3.9"/><circle cx="438.1" cy="760.8" r="3.9"/><circle cx="454.5" cy="839.9" r="3.9"/><circle cx="446.7" cy="826.7" r="3.9"/><circle cx="457.3" cy="846.5" r="3.9"/><circle cx="456.8" cy="820.1" r="3.9"/><circle cx="439.0" cy="866.3" r="3.9"/><circle cx="437.9" cy="826.7" r="3.9"/><circle cx="457.3" cy="846.5" r="3.9"/><circle cx="449.2" cy="866.3" r="3.9"/><circle cx="444.9" cy="853.1" r="3.9"/><circle cx="450.8" cy="872.9" r="3.9"/><circle cx="452.7" cy="859.7" r="3.9"/><circle cx="455.2" cy="846.5" r="3.9"/><circle cx="446.5" cy="846.5" r="3.9"/><circle cx="454.0" cy="859.7" r="3.9"/><circle cx="434.7" cy="826.7" r="3.9"/><circle cx="455.5" cy="846.5" r="3.9"/><circle cx="440.8" cy="833.3" r="3.9"/><circle cx="438.1" cy="833.3" r="3.9"/><circle cx="434.8" cy="826.7" r="3.9"/><circle cx="455.6" cy="833.3" r="3.9"/><circle cx="448.2" cy="853.1" r="3.9"/><circle cx="440.5" cy="872.9" r="3.9"/><circle cx="454.4" cy="839.9" r="3.9"/><circle cx="435.3" cy="833.3" r="3.9"/><circle cx="448.5" cy="853.1" r="3.9"/><circle cx="437.8" cy="839.9" r="3.9"/><circle cx="444.0" cy="846.5" r="3.9"/><circle cx="438.4" cy="833.3" r="3.9"/><circle cx="444.2" cy="866.3" r="3.9"/><circle cx="449.3" cy="872.9" r="3.9"/><circle cx="454.0" cy="853.1" r="3.9"/><circle cx="451.6" cy="813.5" r="3.9"/><circle cx="451.6" cy="853.1" r="3.9"/><circle cx="447.3" cy="846.5" r="3.9"/><circle cx="459.0" cy="846.5" r="3.9"/><circle cx="441.9" cy="813.5" r="3.9"/><circle cx="441.0" cy="839.9" r="3.9"/><circle cx="452.3" cy="853.1" r="3.9"/><circle cx="452.5" cy="787.2" r="3.9"/><circle cx="444.7" cy="859.7" r="3.9"/><circle cx="459.9" cy="859.7" r="3.9"/><circle cx="449.1" cy="872.9" r="3.9"/><circle cx="437.2" cy="853.1" r="3.9"/><circle cx="440.2" cy="859.7" r="3.9"/><circle cx="453.5" cy="892.7" r="3.9"/><circle cx="450.4" cy="846.5" r="3.9"/><circle cx="449.9" cy="859.7" r="3.9"/><circle cx="456.4" cy="800.3" r="3.9"/><circle cx="456.2" cy="793.8" r="3.9"/><circle cx="456.8" cy="820.1" r="3.9"/><circle cx="456.9" cy="853.1" r="3.9"/><circle cx="454.1" cy="859.7" r="3.9"/><circle cx="451.2" cy="774.0" r="3.9"/><circle cx="448.2" cy="787.2" r="3.9"/><circle cx="461.8" cy="760.8" r="3.9"/><circle cx="447.7" cy="859.7" r="3.9"/><circle cx="460.2" cy="839.9" r="3.9"/><circle cx="452.7" cy="859.7" r="3.9"/><circle cx="437.2" cy="826.7" r="3.9"/><circle cx="442.0" cy="872.9" r="3.9"/><circle cx="453.5" cy="886.1" r="3.9"/><circle cx="445.1" cy="886.1" r="3.9"/><circle cx="451.3" cy="853.1" r="3.9"/><circle cx="456.1" cy="833.3" r="3.9"/><circle cx="459.4" cy="820.1" r="3.9"/><circle cx="457.3" cy="846.5" r="3.9"/><circle cx="453.3" cy="820.1" r="3.9"/><circle cx="460.2" cy="859.7" r="3.9"/><circle cx="435.2" cy="866.3" r="3.9"/><circle cx="435.0" cy="839.9" r="3.9"/><circle cx="448.6" cy="839.9" r="3.9"/><circle cx="435.6" cy="833.3" r="3.9"/><circle cx="460.7" cy="859.7" r="3.9"/><circle cx="438.7" cy="859.7" r="3.9"/><circle cx="458.2" cy="859.7" r="3.9"/><circle cx="462.5" cy="866.3" r="3.9"/><circle cx="435.3" cy="826.7" r="3.9"/><circle cx="455.9" cy="833.3" r="3.9"/><circle cx="443.6" cy="879.5" r="3.9"/><circle cx="434.1" cy="866.3" r="3.9"/><circle cx="456.1" cy="853.1" r="3.9"/><circle cx="447.3" cy="879.5" r="3.9"/><circle cx="437.4" cy="853.1" r="3.9"/><circle cx="453.9" cy="859.7" r="3.9"/><circle cx="434.7" cy="872.9" r="3.9"/><circle cx="434.4" cy="813.5" r="3.9"/><circle cx="446.6" cy="853.1" r="3.9"/><circle cx="460.7" cy="846.5" r="3.9"/><circle cx="437.0" cy="866.3" r="3.9"/><circle cx="437.6" cy="767.4" r="3.9"/><circle cx="443.2" cy="760.8" r="3.9"/><circle cx="459.6" cy="826.7" r="3.9"/><circle cx="441.3" cy="846.5" r="3.9"/><circle cx="451.6" cy="892.7" r="3.9"/><circle cx="434.8" cy="853.1" r="3.9"/><circle cx="447.4" cy="866.3" r="3.9"/><circle cx="457.7" cy="853.1" r="3.9"/><circle cx="455.2" cy="879.5" r="3.9"/><circle cx="444.0" cy="800.3" r="3.9"/><circle cx="439.1" cy="839.9" r="3.9"/><circle cx="440.7" cy="839.9" r="3.9"/><circle cx="434.9" cy="820.1" r="3.9"/><circle cx="454.4" cy="866.3" r="3.9"/><circle cx="448.7" cy="767.4" r="3.9"/><circle cx="439.7" cy="859.7" r="3.9"/><circle cx="460.7" cy="853.1" r="3.9"/><circle cx="455.7" cy="879.5" r="3.9"/><circle cx="460.3" cy="826.7" r="3.9"/><circle cx="449.4" cy="872.9" r="3.9"/><circle cx="454.6" cy="806.9" r="3.9"/><circle cx="448.6" cy="833.3" r="3.9"/><circle cx="452.3" cy="734.4" r="3.9"/><circle cx="436.1" cy="892.7" r="3.9"/><circle cx="441.2" cy="859.7" r="3.9"/><circle cx="448.3" cy="872.9" r="3.9"/><circle cx="447.4" cy="859.7" r="3.9"/><circle cx="461.4" cy="872.9" r="3.9"/><circle cx="458.1" cy="833.3" r="3.9"/><circle cx="459.2" cy="806.9" r="3.9"/><circle cx="452.4" cy="839.9" r="3.9"/><circle cx="438.7" cy="839.9" r="3.9"/><circle cx="462.3" cy="839.9" r="3.9"/><circle cx="460.8" cy="813.5" r="3.9"/><circle cx="457.1" cy="846.5" r="3.9"/><circle cx="445.8" cy="879.5" r="3.9"/><circle cx="437.2" cy="853.1" r="3.9"/><circle cx="453.1" cy="820.1" r="3.9"/><circle cx="448.9" cy="872.9" r="3.9"/><circle cx="458.4" cy="853.1" r="3.9"/><circle cx="459.2" cy="872.9" r="3.9"/><circle cx="444.1" cy="833.3" r="3.9"/><circle cx="436.3" cy="886.1" r="3.9"/><circle cx="457.1" cy="833.3" r="3.9"/><circle cx="435.8" cy="833.3" r="3.9"/><circle cx="444.4" cy="853.1" r="3.9"/><circle cx="448.0" cy="866.3" r="3.9"/><circle cx="455.1" cy="879.5" r="3.9"/><circle cx="457.8" cy="866.3" r="3.9"/><circle cx="436.6" cy="806.9" r="3.9"/><circle cx="449.2" cy="846.5" r="3.9"/><circle cx="462.2" cy="800.3" r="3.9"/><circle cx="458.2" cy="846.5" r="3.9"/><circle cx="454.0" cy="806.9" r="3.9"/><circle cx="457.7" cy="833.3" r="3.9"/><circle cx="459.3" cy="826.7" r="3.9"/><circle cx="459.2" cy="846.5" r="3.9"/><circle cx="451.2" cy="866.3" r="3.9"/><circle cx="452.5" cy="806.9" r="3.9"/><circle cx="449.6" cy="866.3" r="3.9"/><circle cx="447.6" cy="859.7" r="3.9"/><circle cx="459.9" cy="853.1" r="3.9"/><circle cx="435.1" cy="813.5" r="3.9"/><circle cx="461.5" cy="866.3" r="3.9"/><circle cx="443.6" cy="853.1" r="3.9"/><circle cx="446.1" cy="859.7" r="3.9"/><circle cx="442.4" cy="859.7" r="3.9"/><circle cx="449.2" cy="859.7" r="3.9"/><circle cx="455.3" cy="826.7" r="3.9"/><circle cx="442.4" cy="866.3" r="3.9"/><circle cx="459.2" cy="859.7" r="3.9"/><circle cx="456.8" cy="853.1" r="3.9"/><circle cx="436.2" cy="866.3" r="3.9"/><circle cx="435.2" cy="839.9" r="3.9"/><circle cx="440.1" cy="853.1" r="3.9"/><circle cx="453.9" cy="826.7" r="3.9"/><circle cx="444.0" cy="859.7" r="3.9"/><circle cx="441.9" cy="853.1" r="3.9"/><circle cx="436.5" cy="859.7" r="3.9"/><circle cx="448.2" cy="820.1" r="3.9"/><circle cx="458.1" cy="892.7" r="3.9"/><circle cx="448.9" cy="813.5" r="3.9"/><circle cx="459.1" cy="879.5" r="3.9"/><circle cx="438.6" cy="853.1" r="3.9"/><circle cx="436.7" cy="846.5" r="3.9"/><circle cx="459.2" cy="839.9" r="3.9"/><circle cx="445.6" cy="839.9" r="3.9"/><circle cx="442.0" cy="866.3" r="3.9"/><circle cx="460.3" cy="866.3" r="3.9"/><circle cx="440.9" cy="866.3" r="3.9"/><circle cx="439.3" cy="793.8" r="3.9"/><circle cx="445.8" cy="859.7" r="3.9"/><circle cx="445.7" cy="853.1" r="3.9"/><circle cx="455.6" cy="846.5" r="3.9"/><circle cx="444.2" cy="846.5" r="3.9"/><circle cx="452.5" cy="820.1" r="3.9"/><circle cx="458.2" cy="879.5" r="3.9"/><circle cx="446.6" cy="853.1" r="3.9"/><circle cx="444.9" cy="853.1" r="3.9"/><circle cx="444.1" cy="853.1" r="3.9"/><circle cx="447.3" cy="839.9" r="3.9"/><circle cx="435.1" cy="839.9" r="3.9"/><circle cx="458.3" cy="846.5" r="3.9"/><circle cx="451.4" cy="886.1" r="3.9"/><circle cx="437.7" cy="879.5" r="3.9"/><circle cx="441.6" cy="866.3" r="3.9"/><circle cx="449.9" cy="886.1" r="3.9"/><circle cx="456.3" cy="826.7" r="3.9"/><circle cx="445.1" cy="872.9" r="3.9"/><circle cx="438.1" cy="774.0" r="3.9"/><circle cx="447.5" cy="866.3" r="3.9"/><circle cx="462.4" cy="846.5" r="3.9"/><circle cx="445.6" cy="853.1" r="3.9"/><circle cx="459.4" cy="846.5" r="3.9"/><circle cx="453.8" cy="839.9" r="3.9"/><circle cx="457.3" cy="734.4" r="3.9"/><circle cx="448.5" cy="846.5" r="3.9"/><circle cx="434.5" cy="806.9" r="3.9"/><circle cx="449.3" cy="853.1" r="3.9"/><circle cx="452.8" cy="846.5" r="3.9"/><circle cx="449.2" cy="879.5" r="3.9"/><circle cx="444.1" cy="872.9" r="3.9"/><circle cx="449.7" cy="853.1" r="3.9"/><circle cx="442.3" cy="853.1" r="3.9"/><circle cx="458.6" cy="853.1" r="3.9"/><circle cx="456.9" cy="859.7" r="3.9"/><circle cx="450.0" cy="820.1" r="3.9"/><circle cx="461.1" cy="813.5" r="3.9"/><circle cx="435.6" cy="866.3" r="3.9"/><circle cx="457.5" cy="839.9" r="3.9"/><circle cx="457.9" cy="806.9" r="3.9"/><circle cx="462.3" cy="859.7" r="3.9"/><circle cx="448.4" cy="853.1" r="3.9"/><circle cx="458.6" cy="859.7" r="3.9"/><circle cx="445.3" cy="872.9" r="3.9"/><circle cx="435.0" cy="714.6" r="3.9"/><circle cx="439.8" cy="820.1" r="3.9"/><circle cx="437.6" cy="866.3" r="3.9"/><circle cx="455.4" cy="826.7" r="3.9"/><circle cx="440.2" cy="899.3" r="3.9"/><circle cx="434.2" cy="826.7" r="3.9"/><circle cx="437.3" cy="846.5" r="3.9"/><circle cx="441.9" cy="846.5" r="3.9"/><circle cx="460.1" cy="846.5" r="3.9"/><circle cx="440.9" cy="820.1" r="3.9"/><circle cx="445.9" cy="879.5" r="3.9"/><circle cx="462.0" cy="839.9" r="3.9"/><circle cx="449.1" cy="787.2" r="3.9"/><circle cx="452.5" cy="853.1" r="3.9"/><circle cx="444.0" cy="846.5" r="3.9"/><circle cx="439.5" cy="846.5" r="3.9"/><circle cx="436.9" cy="859.7" r="3.9"/><circle cx="455.7" cy="820.1" r="3.9"/><circle cx="445.7" cy="846.5" r="3.9"/><circle cx="452.2" cy="866.3" r="3.9"/><circle cx="435.1" cy="741.0" r="3.9"/><circle cx="441.6" cy="846.5" r="3.9"/><circle cx="450.3" cy="839.9" r="3.9"/><circle cx="457.5" cy="813.5" r="3.9"/><circle cx="453.6" cy="774.0" r="3.9"/><circle cx="460.5" cy="866.3" r="3.9"/><circle cx="437.3" cy="879.5" r="3.9"/><circle cx="439.1" cy="872.9" r="3.9"/><circle cx="440.3" cy="833.3" r="3.9"/><circle cx="460.0" cy="866.3" r="3.9"/><circle cx="456.0" cy="886.1" r="3.9"/><circle cx="446.3" cy="833.3" r="3.9"/><circle cx="435.0" cy="872.9" r="3.9"/><circle cx="443.4" cy="820.1" r="3.9"/><circle cx="437.1" cy="866.3" r="3.9"/><circle cx="460.1" cy="826.7" r="3.9"/><circle cx="457.9" cy="872.9" r="3.9"/><circle cx="451.9" cy="846.5" r="3.9"/><circle cx="445.9" cy="813.5" r="3.9"/><circle cx="434.9" cy="793.8" r="3.9"/><circle cx="459.2" cy="892.7" r="3.9"/><circle cx="442.5" cy="833.3" r="3.9"/><circle cx="460.2" cy="820.1" r="3.9"/><circle cx="440.4" cy="859.7" r="3.9"/><circle cx="438.7" cy="833.3" r="3.9"/><circle cx="440.4" cy="872.9" r="3.9"/><circle cx="448.4" cy="826.7" r="3.9"/><circle cx="453.1" cy="853.1" r="3.9"/><circle cx="450.6" cy="846.5" r="3.9"/><circle cx="456.5" cy="681.6" r="3.9"/><circle cx="458.6" cy="846.5" r="3.9"/><circle cx="457.5" cy="833.3" r="3.9"/><circle cx="435.0" cy="813.5" r="3.9"/><circle cx="446.5" cy="879.5" r="3.9"/><circle cx="444.9" cy="846.5" r="3.9"/><circle cx="439.5" cy="813.5" r="3.9"/><circle cx="437.5" cy="787.2" r="3.9"/><circle cx="439.1" cy="839.9" r="3.9"/><circle cx="443.5" cy="866.3" r="3.9"/><circle cx="443.4" cy="872.9" r="3.9"/><circle cx="460.4" cy="820.1" r="3.9"/><circle cx="458.8" cy="741.0" r="3.9"/><circle cx="436.0" cy="820.1" r="3.9"/><circle cx="447.0" cy="661.8" r="3.9"/><circle cx="443.3" cy="872.9" r="3.9"/><circle cx="441.2" cy="879.5" r="3.9"/><circle cx="449.7" cy="859.7" r="3.9"/><circle cx="450.0" cy="839.9" r="3.9"/><circle cx="448.0" cy="833.3" r="3.9"/><circle cx="438.9" cy="872.9" r="3.9"/><circle cx="434.1" cy="859.7" r="3.9"/><circle cx="453.8" cy="872.9" r="3.9"/><circle cx="445.1" cy="866.3" r="3.9"/><circle cx="446.6" cy="853.1" r="3.9"/><circle cx="450.5" cy="853.1" r="3.9"/><circle cx="448.9" cy="826.7" r="3.9"/><circle cx="448.8" cy="806.9" r="3.9"/><circle cx="436.0" cy="879.5" r="3.9"/><circle cx="452.5" cy="833.3" r="3.9"/><circle cx="449.5" cy="780.6" r="3.9"/><circle cx="457.9" cy="866.3" r="3.9"/><circle cx="452.8" cy="846.5" r="3.9"/><circle cx="443.8" cy="872.9" r="3.9"/><circle cx="460.0" cy="859.7" r="3.9"/><circle cx="436.5" cy="839.9" r="3.9"/><circle cx="450.1" cy="813.5" r="3.9"/><circle cx="462.4" cy="853.1" r="3.9"/><circle cx="443.8" cy="886.1" r="3.9"/><circle cx="442.0" cy="859.7" r="3.9"/><circle cx="447.9" cy="866.3" r="3.9"/><circle cx="451.2" cy="872.9" r="3.9"/><circle cx="449.3" cy="853.1" r="3.9"/><circle cx="435.7" cy="820.1" r="3.9"/><circle cx="460.4" cy="872.9" r="3.9"/><circle cx="454.1" cy="826.7" r="3.9"/><circle cx="459.5" cy="853.1" r="3.9"/><circle cx="462.1" cy="820.1" r="3.9"/><circle cx="443.3" cy="806.9" r="3.9"/><circle cx="436.0" cy="866.3" r="3.9"/><circle cx="459.7" cy="813.5" r="3.9"/><circle cx="439.8" cy="826.7" r="3.9"/><circle cx="441.8" cy="839.9" r="3.9"/><circle cx="452.1" cy="866.3" r="3.9"/><circle cx="440.3" cy="839.9" r="3.9"/><circle cx="459.5" cy="853.1" r="3.9"/><circle cx="459.4" cy="806.9" r="3.9"/><circle cx="445.7" cy="846.5" r="3.9"/><circle cx="459.6" cy="813.5" r="3.9"/><circle cx="441.6" cy="820.1" r="3.9"/><circle cx="450.8" cy="635.4" r="3.9"/><circle cx="450.2" cy="866.3" r="3.9"/><circle cx="452.0" cy="727.8" r="3.9"/><circle cx="445.0" cy="688.2" r="3.9"/><circle cx="456.9" cy="833.3" r="3.9"/><circle cx="437.7" cy="866.3" r="3.9"/><circle cx="458.0" cy="853.1" r="3.9"/><circle cx="462.1" cy="853.1" r="3.9"/><circle cx="449.7" cy="734.4" r="3.9"/><circle cx="453.3" cy="767.4" r="3.9"/><circle cx="443.5" cy="846.5" r="3.9"/><circle cx="454.1" cy="879.5" r="3.9"/><circle cx="460.0" cy="872.9" r="3.9"/><circle cx="456.3" cy="853.1" r="3.9"/><circle cx="457.7" cy="853.1" r="3.9"/><circle cx="457.3" cy="859.7" r="3.9"/><circle cx="446.4" cy="820.1" r="3.9"/><circle cx="439.8" cy="866.3" r="3.9"/><circle cx="448.2" cy="800.3" r="3.9"/><circle cx="434.8" cy="846.5" r="3.9"/><circle cx="454.0" cy="780.6" r="3.9"/><circle cx="457.8" cy="879.5" r="3.9"/><circle cx="459.8" cy="760.8" r="3.9"/><circle cx="437.0" cy="866.3" r="3.9"/><circle cx="435.9" cy="853.1" r="3.9"/><circle cx="446.2" cy="826.7" r="3.9"/><circle cx="448.4" cy="879.5" r="3.9"/><circle cx="449.5" cy="813.5" r="3.9"/><circle cx="445.4" cy="826.7" r="3.9"/><circle cx="439.9" cy="853.1" r="3.9"/><circle cx="441.1" cy="872.9" r="3.9"/><circle cx="445.9" cy="866.3" r="3.9"/><circle cx="446.9" cy="859.7" r="3.9"/><circle cx="461.5" cy="727.8" r="3.9"/><circle cx="435.1" cy="833.3" r="3.9"/><circle cx="434.3" cy="872.9" r="3.9"/><circle cx="461.0" cy="859.7" r="3.9"/><circle cx="449.2" cy="826.7" r="3.9"/><circle cx="459.8" cy="826.7" r="3.9"/><circle cx="462.3" cy="747.6" r="3.9"/><circle cx="460.5" cy="826.7" r="3.9"/><circle cx="441.8" cy="839.9" r="3.9"/><circle cx="449.4" cy="839.9" r="3.9"/><circle cx="448.2" cy="846.5" r="3.9"/><circle cx="461.8" cy="853.1" r="3.9"/><circle cx="455.8" cy="859.7" r="3.9"/><circle cx="449.8" cy="879.5" r="3.9"/><circle cx="435.1" cy="747.6" r="3.9"/><circle cx="446.7" cy="859.7" r="3.9"/><circle cx="435.4" cy="859.7" r="3.9"/><circle cx="450.1" cy="872.9" r="3.9"/><circle cx="450.6" cy="886.1" r="3.9"/><circle cx="454.6" cy="872.9" r="3.9"/><circle cx="445.8" cy="853.1" r="3.9"/><circle cx="442.4" cy="800.3" r="3.9"/><circle cx="439.2" cy="879.5" r="3.9"/><circle cx="457.5" cy="813.5" r="3.9"/><circle cx="453.8" cy="872.9" r="3.9"/><circle cx="451.7" cy="879.5" r="3.9"/><circle cx="451.2" cy="833.3" r="3.9"/><circle cx="437.7" cy="833.3" r="3.9"/><circle cx="455.7" cy="886.1" r="3.9"/></g>
<g fill="#FFC74F" fill-opacity=".3" stroke="#FFC74F" stroke-opacity=".3" stroke-width="1.6"><circle cx="592.4" cy="886.1" r="3.9"/><circle cx="586.6" cy="899.3" r="3.9"/><circle cx="606.2" cy="892.7" r="3.9"/><circle cx="588.7" cy="886.1" r="3.9"/><circle cx="592.8" cy="866.3" r="3.9"/><circle cx="597.9" cy="853.1" r="3.9"/><circle cx="609.1" cy="866.3" r="3.9"/><circle cx="608.4" cy="879.5" r="3.9"/><circle cx="598.3" cy="879.5" r="3.9"/><circle cx="593.8" cy="859.7" r="3.9"/><circle cx="584.5" cy="892.7" r="3.9"/><circle cx="587.2" cy="872.9" r="3.9"/><circle cx="606.6" cy="872.9" r="3.9"/><circle cx="597.4" cy="886.1" r="3.9"/><circle cx="609.6" cy="879.5" r="3.9"/><circle cx="581.7" cy="859.7" r="3.9"/><circle cx="586.0" cy="899.3" r="3.9"/><circle cx="608.5" cy="806.9" r="3.9"/><circle cx="604.1" cy="872.9" r="3.9"/><circle cx="609.0" cy="859.7" r="3.9"/><circle cx="582.7" cy="879.5" r="3.9"/><circle cx="591.2" cy="846.5" r="3.9"/><circle cx="603.7" cy="846.5" r="3.9"/><circle cx="594.8" cy="892.7" r="3.9"/><circle cx="581.6" cy="846.5" r="3.9"/><circle cx="604.4" cy="899.3" r="3.9"/><circle cx="598.5" cy="899.3" r="3.9"/><circle cx="592.5" cy="879.5" r="3.9"/><circle cx="586.7" cy="872.9" r="3.9"/><circle cx="594.1" cy="866.3" r="3.9"/><circle cx="603.3" cy="905.9" r="3.9"/><circle cx="605.8" cy="846.5" r="3.9"/><circle cx="601.8" cy="872.9" r="3.9"/><circle cx="609.3" cy="872.9" r="3.9"/><circle cx="594.3" cy="872.9" r="3.9"/><circle cx="585.0" cy="879.5" r="3.9"/><circle cx="589.5" cy="892.7" r="3.9"/><circle cx="595.3" cy="839.9" r="3.9"/><circle cx="588.8" cy="886.1" r="3.9"/><circle cx="595.7" cy="892.7" r="3.9"/><circle cx="591.8" cy="820.1" r="3.9"/><circle cx="585.9" cy="866.3" r="3.9"/><circle cx="587.6" cy="872.9" r="3.9"/><circle cx="599.1" cy="905.9" r="3.9"/><circle cx="589.0" cy="648.6" r="3.9"/><circle cx="609.1" cy="899.3" r="3.9"/><circle cx="584.7" cy="899.3" r="3.9"/><circle cx="606.9" cy="899.3" r="3.9"/><circle cx="609.8" cy="839.9" r="3.9"/><circle cx="581.6" cy="872.9" r="3.9"/><circle cx="603.4" cy="886.1" r="3.9"/><circle cx="602.4" cy="892.7" r="3.9"/><circle cx="583.3" cy="853.1" r="3.9"/><circle cx="604.4" cy="846.5" r="3.9"/><circle cx="588.3" cy="886.1" r="3.9"/><circle cx="603.1" cy="833.3" r="3.9"/><circle cx="604.0" cy="879.5" r="3.9"/><circle cx="606.7" cy="839.9" r="3.9"/><circle cx="581.5" cy="886.1" r="3.9"/><circle cx="597.4" cy="879.5" r="3.9"/><circle cx="587.9" cy="879.5" r="3.9"/><circle cx="581.5" cy="899.3" r="3.9"/><circle cx="603.9" cy="905.9" r="3.9"/><circle cx="591.1" cy="879.5" r="3.9"/><circle cx="599.0" cy="899.3" r="3.9"/><circle cx="604.1" cy="892.7" r="3.9"/><circle cx="588.0" cy="866.3" r="3.9"/><circle cx="606.0" cy="886.1" r="3.9"/><circle cx="587.5" cy="879.5" r="3.9"/><circle cx="594.7" cy="859.7" r="3.9"/><circle cx="608.1" cy="892.7" r="3.9"/><circle cx="603.7" cy="886.1" r="3.9"/><circle cx="596.5" cy="859.7" r="3.9"/><circle cx="595.6" cy="886.1" r="3.9"/><circle cx="603.1" cy="892.7" r="3.9"/><circle cx="601.4" cy="866.3" r="3.9"/><circle cx="602.8" cy="866.3" r="3.9"/><circle cx="594.8" cy="905.9" r="3.9"/><circle cx="605.0" cy="872.9" r="3.9"/><circle cx="590.6" cy="661.8" r="3.9"/><circle cx="593.6" cy="859.7" r="3.9"/><circle cx="602.3" cy="879.5" r="3.9"/><circle cx="591.1" cy="872.9" r="3.9"/><circle cx="605.6" cy="853.1" r="3.9"/><circle cx="600.5" cy="899.3" r="3.9"/><circle cx="608.0" cy="859.7" r="3.9"/><circle cx="589.4" cy="886.1" r="3.9"/><circle cx="585.2" cy="892.7" r="3.9"/><circle cx="609.9" cy="879.5" r="3.9"/><circle cx="592.9" cy="892.7" r="3.9"/><circle cx="594.2" cy="899.3" r="3.9"/><circle cx="586.5" cy="892.7" r="3.9"/><circle cx="605.2" cy="886.1" r="3.9"/><circle cx="598.5" cy="899.3" r="3.9"/><circle cx="608.3" cy="846.5" r="3.9"/><circle cx="581.8" cy="892.7" r="3.9"/><circle cx="603.5" cy="899.3" r="3.9"/><circle cx="596.2" cy="886.1" r="3.9"/><circle cx="587.0" cy="899.3" r="3.9"/><circle cx="581.7" cy="892.7" r="3.9"/><circle cx="598.8" cy="886.1" r="3.9"/><circle cx="595.1" cy="879.5" r="3.9"/><circle cx="586.9" cy="879.5" r="3.9"/><circle cx="605.4" cy="872.9" r="3.9"/><circle cx="582.1" cy="892.7" r="3.9"/><circle cx="607.7" cy="866.3" r="3.9"/><circle cx="608.5" cy="859.7" r="3.9"/><circle cx="587.7" cy="886.1" r="3.9"/><circle cx="607.0" cy="866.3" r="3.9"/><circle cx="589.1" cy="859.7" r="3.9"/><circle cx="586.1" cy="859.7" r="3.9"/><circle cx="597.9" cy="892.7" r="3.9"/><circle cx="586.7" cy="905.9" r="3.9"/><circle cx="593.7" cy="892.7" r="3.9"/><circle cx="587.9" cy="859.7" r="3.9"/><circle cx="597.1" cy="905.9" r="3.9"/><circle cx="602.1" cy="879.5" r="3.9"/><circle cx="602.7" cy="892.7" r="3.9"/><circle cx="589.6" cy="886.1" r="3.9"/><circle cx="593.6" cy="872.9" r="3.9"/><circle cx="606.0" cy="879.5" r="3.9"/><circle cx="594.0" cy="833.3" r="3.9"/><circle cx="584.3" cy="853.1" r="3.9"/><circle cx="581.8" cy="886.1" r="3.9"/><circle cx="598.2" cy="872.9" r="3.9"/><circle cx="582.6" cy="866.3" r="3.9"/><circle cx="596.1" cy="892.7" r="3.9"/><circle cx="593.3" cy="879.5" r="3.9"/><circle cx="590.0" cy="833.3" r="3.9"/><circle cx="606.8" cy="846.5" r="3.9"/><circle cx="603.3" cy="892.7" r="3.9"/><circle cx="598.4" cy="866.3" r="3.9"/><circle cx="606.9" cy="872.9" r="3.9"/><circle cx="584.9" cy="866.3" r="3.9"/><circle cx="589.6" cy="853.1" r="3.9"/><circle cx="599.1" cy="872.9" r="3.9"/><circle cx="607.5" cy="872.9" r="3.9"/><circle cx="596.8" cy="826.7" r="3.9"/><circle cx="593.9" cy="892.7" r="3.9"/><circle cx="590.2" cy="853.1" r="3.9"/><circle cx="588.0" cy="886.1" r="3.9"/><circle cx="609.7" cy="905.9" r="3.9"/><circle cx="598.0" cy="879.5" r="3.9"/><circle cx="605.6" cy="886.1" r="3.9"/><circle cx="604.8" cy="886.1" r="3.9"/><circle cx="605.0" cy="879.5" r="3.9"/><circle cx="595.3" cy="905.9" r="3.9"/><circle cx="595.5" cy="892.7" r="3.9"/><circle cx="588.3" cy="899.3" r="3.9"/><circle cx="590.6" cy="859.7" r="3.9"/><circle cx="604.9" cy="899.3" r="3.9"/><circle cx="585.2" cy="859.7" r="3.9"/><circle cx="609.1" cy="886.1" r="3.9"/><circle cx="593.5" cy="859.7" r="3.9"/><circle cx="581.6" cy="886.1" r="3.9"/><circle cx="606.8" cy="846.5" r="3.9"/><circle cx="606.3" cy="879.5" r="3.9"/><circle cx="602.7" cy="892.7" r="3.9"/><circle cx="584.2" cy="872.9" r="3.9"/><circle cx="600.2" cy="879.5" r="3.9"/><circle cx="607.3" cy="872.9" r="3.9"/><circle cx="594.6" cy="866.3" r="3.9"/><circle cx="597.5" cy="899.3" r="3.9"/><circle cx="598.2" cy="846.5" r="3.9"/><circle cx="608.3" cy="892.7" r="3.9"/><circle cx="581.5" cy="866.3" r="3.9"/><circle cx="582.6" cy="872.9" r="3.9"/><circle cx="585.8" cy="892.7" r="3.9"/><circle cx="607.2" cy="833.3" r="3.9"/><circle cx="583.7" cy="859.7" r="3.9"/><circle cx="591.8" cy="879.5" r="3.9"/><circle cx="591.8" cy="886.1" r="3.9"/><circle cx="597.6" cy="872.9" r="3.9"/><circle cx="603.3" cy="853.1" r="3.9"/><circle cx="605.3" cy="892.7" r="3.9"/><circle cx="609.5" cy="892.7" r="3.9"/><circle cx="604.7" cy="879.5" r="3.9"/><circle cx="591.4" cy="879.5" r="3.9"/><circle cx="595.6" cy="886.1" r="3.9"/><circle cx="583.6" cy="872.9" r="3.9"/><circle cx="582.4" cy="879.5" r="3.9"/><circle cx="604.8" cy="872.9" r="3.9"/><circle cx="605.0" cy="417.7" r="3.9"/><circle cx="591.1" cy="853.1" r="3.9"/><circle cx="585.7" cy="899.3" r="3.9"/><circle cx="589.9" cy="886.1" r="3.9"/><circle cx="595.5" cy="899.3" r="3.9"/><circle cx="603.8" cy="899.3" r="3.9"/><circle cx="599.4" cy="872.9" r="3.9"/><circle cx="609.9" cy="886.1" r="3.9"/><circle cx="609.9" cy="872.9" r="3.9"/><circle cx="588.3" cy="905.9" r="3.9"/><circle cx="608.8" cy="872.9" r="3.9"/><circle cx="587.4" cy="905.9" r="3.9"/><circle cx="608.9" cy="872.9" r="3.9"/><circle cx="601.8" cy="879.5" r="3.9"/><circle cx="584.6" cy="866.3" r="3.9"/><circle cx="609.7" cy="872.9" r="3.9"/><circle cx="609.2" cy="872.9" r="3.9"/><circle cx="586.9" cy="886.1" r="3.9"/><circle cx="585.6" cy="879.5" r="3.9"/><circle cx="589.3" cy="879.5" r="3.9"/><circle cx="583.7" cy="879.5" r="3.9"/><circle cx="587.4" cy="879.5" r="3.9"/><circle cx="608.8" cy="892.7" r="3.9"/><circle cx="587.9" cy="859.7" r="3.9"/><circle cx="583.3" cy="866.3" r="3.9"/><circle cx="582.5" cy="872.9" r="3.9"/><circle cx="597.8" cy="886.1" r="3.9"/><circle cx="585.6" cy="886.1" r="3.9"/><circle cx="601.0" cy="899.3" r="3.9"/><circle cx="605.3" cy="899.3" r="3.9"/><circle cx="585.7" cy="892.7" r="3.9"/><circle cx="602.2" cy="879.5" r="3.9"/><circle cx="608.0" cy="892.7" r="3.9"/><circle cx="601.3" cy="879.5" r="3.9"/><circle cx="581.9" cy="879.5" r="3.9"/><circle cx="593.9" cy="892.7" r="3.9"/><circle cx="600.1" cy="853.1" r="3.9"/><circle cx="596.6" cy="866.3" r="3.9"/><circle cx="604.4" cy="905.9" r="3.9"/><circle cx="602.6" cy="872.9" r="3.9"/><circle cx="596.4" cy="859.7" r="3.9"/><circle cx="598.1" cy="886.1" r="3.9"/><circle cx="594.0" cy="879.5" r="3.9"/><circle cx="602.4" cy="866.3" r="3.9"/><circle cx="584.9" cy="853.1" r="3.9"/><circle cx="587.1" cy="886.1" r="3.9"/><circle cx="591.0" cy="879.5" r="3.9"/><circle cx="609.6" cy="892.7" r="3.9"/><circle cx="582.9" cy="859.7" r="3.9"/><circle cx="589.8" cy="879.5" r="3.9"/><circle cx="594.7" cy="872.9" r="3.9"/><circle cx="594.1" cy="872.9" r="3.9"/><circle cx="591.7" cy="879.5" r="3.9"/><circle cx="586.2" cy="886.1" r="3.9"/><circle cx="599.0" cy="879.5" r="3.9"/><circle cx="596.0" cy="853.1" r="3.9"/><circle cx="600.5" cy="892.7" r="3.9"/><circle cx="597.7" cy="872.9" r="3.9"/><circle cx="586.8" cy="892.7" r="3.9"/><circle cx="607.7" cy="879.5" r="3.9"/><circle cx="589.8" cy="866.3" r="3.9"/><circle cx="591.4" cy="872.9" r="3.9"/><circle cx="591.1" cy="872.9" r="3.9"/><circle cx="592.2" cy="879.5" r="3.9"/><circle cx="592.2" cy="813.5" r="3.9"/><circle cx="597.8" cy="879.5" r="3.9"/><circle cx="608.0" cy="886.1" r="3.9"/><circle cx="605.7" cy="872.9" r="3.9"/><circle cx="592.0" cy="886.1" r="3.9"/><circle cx="587.7" cy="899.3" r="3.9"/><circle cx="582.9" cy="892.7" r="3.9"/><circle cx="600.1" cy="886.1" r="3.9"/><circle cx="582.2" cy="866.3" r="3.9"/><circle cx="608.3" cy="892.7" r="3.9"/><circle cx="589.8" cy="899.3" r="3.9"/><circle cx="601.1" cy="846.5" r="3.9"/><circle cx="600.9" cy="886.1" r="3.9"/><circle cx="603.7" cy="872.9" r="3.9"/><circle cx="598.2" cy="886.1" r="3.9"/><circle cx="588.3" cy="879.5" r="3.9"/><circle cx="583.3" cy="886.1" r="3.9"/><circle cx="592.2" cy="899.3" r="3.9"/><circle cx="598.3" cy="839.9" r="3.9"/><circle cx="605.4" cy="872.9" r="3.9"/><circle cx="595.2" cy="872.9" r="3.9"/><circle cx="590.1" cy="879.5" r="3.9"/><circle cx="600.3" cy="872.9" r="3.9"/><circle cx="609.5" cy="879.5" r="3.9"/><circle cx="608.1" cy="833.3" r="3.9"/><circle cx="607.2" cy="853.1" r="3.9"/><circle cx="581.6" cy="846.5" r="3.9"/><circle cx="589.1" cy="899.3" r="3.9"/><circle cx="600.1" cy="892.7" r="3.9"/><circle cx="587.6" cy="853.1" r="3.9"/><circle cx="588.5" cy="905.9" r="3.9"/><circle cx="601.6" cy="866.3" r="3.9"/><circle cx="605.6" cy="872.9" r="3.9"/><circle cx="593.5" cy="886.1" r="3.9"/><circle cx="593.7" cy="892.7" r="3.9"/><circle cx="602.1" cy="872.9" r="3.9"/><circle cx="593.6" cy="866.3" r="3.9"/><circle cx="596.7" cy="892.7" r="3.9"/><circle cx="609.3" cy="886.1" r="3.9"/><circle cx="590.8" cy="892.7" r="3.9"/><circle cx="609.6" cy="886.1" r="3.9"/><circle cx="593.7" cy="853.1" r="3.9"/><circle cx="592.6" cy="886.1" r="3.9"/><circle cx="602.0" cy="872.9" r="3.9"/><circle cx="594.8" cy="899.3" r="3.9"/><circle cx="607.8" cy="886.1" r="3.9"/><circle cx="594.4" cy="892.7" r="3.9"/><circle cx="607.9" cy="892.7" r="3.9"/><circle cx="582.2" cy="820.1" r="3.9"/><circle cx="602.9" cy="886.1" r="3.9"/><circle cx="582.1" cy="899.3" r="3.9"/><circle cx="603.9" cy="905.9" r="3.9"/><circle cx="589.1" cy="846.5" r="3.9"/><circle cx="600.5" cy="879.5" r="3.9"/><circle cx="602.7" cy="892.7" r="3.9"/><circle cx="607.5" cy="905.9" r="3.9"/><circle cx="604.0" cy="892.7" r="3.9"/><circle cx="582.4" cy="886.1" r="3.9"/><circle cx="599.2" cy="892.7" r="3.9"/><circle cx="602.1" cy="853.1" r="3.9"/><circle cx="609.3" cy="905.9" r="3.9"/><circle cx="597.7" cy="879.5" r="3.9"/><circle cx="596.2" cy="853.1" r="3.9"/><circle cx="592.5" cy="886.1" r="3.9"/><circle cx="581.9" cy="899.3" r="3.9"/><circle cx="584.0" cy="879.5" r="3.9"/><circle cx="602.1" cy="872.9" r="3.9"/><circle cx="584.8" cy="866.3" r="3.9"/><circle cx="584.1" cy="872.9" r="3.9"/><circle cx="607.6" cy="866.3" r="3.9"/><circle cx="605.4" cy="886.1" r="3.9"/><circle cx="607.7" cy="872.9" r="3.9"/><circle cx="587.9" cy="886.1" r="3.9"/><circle cx="597.1" cy="892.7" r="3.9"/><circle cx="589.2" cy="859.7" r="3.9"/><circle cx="585.8" cy="879.5" r="3.9"/><circle cx="599.8" cy="886.1" r="3.9"/><circle cx="609.0" cy="872.9" r="3.9"/><circle cx="600.2" cy="879.5" r="3.9"/><circle cx="592.8" cy="892.7" r="3.9"/><circle cx="608.0" cy="886.1" r="3.9"/><circle cx="587.6" cy="899.3" r="3.9"/><circle cx="597.5" cy="892.7" r="3.9"/><circle cx="586.1" cy="872.9" r="3.9"/><circle cx="603.9" cy="886.1" r="3.9"/><circle cx="590.9" cy="886.1" r="3.9"/><circle cx="583.5" cy="886.1" r="3.9"/><circle cx="590.4" cy="879.5" r="3.9"/><circle cx="606.9" cy="872.9" r="3.9"/><circle cx="593.2" cy="899.3" r="3.9"/><circle cx="599.6" cy="899.3" r="3.9"/><circle cx="586.9" cy="886.1" r="3.9"/><circle cx="584.5" cy="846.5" r="3.9"/><circle cx="587.2" cy="892.7" r="3.9"/><circle cx="593.8" cy="899.3" r="3.9"/><circle cx="600.6" cy="892.7" r="3.9"/><circle cx="594.6" cy="892.7" r="3.9"/><circle cx="603.1" cy="892.7" r="3.9"/><circle cx="607.7" cy="833.3" r="3.9"/><circle cx="593.7" cy="886.1" r="3.9"/><circle cx="605.6" cy="879.5" r="3.9"/><circle cx="609.3" cy="899.3" r="3.9"/><circle cx="600.5" cy="879.5" r="3.9"/><circle cx="608.8" cy="899.3" r="3.9"/><circle cx="586.9" cy="879.5" r="3.9"/><circle cx="603.6" cy="892.7" r="3.9"/><circle cx="605.8" cy="879.5" r="3.9"/><circle cx="607.4" cy="892.7" r="3.9"/><circle cx="590.8" cy="899.3" r="3.9"/><circle cx="598.4" cy="859.7" r="3.9"/><circle cx="598.9" cy="859.7" r="3.9"/><circle cx="589.2" cy="879.5" r="3.9"/><circle cx="608.3" cy="899.3" r="3.9"/><circle cx="596.7" cy="872.9" r="3.9"/><circle cx="607.9" cy="879.5" r="3.9"/><circle cx="582.5" cy="872.9" r="3.9"/><circle cx="590.3" cy="872.9" r="3.9"/><circle cx="593.6" cy="872.9" r="3.9"/><circle cx="595.7" cy="886.1" r="3.9"/><circle cx="602.5" cy="872.9" r="3.9"/><circle cx="607.4" cy="879.5" r="3.9"/><circle cx="591.1" cy="872.9" r="3.9"/><circle cx="606.3" cy="886.1" r="3.9"/><circle cx="586.5" cy="866.3" r="3.9"/><circle cx="603.6" cy="846.5" r="3.9"/><circle cx="603.2" cy="866.3" r="3.9"/><circle cx="603.1" cy="899.3" r="3.9"/><circle cx="601.9" cy="859.7" r="3.9"/><circle cx="583.5" cy="886.1" r="3.9"/><circle cx="603.0" cy="892.7" r="3.9"/><circle cx="601.4" cy="879.5" r="3.9"/><circle cx="596.3" cy="866.3" r="3.9"/><circle cx="585.8" cy="892.7" r="3.9"/><circle cx="606.1" cy="886.1" r="3.9"/><circle cx="589.4" cy="892.7" r="3.9"/><circle cx="603.4" cy="839.9" r="3.9"/><circle cx="592.6" cy="879.5" r="3.9"/><circle cx="601.4" cy="892.7" r="3.9"/><circle cx="590.5" cy="872.9" r="3.9"/><circle cx="586.9" cy="899.3" r="3.9"/><circle cx="586.6" cy="853.1" r="3.9"/><circle cx="603.0" cy="886.1" r="3.9"/><circle cx="604.0" cy="859.7" r="3.9"/><circle cx="605.4" cy="899.3" r="3.9"/><circle cx="607.2" cy="879.5" r="3.9"/><circle cx="582.3" cy="879.5" r="3.9"/><circle cx="583.2" cy="879.5" r="3.9"/><circle cx="581.9" cy="879.5" r="3.9"/><circle cx="607.0" cy="905.9" r="3.9"/><circle cx="605.7" cy="853.1" r="3.9"/><circle cx="598.4" cy="872.9" r="3.9"/><circle cx="604.6" cy="886.1" r="3.9"/><circle cx="595.0" cy="833.3" r="3.9"/><circle cx="606.5" cy="872.9" r="3.9"/><circle cx="584.5" cy="886.1" r="3.9"/><circle cx="597.0" cy="833.3" r="3.9"/><circle cx="586.4" cy="892.7" r="3.9"/><circle cx="590.1" cy="879.5" r="3.9"/><circle cx="593.3" cy="886.1" r="3.9"/><circle cx="606.8" cy="886.1" r="3.9"/><circle cx="586.3" cy="886.1" r="3.9"/><circle cx="609.7" cy="872.9" r="3.9"/><circle cx="587.3" cy="859.7" r="3.9"/><circle cx="606.2" cy="899.3" r="3.9"/><circle cx="584.1" cy="886.1" r="3.9"/><circle cx="602.6" cy="905.9" r="3.9"/><circle cx="586.6" cy="899.3" r="3.9"/><circle cx="585.1" cy="886.1" r="3.9"/><circle cx="599.3" cy="879.5" r="3.9"/><circle cx="587.8" cy="859.7" r="3.9"/><circle cx="588.4" cy="872.9" r="3.9"/><circle cx="592.0" cy="892.7" r="3.9"/><circle cx="607.6" cy="846.5" r="3.9"/><circle cx="584.8" cy="866.3" r="3.9"/><circle cx="597.4" cy="866.3" r="3.9"/><circle cx="603.3" cy="866.3" r="3.9"/><circle cx="601.0" cy="866.3" r="3.9"/><circle cx="587.9" cy="879.5" r="3.9"/><circle cx="605.8" cy="886.1" r="3.9"/><circle cx="592.2" cy="833.3" r="3.9"/><circle cx="604.8" cy="853.1" r="3.9"/><circle cx="588.7" cy="872.9" r="3.9"/><circle cx="591.3" cy="826.7" r="3.9"/><circle cx="602.1" cy="859.7" r="3.9"/><circle cx="593.8" cy="714.6" r="3.9"/><circle cx="593.9" cy="886.1" r="3.9"/><circle cx="583.3" cy="899.3" r="3.9"/><circle cx="606.5" cy="905.9" r="3.9"/><circle cx="584.3" cy="886.1" r="3.9"/><circle cx="596.5" cy="892.7" r="3.9"/><circle cx="609.0" cy="892.7" r="3.9"/><circle cx="600.4" cy="853.1" r="3.9"/><circle cx="590.1" cy="886.1" r="3.9"/><circle cx="590.4" cy="813.5" r="3.9"/><circle cx="597.7" cy="872.9" r="3.9"/><circle cx="609.4" cy="866.3" r="3.9"/><circle cx="608.5" cy="886.1" r="3.9"/><circle cx="604.3" cy="866.3" r="3.9"/><circle cx="587.9" cy="905.9" r="3.9"/><circle cx="601.1" cy="892.7" r="3.9"/><circle cx="608.9" cy="905.9" r="3.9"/><circle cx="597.0" cy="899.3" r="3.9"/><circle cx="591.6" cy="866.3" r="3.9"/><circle cx="610.0" cy="839.9" r="3.9"/><circle cx="595.7" cy="853.1" r="3.9"/><circle cx="585.6" cy="872.9" r="3.9"/><circle cx="596.8" cy="892.7" r="3.9"/><circle cx="587.5" cy="853.1" r="3.9"/><circle cx="602.3" cy="886.1" r="3.9"/><circle cx="595.8" cy="866.3" r="3.9"/><circle cx="589.9" cy="879.5" r="3.9"/><circle cx="581.5" cy="853.1" r="3.9"/><circle cx="597.2" cy="846.5" r="3.9"/><circle cx="584.4" cy="879.5" r="3.9"/><circle cx="591.9" cy="892.7" r="3.9"/><circle cx="596.8" cy="846.5" r="3.9"/><circle cx="589.1" cy="892.7" r="3.9"/><circle cx="596.3" cy="886.1" r="3.9"/><circle cx="587.7" cy="859.7" r="3.9"/><circle cx="595.9" cy="892.7" r="3.9"/><circle cx="596.9" cy="899.3" r="3.9"/><circle cx="605.4" cy="813.5" r="3.9"/><circle cx="599.7" cy="879.5" r="3.9"/><circle cx="598.8" cy="879.5" r="3.9"/><circle cx="582.0" cy="879.5" r="3.9"/><circle cx="602.1" cy="899.3" r="3.9"/><circle cx="599.9" cy="872.9" r="3.9"/><circle cx="587.4" cy="879.5" r="3.9"/><circle cx="597.2" cy="839.9" r="3.9"/><circle cx="583.7" cy="886.1" r="3.9"/><circle cx="588.6" cy="892.7" r="3.9"/><circle cx="592.6" cy="879.5" r="3.9"/><circle cx="586.6" cy="905.9" r="3.9"/><circle cx="590.5" cy="899.3" r="3.9"/><circle cx="607.4" cy="892.7" r="3.9"/><circle cx="606.5" cy="899.3" r="3.9"/><circle cx="584.4" cy="892.7" r="3.9"/><circle cx="599.6" cy="892.7" r="3.9"/><circle cx="598.5" cy="879.5" r="3.9"/><circle cx="582.1" cy="879.5" r="3.9"/><circle cx="583.0" cy="886.1" r="3.9"/><circle cx="583.1" cy="859.7" r="3.9"/><circle cx="595.1" cy="899.3" r="3.9"/><circle cx="598.9" cy="886.1" r="3.9"/><circle cx="583.2" cy="892.7" r="3.9"/><circle cx="594.2" cy="859.7" r="3.9"/><circle cx="596.5" cy="866.3" r="3.9"/><circle cx="599.4" cy="879.5" r="3.9"/><circle cx="597.5" cy="866.3" r="3.9"/><circle cx="602.3" cy="859.7" r="3.9"/><circle cx="593.1" cy="826.7" r="3.9"/><circle cx="596.6" cy="859.7" r="3.9"/><circle cx="603.5" cy="879.5" r="3.9"/><circle cx="605.5" cy="866.3" r="3.9"/><circle cx="589.8" cy="892.7" r="3.9"/><circle cx="595.0" cy="872.9" r="3.9"/><circle cx="586.5" cy="872.9" r="3.9"/><circle cx="607.3" cy="886.1" r="3.9"/><circle cx="608.6" cy="866.3" r="3.9"/><circle cx="596.9" cy="859.7" r="3.9"/><circle cx="601.6" cy="859.7" r="3.9"/><circle cx="602.4" cy="899.3" r="3.9"/><circle cx="594.6" cy="886.1" r="3.9"/><circle cx="598.1" cy="905.9" r="3.9"/><circle cx="583.4" cy="872.9" r="3.9"/><circle cx="596.4" cy="905.9" r="3.9"/><circle cx="604.8" cy="859.7" r="3.9"/><circle cx="609.3" cy="859.7" r="3.9"/><circle cx="587.1" cy="892.7" r="3.9"/><circle cx="596.4" cy="892.7" r="3.9"/><circle cx="583.5" cy="866.3" r="3.9"/><circle cx="601.4" cy="853.1" r="3.9"/><circle cx="602.6" cy="853.1" r="3.9"/><circle cx="585.3" cy="899.3" r="3.9"/><circle cx="604.4" cy="859.7" r="3.9"/><circle cx="583.5" cy="879.5" r="3.9"/><circle cx="602.4" cy="859.7" r="3.9"/><circle cx="596.0" cy="866.3" r="3.9"/><circle cx="609.2" cy="899.3" r="3.9"/><circle cx="601.8" cy="853.1" r="3.9"/><circle cx="603.1" cy="846.5" r="3.9"/><circle cx="595.2" cy="899.3" r="3.9"/><circle cx="608.4" cy="886.1" r="3.9"/><circle cx="593.6" cy="892.7" r="3.9"/><circle cx="595.1" cy="886.1" r="3.9"/><circle cx="605.5" cy="879.5" r="3.9"/><circle cx="587.9" cy="892.7" r="3.9"/><circle cx="589.6" cy="866.3" r="3.9"/><circle cx="589.4" cy="866.3" r="3.9"/><circle cx="591.6" cy="886.1" r="3.9"/><circle cx="593.1" cy="899.3" r="3.9"/><circle cx="608.7" cy="879.5" r="3.9"/><circle cx="589.7" cy="899.3" r="3.9"/><circle cx="593.1" cy="892.7" r="3.9"/><circle cx="585.8" cy="879.5" r="3.9"/><circle cx="609.0" cy="905.9" r="3.9"/><circle cx="583.8" cy="905.9" r="3.9"/><circle cx="588.0" cy="905.9" r="3.9"/><circle cx="593.0" cy="886.1" r="3.9"/><circle cx="583.8" cy="866.3" r="3.9"/><circle cx="600.3" cy="879.5" r="3.9"/><circle cx="583.1" cy="879.5" r="3.9"/><circle cx="593.4" cy="886.1" r="3.9"/><circle cx="597.7" cy="886.1" r="3.9"/><circle cx="603.3" cy="866.3" r="3.9"/><circle cx="582.8" cy="872.9" r="3.9"/><circle cx="599.6" cy="899.3" r="3.9"/><circle cx="582.7" cy="892.7" r="3.9"/><circle cx="604.9" cy="866.3" r="3.9"/><circle cx="610.0" cy="892.7" r="3.9"/><circle cx="591.0" cy="859.7" r="3.9"/><circle cx="605.6" cy="899.3" r="3.9"/><circle cx="601.1" cy="905.9" r="3.9"/><circle cx="584.8" cy="839.9" r="3.9"/><circle cx="585.4" cy="866.3" r="3.9"/><circle cx="586.7" cy="872.9" r="3.9"/><circle cx="604.6" cy="872.9" r="3.9"/><circle cx="594.4" cy="886.1" r="3.9"/><circle cx="598.8" cy="886.1" r="3.9"/><circle cx="603.4" cy="879.5" r="3.9"/><circle cx="607.8" cy="853.1" r="3.9"/><circle cx="587.5" cy="879.5" r="3.9"/><circle cx="584.5" cy="886.1" r="3.9"/><circle cx="589.0" cy="886.1" r="3.9"/><circle cx="582.8" cy="886.1" r="3.9"/><circle cx="593.7" cy="866.3" r="3.9"/><circle cx="586.3" cy="899.3" r="3.9"/><circle cx="593.9" cy="892.7" r="3.9"/><circle cx="603.4" cy="879.5" r="3.9"/><circle cx="596.8" cy="899.3" r="3.9"/><circle cx="597.0" cy="886.1" r="3.9"/><circle cx="599.1" cy="853.1" r="3.9"/><circle cx="602.8" cy="879.5" r="3.9"/><circle cx="583.6" cy="833.3" r="3.9"/><circle cx="600.9" cy="846.5" r="3.9"/><circle cx="584.7" cy="892.7" r="3.9"/><circle cx="595.3" cy="853.1" r="3.9"/><circle cx="606.1" cy="879.5" r="3.9"/><circle cx="583.8" cy="892.7" r="3.9"/><circle cx="595.2" cy="892.7" r="3.9"/><circle cx="601.0" cy="866.3" r="3.9"/><circle cx="588.4" cy="866.3" r="3.9"/><circle cx="595.3" cy="866.3" r="3.9"/><circle cx="598.1" cy="879.5" r="3.9"/><circle cx="583.5" cy="866.3" r="3.9"/><circle cx="585.6" cy="859.7" r="3.9"/><circle cx="592.6" cy="853.1" r="3.9"/><circle cx="603.0" cy="892.7" r="3.9"/><circle cx="603.5" cy="886.1" r="3.9"/><circle cx="608.6" cy="872.9" r="3.9"/><circle cx="588.5" cy="892.7" r="3.9"/><circle cx="609.7" cy="905.9" r="3.9"/><circle cx="601.6" cy="886.1" r="3.9"/><circle cx="586.2" cy="879.5" r="3.9"/><circle cx="590.6" cy="886.1" r="3.9"/><circle cx="607.5" cy="859.7" r="3.9"/><circle cx="586.1" cy="859.7" r="3.9"/><circle cx="603.0" cy="872.9" r="3.9"/><circle cx="590.5" cy="905.9" r="3.9"/><circle cx="608.6" cy="886.1" r="3.9"/><circle cx="598.3" cy="899.3" r="3.9"/><circle cx="603.1" cy="879.5" r="3.9"/><circle cx="599.7" cy="872.9" r="3.9"/><circle cx="607.5" cy="859.7" r="3.9"/><circle cx="604.0" cy="905.9" r="3.9"/><circle cx="588.9" cy="905.9" r="3.9"/><circle cx="582.0" cy="886.1" r="3.9"/><circle cx="597.8" cy="589.2" r="3.9"/><circle cx="595.7" cy="905.9" r="3.9"/><circle cx="588.4" cy="866.3" r="3.9"/><circle cx="589.5" cy="866.3" r="3.9"/><circle cx="593.7" cy="886.1" r="3.9"/><circle cx="594.1" cy="899.3" r="3.9"/><circle cx="606.4" cy="866.3" r="3.9"/><circle cx="590.5" cy="879.5" r="3.9"/><circle cx="606.9" cy="886.1" r="3.9"/><circle cx="592.9" cy="859.7" r="3.9"/><circle cx="590.4" cy="886.1" r="3.9"/><circle cx="595.7" cy="899.3" r="3.9"/><circle cx="583.6" cy="892.7" r="3.9"/><circle cx="604.3" cy="905.9" r="3.9"/><circle cx="597.9" cy="839.9" r="3.9"/><circle cx="589.8" cy="853.1" r="3.9"/><circle cx="608.6" cy="886.1" r="3.9"/><circle cx="604.4" cy="853.1" r="3.9"/><circle cx="586.1" cy="892.7" r="3.9"/><circle cx="600.5" cy="905.9" r="3.9"/><circle cx="583.8" cy="892.7" r="3.9"/><circle cx="600.8" cy="826.7" r="3.9"/><circle cx="590.3" cy="899.3" r="3.9"/><circle cx="581.7" cy="853.1" r="3.9"/><circle cx="588.7" cy="859.7" r="3.9"/><circle cx="604.6" cy="859.7" r="3.9"/><circle cx="589.6" cy="872.9" r="3.9"/><circle cx="591.9" cy="886.1" r="3.9"/><circle cx="604.2" cy="899.3" r="3.9"/><circle cx="583.2" cy="872.9" r="3.9"/><circle cx="609.4" cy="859.7" r="3.9"/><circle cx="596.6" cy="886.1" r="3.9"/><circle cx="595.3" cy="859.7" r="3.9"/><circle cx="583.9" cy="905.9" r="3.9"/><circle cx="584.6" cy="846.5" r="3.9"/><circle cx="601.5" cy="859.7" r="3.9"/><circle cx="584.3" cy="866.3" r="3.9"/><circle cx="597.1" cy="892.7" r="3.9"/><circle cx="604.5" cy="886.1" r="3.9"/><circle cx="608.6" cy="879.5" r="3.9"/><circle cx="597.2" cy="899.3" r="3.9"/><circle cx="602.4" cy="892.7" r="3.9"/><circle cx="590.8" cy="905.9" r="3.9"/><circle cx="606.3" cy="879.5" r="3.9"/><circle cx="608.7" cy="899.3" r="3.9"/><circle cx="599.5" cy="839.9" r="3.9"/><circle cx="591.4" cy="892.7" r="3.9"/><circle cx="589.9" cy="905.9" r="3.9"/><circle cx="590.4" cy="839.9" r="3.9"/><circle cx="603.3" cy="866.3" r="3.9"/><circle cx="607.6" cy="872.9" r="3.9"/><circle cx="585.9" cy="899.3" r="3.9"/><circle cx="603.3" cy="886.1" r="3.9"/><circle cx="584.3" cy="879.5" r="3.9"/><circle cx="602.9" cy="879.5" r="3.9"/><circle cx="582.5" cy="892.7" r="3.9"/><circle cx="584.8" cy="886.1" r="3.9"/><circle cx="590.9" cy="872.9" r="3.9"/><circle cx="584.8" cy="879.5" r="3.9"/><circle cx="588.1" cy="879.5" r="3.9"/><circle cx="590.6" cy="892.7" r="3.9"/><circle cx="603.9" cy="866.3" r="3.9"/><circle cx="608.3" cy="866.3" r="3.9"/><circle cx="584.6" cy="872.9" r="3.9"/><circle cx="605.3" cy="866.3" r="3.9"/><circle cx="591.1" cy="879.5" r="3.9"/><circle cx="591.1" cy="905.9" r="3.9"/><circle cx="590.6" cy="879.5" r="3.9"/><circle cx="585.5" cy="886.1" r="3.9"/><circle cx="607.4" cy="859.7" r="3.9"/><circle cx="601.5" cy="892.7" r="3.9"/><circle cx="594.3" cy="853.1" r="3.9"/><circle cx="597.6" cy="879.5" r="3.9"/><circle cx="597.5" cy="859.7" r="3.9"/><circle cx="585.2" cy="892.7" r="3.9"/><circle cx="590.6" cy="879.5" r="3.9"/><circle cx="608.9" cy="879.5" r="3.9"/><circle cx="588.0" cy="905.9" r="3.9"/><circle cx="582.6" cy="905.9" r="3.9"/><circle cx="584.1" cy="839.9" r="3.9"/><circle cx="594.3" cy="892.7" r="3.9"/><circle cx="602.2" cy="892.7" r="3.9"/><circle cx="588.1" cy="872.9" r="3.9"/><circle cx="585.5" cy="892.7" r="3.9"/><circle cx="594.9" cy="899.3" r="3.9"/><circle cx="604.7" cy="886.1" r="3.9"/><circle cx="583.7" cy="899.3" r="3.9"/><circle cx="599.3" cy="899.3" r="3.9"/><circle cx="587.6" cy="853.1" r="3.9"/><circle cx="597.8" cy="872.9" r="3.9"/><circle cx="609.1" cy="886.1" r="3.9"/><circle cx="582.2" cy="879.5" r="3.9"/><circle cx="587.4" cy="892.7" r="3.9"/><circle cx="591.6" cy="899.3" r="3.9"/><circle cx="604.9" cy="892.7" r="3.9"/><circle cx="589.1" cy="879.5" r="3.9"/><circle cx="608.0" cy="872.9" r="3.9"/><circle cx="581.9" cy="892.7" r="3.9"/><circle cx="604.5" cy="879.5" r="3.9"/><circle cx="602.5" cy="886.1" r="3.9"/><circle cx="595.0" cy="734.4" r="3.9"/><circle cx="585.8" cy="872.9" r="3.9"/><circle cx="591.7" cy="892.7" r="3.9"/><circle cx="586.7" cy="853.1" r="3.9"/><circle cx="601.2" cy="879.5" r="3.9"/><circle cx="603.3" cy="859.7" r="3.9"/><circle cx="604.8" cy="872.9" r="3.9"/><circle cx="605.7" cy="866.3" r="3.9"/><circle cx="589.6" cy="899.3" r="3.9"/><circle cx="604.9" cy="866.3" r="3.9"/><circle cx="598.5" cy="859.7" r="3.9"/><circle cx="598.9" cy="859.7" r="3.9"/><circle cx="598.0" cy="892.7" r="3.9"/><circle cx="591.9" cy="747.6" r="3.9"/><circle cx="590.3" cy="853.1" r="3.9"/><circle cx="588.1" cy="872.9" r="3.9"/><circle cx="606.2" cy="866.3" r="3.9"/><circle cx="604.8" cy="872.9" r="3.9"/><circle cx="609.1" cy="866.3" r="3.9"/><circle cx="597.9" cy="886.1" r="3.9"/><circle cx="590.3" cy="892.7" r="3.9"/><circle cx="588.1" cy="859.7" r="3.9"/><circle cx="607.7" cy="899.3" r="3.9"/><circle cx="595.5" cy="859.7" r="3.9"/><circle cx="600.6" cy="872.9" r="3.9"/><circle cx="592.4" cy="886.1" r="3.9"/><circle cx="601.3" cy="846.5" r="3.9"/><circle cx="591.2" cy="859.7" r="3.9"/><circle cx="587.2" cy="886.1" r="3.9"/><circle cx="585.3" cy="457.3" r="3.9"/><circle cx="589.2" cy="892.7" r="3.9"/><circle cx="587.4" cy="879.5" r="3.9"/><circle cx="606.3" cy="826.7" r="3.9"/><circle cx="608.4" cy="886.1" r="3.9"/><circle cx="605.3" cy="886.1" r="3.9"/><circle cx="594.2" cy="853.1" r="3.9"/><circle cx="593.1" cy="879.5" r="3.9"/><circle cx="589.7" cy="905.9" r="3.9"/><circle cx="603.9" cy="872.9" r="3.9"/><circle cx="596.4" cy="872.9" r="3.9"/><circle cx="607.4" cy="892.7" r="3.9"/><circle cx="591.3" cy="879.5" r="3.9"/><circle cx="586.4" cy="886.1" r="3.9"/><circle cx="594.8" cy="905.9" r="3.9"/><circle cx="583.4" cy="892.7" r="3.9"/><circle cx="586.2" cy="899.3" r="3.9"/><circle cx="595.4" cy="872.9" r="3.9"/><circle cx="609.9" cy="872.9" r="3.9"/><circle cx="597.2" cy="866.3" r="3.9"/><circle cx="585.5" cy="879.5" r="3.9"/><circle cx="603.7" cy="886.1" r="3.9"/><circle cx="605.9" cy="872.9" r="3.9"/><circle cx="592.0" cy="846.5" r="3.9"/><circle cx="585.0" cy="905.9" r="3.9"/><circle cx="589.8" cy="866.3" r="3.9"/><circle cx="607.4" cy="899.3" r="3.9"/><circle cx="589.1" cy="872.9" r="3.9"/><circle cx="607.4" cy="892.7" r="3.9"/><circle cx="600.3" cy="846.5" r="3.9"/><circle cx="585.7" cy="899.3" r="3.9"/><circle cx="590.9" cy="892.7" r="3.9"/><circle cx="608.0" cy="892.7" r="3.9"/><circle cx="599.0" cy="879.5" r="3.9"/><circle cx="607.4" cy="899.3" r="3.9"/><circle cx="604.2" cy="879.5" r="3.9"/><circle cx="591.6" cy="879.5" r="3.9"/><circle cx="585.3" cy="859.7" r="3.9"/><circle cx="582.5" cy="846.5" r="3.9"/><circle cx="584.4" cy="886.1" r="3.9"/><circle cx="607.8" cy="872.9" r="3.9"/><circle cx="586.6" cy="879.5" r="3.9"/><circle cx="609.8" cy="886.1" r="3.9"/><circle cx="597.2" cy="872.9" r="3.9"/><circle cx="595.7" cy="853.1" r="3.9"/><circle cx="585.6" cy="839.9" r="3.9"/><circle cx="591.1" cy="905.9" r="3.9"/><circle cx="587.4" cy="892.7" r="3.9"/><circle cx="599.8" cy="859.7" r="3.9"/><circle cx="593.6" cy="846.5" r="3.9"/><circle cx="583.4" cy="872.9" r="3.9"/><circle cx="589.3" cy="886.1" r="3.9"/><circle cx="586.3" cy="879.5" r="3.9"/><circle cx="601.6" cy="892.7" r="3.9"/><circle cx="589.4" cy="648.6" r="3.9"/><circle cx="597.6" cy="866.3" r="3.9"/><circle cx="587.0" cy="839.9" r="3.9"/><circle cx="592.0" cy="892.7" r="3.9"/><circle cx="591.2" cy="866.3" r="3.9"/><circle cx="594.0" cy="820.1" r="3.9"/><circle cx="590.6" cy="892.7" r="3.9"/><circle cx="591.1" cy="853.1" r="3.9"/><circle cx="594.3" cy="879.5" r="3.9"/><circle cx="598.5" cy="892.7" r="3.9"/><circle cx="589.2" cy="892.7" r="3.9"/><circle cx="588.8" cy="866.3" r="3.9"/><circle cx="603.9" cy="872.9" r="3.9"/><circle cx="591.2" cy="879.5" r="3.9"/><circle cx="594.9" cy="866.3" r="3.9"/><circle cx="589.0" cy="905.9" r="3.9"/><circle cx="588.6" cy="879.5" r="3.9"/><circle cx="594.9" cy="866.3" r="3.9"/><circle cx="592.4" cy="853.1" r="3.9"/><circle cx="605.4" cy="899.3" r="3.9"/><circle cx="591.4" cy="886.1" r="3.9"/><circle cx="583.2" cy="892.7" r="3.9"/><circle cx="594.0" cy="886.1" r="3.9"/><circle cx="599.9" cy="866.3" r="3.9"/><circle cx="590.3" cy="899.3" r="3.9"/><circle cx="606.9" cy="899.3" r="3.9"/><circle cx="587.1" cy="899.3" r="3.9"/><circle cx="584.0" cy="899.3" r="3.9"/><circle cx="584.5" cy="866.3" r="3.9"/><circle cx="588.5" cy="886.1" r="3.9"/><circle cx="602.3" cy="892.7" r="3.9"/><circle cx="607.9" cy="859.7" r="3.9"/><circle cx="592.8" cy="872.9" r="3.9"/><circle cx="609.4" cy="846.5" r="3.9"/><circle cx="583.3" cy="899.3" r="3.9"/><circle cx="592.5" cy="859.7" r="3.9"/><circle cx="601.8" cy="879.5" r="3.9"/><circle cx="599.6" cy="886.1" r="3.9"/><circle cx="582.1" cy="872.9" r="3.9"/><circle cx="587.3" cy="892.7" r="3.9"/><circle cx="587.5" cy="866.3" r="3.9"/><circle cx="581.5" cy="892.7" r="3.9"/><circle cx="581.7" cy="866.3" r="3.9"/><circle cx="581.4" cy="905.9" r="3.9"/><circle cx="593.5" cy="846.5" r="3.9"/><circle cx="590.3" cy="892.7" r="3.9"/><circle cx="596.2" cy="872.9" r="3.9"/><circle cx="592.0" cy="701.4" r="3.9"/><circle cx="595.2" cy="853.1" r="3.9"/><circle cx="583.0" cy="899.3" r="3.9"/><circle cx="586.7" cy="872.9" r="3.9"/><circle cx="584.6" cy="886.1" r="3.9"/><circle cx="603.5" cy="859.7" r="3.9"/><circle cx="590.5" cy="859.7" r="3.9"/><circle cx="587.0" cy="879.5" r="3.9"/><circle cx="607.9" cy="866.3" r="3.9"/><circle cx="594.6" cy="879.5" r="3.9"/><circle cx="605.9" cy="886.1" r="3.9"/><circle cx="582.3" cy="899.3" r="3.9"/><circle cx="599.7" cy="853.1" r="3.9"/><circle cx="605.2" cy="859.7" r="3.9"/><circle cx="603.7" cy="899.3" r="3.9"/><circle cx="592.5" cy="892.7" r="3.9"/><circle cx="584.8" cy="879.5" r="3.9"/><circle cx="580.9" cy="826.7" r="3.9"/><circle cx="605.4" cy="866.3" r="3.9"/><circle cx="605.1" cy="892.7" r="3.9"/><circle cx="588.2" cy="886.1" r="3.9"/><circle cx="603.9" cy="886.1" r="3.9"/><circle cx="586.3" cy="853.1" r="3.9"/><circle cx="588.6" cy="866.3" r="3.9"/><circle cx="591.7" cy="886.1" r="3.9"/><circle cx="597.6" cy="892.7" r="3.9"/><circle cx="597.9" cy="899.3" r="3.9"/><circle cx="583.7" cy="872.9" r="3.9"/><circle cx="583.6" cy="846.5" r="3.9"/><circle cx="605.6" cy="886.1" r="3.9"/><circle cx="600.8" cy="872.9" r="3.9"/><circle cx="595.5" cy="886.1" r="3.9"/><circle cx="600.5" cy="872.9" r="3.9"/><circle cx="600.7" cy="879.5" r="3.9"/><circle cx="590.1" cy="899.3" r="3.9"/><circle cx="584.0" cy="879.5" r="3.9"/><circle cx="592.2" cy="859.7" r="3.9"/><circle cx="590.3" cy="892.7" r="3.9"/><circle cx="588.4" cy="886.1" r="3.9"/><circle cx="591.4" cy="892.7" r="3.9"/><circle cx="601.7" cy="899.3" r="3.9"/><circle cx="583.5" cy="879.5" r="3.9"/><circle cx="585.9" cy="892.7" r="3.9"/><circle cx="591.8" cy="886.1" r="3.9"/><circle cx="602.8" cy="872.9" r="3.9"/><circle cx="589.8" cy="839.9" r="3.9"/><circle cx="596.2" cy="899.3" r="3.9"/><circle cx="587.3" cy="892.7" r="3.9"/><circle cx="586.7" cy="899.3" r="3.9"/><circle cx="606.4" cy="886.1" r="3.9"/><circle cx="588.9" cy="872.9" r="3.9"/><circle cx="598.3" cy="866.3" r="3.9"/><circle cx="587.3" cy="886.1" r="3.9"/><circle cx="608.1" cy="879.5" r="3.9"/><circle cx="589.4" cy="879.5" r="3.9"/><circle cx="601.8" cy="886.1" r="3.9"/><circle cx="609.8" cy="886.1" r="3.9"/><circle cx="592.1" cy="872.9" r="3.9"/><circle cx="606.6" cy="879.5" r="3.9"/><circle cx="603.6" cy="879.5" r="3.9"/><circle cx="600.2" cy="886.1" r="3.9"/><circle cx="583.5" cy="859.7" r="3.9"/><circle cx="601.8" cy="866.3" r="3.9"/><circle cx="588.9" cy="899.3" r="3.9"/><circle cx="584.4" cy="886.1" r="3.9"/><circle cx="591.3" cy="886.1" r="3.9"/><circle cx="582.8" cy="846.5" r="3.9"/><circle cx="608.0" cy="892.7" r="3.9"/><circle cx="598.5" cy="892.7" r="3.9"/><circle cx="596.7" cy="892.7" r="3.9"/><circle cx="602.9" cy="866.3" r="3.9"/><circle cx="608.0" cy="886.1" r="3.9"/><circle cx="595.4" cy="899.3" r="3.9"/><circle cx="598.5" cy="886.1" r="3.9"/><circle cx="584.3" cy="892.7" r="3.9"/><circle cx="607.6" cy="853.1" r="3.9"/><circle cx="598.9" cy="866.3" r="3.9"/><circle cx="600.2" cy="866.3" r="3.9"/><circle cx="599.3" cy="886.1" r="3.9"/><circle cx="594.2" cy="899.3" r="3.9"/><circle cx="585.2" cy="853.1" r="3.9"/><circle cx="587.2" cy="859.7" r="3.9"/><circle cx="599.4" cy="886.1" r="3.9"/><circle cx="609.6" cy="879.5" r="3.9"/><circle cx="609.7" cy="899.3" r="3.9"/><circle cx="600.9" cy="859.7" r="3.9"/><circle cx="598.5" cy="886.1" r="3.9"/><circle cx="603.1" cy="872.9" r="3.9"/><circle cx="600.5" cy="859.7" r="3.9"/><circle cx="586.2" cy="892.7" r="3.9"/><circle cx="603.3" cy="899.3" r="3.9"/><circle cx="607.5" cy="872.9" r="3.9"/><circle cx="587.5" cy="892.7" r="3.9"/><circle cx="596.4" cy="859.7" r="3.9"/><circle cx="585.1" cy="899.3" r="3.9"/><circle cx="588.2" cy="866.3" r="3.9"/><circle cx="606.4" cy="727.8" r="3.9"/><circle cx="598.2" cy="872.9" r="3.9"/><circle cx="586.2" cy="886.1" r="3.9"/><circle cx="591.2" cy="886.1" r="3.9"/><circle cx="587.4" cy="899.3" r="3.9"/><circle cx="605.1" cy="846.5" r="3.9"/><circle cx="597.7" cy="899.3" r="3.9"/><circle cx="586.3" cy="879.5" r="3.9"/><circle cx="593.5" cy="866.3" r="3.9"/><circle cx="603.4" cy="859.7" r="3.9"/><circle cx="595.9" cy="899.3" r="3.9"/><circle cx="592.9" cy="879.5" r="3.9"/><circle cx="587.0" cy="886.1" r="3.9"/><circle cx="592.4" cy="899.3" r="3.9"/><circle cx="608.5" cy="892.7" r="3.9"/><circle cx="605.2" cy="892.7" r="3.9"/><circle cx="593.0" cy="853.1" r="3.9"/><circle cx="582.5" cy="905.9" r="3.9"/><circle cx="605.4" cy="872.9" r="3.9"/><circle cx="605.9" cy="866.3" r="3.9"/><circle cx="594.9" cy="826.7" r="3.9"/><circle cx="603.1" cy="879.5" r="3.9"/><circle cx="595.3" cy="892.7" r="3.9"/><circle cx="600.8" cy="886.1" r="3.9"/><circle cx="603.1" cy="886.1" r="3.9"/><circle cx="602.8" cy="872.9" r="3.9"/><circle cx="597.0" cy="879.5" r="3.9"/><circle cx="606.5" cy="879.5" r="3.9"/><circle cx="583.8" cy="879.5" r="3.9"/><circle cx="595.2" cy="892.7" r="3.9"/><circle cx="584.2" cy="866.3" r="3.9"/><circle cx="601.5" cy="886.1" r="3.9"/><circle cx="607.8" cy="886.1" r="3.9"/><circle cx="604.2" cy="879.5" r="3.9"/><circle cx="605.7" cy="905.9" r="3.9"/><circle cx="597.7" cy="879.5" r="3.9"/><circle cx="602.7" cy="899.3" r="3.9"/><circle cx="600.0" cy="892.7" r="3.9"/><circle cx="591.7" cy="905.9" r="3.9"/><circle cx="585.7" cy="853.1" r="3.9"/><circle cx="598.6" cy="886.1" r="3.9"/><circle cx="591.7" cy="879.5" r="3.9"/><circle cx="602.8" cy="879.5" r="3.9"/><circle cx="589.2" cy="872.9" r="3.9"/><circle cx="604.6" cy="892.7" r="3.9"/><circle cx="592.3" cy="892.7" r="3.9"/><circle cx="604.0" cy="780.6" r="3.9"/><circle cx="584.3" cy="879.5" r="3.9"/><circle cx="593.4" cy="892.7" r="3.9"/><circle cx="605.9" cy="872.9" r="3.9"/><circle cx="606.8" cy="839.9" r="3.9"/><circle cx="608.5" cy="899.3" r="3.9"/><circle cx="608.9" cy="846.5" r="3.9"/><circle cx="596.1" cy="879.5" r="3.9"/><circle cx="587.6" cy="886.1" r="3.9"/><circle cx="599.9" cy="866.3" r="3.9"/><circle cx="586.6" cy="899.3" r="3.9"/><circle cx="592.4" cy="905.9" r="3.9"/><circle cx="605.9" cy="899.3" r="3.9"/><circle cx="603.1" cy="905.9" r="3.9"/><circle cx="584.8" cy="886.1" r="3.9"/><circle cx="596.6" cy="853.1" r="3.9"/><circle cx="592.9" cy="879.5" r="3.9"/><circle cx="590.6" cy="800.3" r="3.9"/><circle cx="586.0" cy="846.5" r="3.9"/><circle cx="608.1" cy="899.3" r="3.9"/><circle cx="594.2" cy="905.9" r="3.9"/><circle cx="598.6" cy="826.7" r="3.9"/><circle cx="587.1" cy="879.5" r="3.9"/><circle cx="583.5" cy="892.7" r="3.9"/><circle cx="598.6" cy="892.7" r="3.9"/><circle cx="604.0" cy="714.6" r="3.9"/><circle cx="605.3" cy="879.5" r="3.9"/><circle cx="607.5" cy="892.7" r="3.9"/><circle cx="594.0" cy="899.3" r="3.9"/><circle cx="588.4" cy="853.1" r="3.9"/><circle cx="590.2" cy="846.5" r="3.9"/><circle cx="594.8" cy="872.9" r="3.9"/><circle cx="596.1" cy="879.5" r="3.9"/><circle cx="603.9" cy="892.7" r="3.9"/><circle cx="602.3" cy="846.5" r="3.9"/><circle cx="600.4" cy="839.9" r="3.9"/><circle cx="608.8" cy="859.7" r="3.9"/><circle cx="585.9" cy="886.1" r="3.9"/><circle cx="593.8" cy="853.1" r="3.9"/><circle cx="593.1" cy="872.9" r="3.9"/><circle cx="604.4" cy="879.5" r="3.9"/><circle cx="608.6" cy="879.5" r="3.9"/><circle cx="591.0" cy="886.1" r="3.9"/><circle cx="585.5" cy="892.7" r="3.9"/><circle cx="609.6" cy="905.9" r="3.9"/><circle cx="594.7" cy="905.9" r="3.9"/><circle cx="603.7" cy="892.7" r="3.9"/><circle cx="597.9" cy="905.9" r="3.9"/><circle cx="605.9" cy="872.9" r="3.9"/><circle cx="602.1" cy="853.1" r="3.9"/><circle cx="604.2" cy="886.1" r="3.9"/><circle cx="596.1" cy="859.7" r="3.9"/><circle cx="608.7" cy="859.7" r="3.9"/><circle cx="582.2" cy="879.5" r="3.9"/><circle cx="593.8" cy="866.3" r="3.9"/><circle cx="604.9" cy="879.5" r="3.9"/><circle cx="592.6" cy="879.5" r="3.9"/><circle cx="593.2" cy="879.5" r="3.9"/><circle cx="582.5" cy="879.5" r="3.9"/><circle cx="588.6" cy="859.7" r="3.9"/><circle cx="588.5" cy="879.5" r="3.9"/><circle cx="596.1" cy="899.3" r="3.9"/><circle cx="589.6" cy="866.3" r="3.9"/><circle cx="597.1" cy="892.7" r="3.9"/><circle cx="590.2" cy="879.5" r="3.9"/><circle cx="583.5" cy="886.1" r="3.9"/><circle cx="589.4" cy="899.3" r="3.9"/><circle cx="607.9" cy="866.3" r="3.9"/><circle cx="606.4" cy="879.5" r="3.9"/><circle cx="601.3" cy="899.3" r="3.9"/><circle cx="585.3" cy="853.1" r="3.9"/><circle cx="594.5" cy="866.3" r="3.9"/><circle cx="592.2" cy="879.5" r="3.9"/><circle cx="587.3" cy="892.7" r="3.9"/><circle cx="591.0" cy="899.3" r="3.9"/><circle cx="597.2" cy="886.1" r="3.9"/><circle cx="601.6" cy="879.5" r="3.9"/><circle cx="609.1" cy="879.5" r="3.9"/><circle cx="588.4" cy="892.7" r="3.9"/><circle cx="599.0" cy="820.1" r="3.9"/><circle cx="609.5" cy="866.3" r="3.9"/><circle cx="606.4" cy="846.5" r="3.9"/><circle cx="599.8" cy="886.1" r="3.9"/><circle cx="587.4" cy="866.3" r="3.9"/><circle cx="602.1" cy="886.1" r="3.9"/><circle cx="607.0" cy="866.3" r="3.9"/><circle cx="596.3" cy="886.1" r="3.9"/><circle cx="588.9" cy="839.9" r="3.9"/><circle cx="597.1" cy="886.1" r="3.9"/><circle cx="583.6" cy="866.3" r="3.9"/><circle cx="583.2" cy="886.1" r="3.9"/><circle cx="586.7" cy="892.7" r="3.9"/><circle cx="593.7" cy="886.1" r="3.9"/><circle cx="596.4" cy="859.7" r="3.9"/><circle cx="600.5" cy="879.5" r="3.9"/><circle cx="603.5" cy="899.3" r="3.9"/><circle cx="601.9" cy="872.9" r="3.9"/><circle cx="589.7" cy="886.1" r="3.9"/><circle cx="601.2" cy="879.5" r="3.9"/><circle cx="609.4" cy="879.5" r="3.9"/><circle cx="599.1" cy="879.5" r="3.9"/><circle cx="598.7" cy="846.5" r="3.9"/><circle cx="593.8" cy="872.9" r="3.9"/><circle cx="605.2" cy="872.9" r="3.9"/><circle cx="587.0" cy="866.3" r="3.9"/><circle cx="590.5" cy="892.7" r="3.9"/><circle cx="604.9" cy="866.3" r="3.9"/><circle cx="591.0" cy="872.9" r="3.9"/><circle cx="595.4" cy="886.1" r="3.9"/><circle cx="602.2" cy="859.7" r="3.9"/><circle cx="605.5" cy="846.5" r="3.9"/><circle cx="586.7" cy="886.1" r="3.9"/><circle cx="607.3" cy="899.3" r="3.9"/><circle cx="581.4" cy="872.9" r="3.9"/><circle cx="583.5" cy="839.9" r="3.9"/><circle cx="585.4" cy="892.7" r="3.9"/><circle cx="600.5" cy="872.9" r="3.9"/><circle cx="593.3" cy="905.9" r="3.9"/><circle cx="592.4" cy="892.7" r="3.9"/><circle cx="590.2" cy="872.9" r="3.9"/><circle cx="585.5" cy="899.3" r="3.9"/><circle cx="598.5" cy="872.9" r="3.9"/><circle cx="584.5" cy="866.3" r="3.9"/><circle cx="597.0" cy="886.1" r="3.9"/><circle cx="591.6" cy="846.5" r="3.9"/><circle cx="596.3" cy="820.1" r="3.9"/><circle cx="599.5" cy="853.1" r="3.9"/><circle cx="602.1" cy="892.7" r="3.9"/><circle cx="594.6" cy="886.1" r="3.9"/><circle cx="588.8" cy="839.9" r="3.9"/><circle cx="585.3" cy="892.7" r="3.9"/><circle cx="606.2" cy="872.9" r="3.9"/><circle cx="593.8" cy="892.7" r="3.9"/><circle cx="608.6" cy="866.3" r="3.9"/><circle cx="593.8" cy="866.3" r="3.9"/><circle cx="599.3" cy="859.7" r="3.9"/><circle cx="590.8" cy="872.9" r="3.9"/><circle cx="588.4" cy="872.9" r="3.9"/><circle cx="581.6" cy="872.9" r="3.9"/><circle cx="583.1" cy="905.9" r="3.9"/><circle cx="582.9" cy="872.9" r="3.9"/><circle cx="586.1" cy="859.7" r="3.9"/><circle cx="589.1" cy="892.7" r="3.9"/><circle cx="599.4" cy="872.9" r="3.9"/><circle cx="586.0" cy="892.7" r="3.9"/><circle cx="587.3" cy="892.7" r="3.9"/><circle cx="608.4" cy="872.9" r="3.9"/><circle cx="607.0" cy="859.7" r="3.9"/><circle cx="596.0" cy="859.7" r="3.9"/><circle cx="600.0" cy="853.1" r="3.9"/><circle cx="607.4" cy="846.5" r="3.9"/><circle cx="589.0" cy="899.3" r="3.9"/><circle cx="608.9" cy="866.3" r="3.9"/><circle cx="603.3" cy="886.1" r="3.9"/><circle cx="604.2" cy="866.3" r="3.9"/><circle cx="604.2" cy="899.3" r="3.9"/><circle cx="600.4" cy="833.3" r="3.9"/><circle cx="600.8" cy="899.3" r="3.9"/><circle cx="593.3" cy="905.9" r="3.9"/><circle cx="588.9" cy="879.5" r="3.9"/><circle cx="590.3" cy="866.3" r="3.9"/><circle cx="600.5" cy="853.1" r="3.9"/><circle cx="598.1" cy="833.3" r="3.9"/><circle cx="594.0" cy="892.7" r="3.9"/><circle cx="598.2" cy="872.9" r="3.9"/><circle cx="595.0" cy="886.1" r="3.9"/><circle cx="590.5" cy="886.1" r="3.9"/><circle cx="598.6" cy="866.3" r="3.9"/><circle cx="599.0" cy="853.1" r="3.9"/><circle cx="593.6" cy="886.1" r="3.9"/><circle cx="609.5" cy="859.7" r="3.9"/><circle cx="599.8" cy="886.1" r="3.9"/><circle cx="589.3" cy="853.1" r="3.9"/><circle cx="584.1" cy="872.9" r="3.9"/><circle cx="607.2" cy="892.7" r="3.9"/><circle cx="584.6" cy="872.9" r="3.9"/><circle cx="583.2" cy="905.9" r="3.9"/><circle cx="591.9" cy="859.7" r="3.9"/><circle cx="605.9" cy="892.7" r="3.9"/><circle cx="593.5" cy="899.3" r="3.9"/><circle cx="594.1" cy="859.7" r="3.9"/><circle cx="585.7" cy="853.1" r="3.9"/><circle cx="591.9" cy="899.3" r="3.9"/><circle cx="596.2" cy="866.3" r="3.9"/><circle cx="607.5" cy="879.5" r="3.9"/><circle cx="592.2" cy="839.9" r="3.9"/><circle cx="603.2" cy="879.5" r="3.9"/><circle cx="589.9" cy="872.9" r="3.9"/><circle cx="590.3" cy="892.7" r="3.9"/><circle cx="583.6" cy="866.3" r="3.9"/><circle cx="607.4" cy="853.1" r="3.9"/><circle cx="604.1" cy="892.7" r="3.9"/><circle cx="598.0" cy="866.3" r="3.9"/><circle cx="594.8" cy="872.9" r="3.9"/><circle cx="608.1" cy="872.9" r="3.9"/><circle cx="602.2" cy="892.7" r="3.9"/><circle cx="587.7" cy="833.3" r="3.9"/><circle cx="593.6" cy="905.9" r="3.9"/><circle cx="604.9" cy="820.1" r="3.9"/><circle cx="585.2" cy="879.5" r="3.9"/><circle cx="594.4" cy="886.1" r="3.9"/><circle cx="582.7" cy="892.7" r="3.9"/><circle cx="597.7" cy="846.5" r="3.9"/><circle cx="596.1" cy="872.9" r="3.9"/><circle cx="595.7" cy="872.9" r="3.9"/><circle cx="591.7" cy="866.3" r="3.9"/><circle cx="584.6" cy="859.7" r="3.9"/><circle cx="602.5" cy="866.3" r="3.9"/><circle cx="596.3" cy="833.3" r="3.9"/><circle cx="607.1" cy="839.9" r="3.9"/><circle cx="583.7" cy="886.1" r="3.9"/><circle cx="586.3" cy="826.7" r="3.9"/><circle cx="584.1" cy="899.3" r="3.9"/><circle cx="595.0" cy="892.7" r="3.9"/><circle cx="594.0" cy="879.5" r="3.9"/><circle cx="599.9" cy="886.1" r="3.9"/><circle cx="600.7" cy="886.1" r="3.9"/><circle cx="597.8" cy="886.1" r="3.9"/><circle cx="602.6" cy="859.7" r="3.9"/></g>
<g stroke="#284EA0" fill="none" stroke-width="2.2"><line x1="153.4" x2="153.4" y1="404.5" y2="562.9"/><line x1="153.4" x2="153.4" y1="668.4" y2="826.7"/><rect x="116.4" y="562.9" width="74" height="105.6"/><line x1="116.4" x2="190.4" y1="622.2" y2="622.2" stroke-width="4"/></g>
<g stroke="#F15F5D" fill="none" stroke-width="2.2"><line x1="300.8" x2="300.8" y1="378.1" y2="576.0"/><line x1="300.8" x2="300.8" y1="708.0" y2="905.9"/><rect x="263.8" y="576.0" width="74" height="131.9"/><line x1="263.8" x2="337.8" y1="642.0" y2="642.0" stroke-width="4"/></g>
<g stroke="#1FB2B5" fill="none" stroke-width="2.2"><line x1="448.3" x2="448.3" y1="767.4" y2="826.7"/><line x1="448.3" x2="448.3" y1="866.3" y2="899.3"/><rect x="411.3" y="826.7" width="74" height="39.6"/><line x1="411.3" x2="485.3" y1="846.5" y2="846.5" stroke-width="4"/></g>
<g stroke="#FFC74F" fill="none" stroke-width="2.2"><line x1="595.7" x2="595.7" y1="813.5" y2="859.7"/><line x1="595.7" x2="595.7" y1="892.7" y2="905.9"/><rect x="558.7" y="859.7" width="74" height="33.0"/><line x1="558.7" x2="632.7" y1="879.5" y2="879.5" stroke-width="4"/></g>
<path d="M153.4 92.4V43.9H448.3V68" stroke="#284EA0" stroke-width="2.2" fill="none" stroke-linecap="round" stroke-linejoin="round"/>
<path d="M153.4 92.4V68.0H300.8V92.4" stroke="#284EA0" stroke-width="2.2" fill="none" stroke-linecap="round" stroke-linejoin="round"/>
<path d="M300.8 211.8V187.7H595.7V212" stroke="#F15F5D" stroke-width="2.2" fill="none" stroke-linecap="round" stroke-linejoin="round"/>
<path d="M448.3 236V212H595.7V236" stroke="#1FB2B5" stroke-width="2.2" fill="none" stroke-linecap="round" stroke-linejoin="round"/>
<g font-family="Liberation Sans, sans-serif">
<text x="301.75" y="40.85" text-anchor="middle" font-size="21.5" letter-spacing="2.9" fill="#284EA0" stroke="#284EA0" stroke-width="0.45">***</text>
<text x="228.35" y="64.25" text-anchor="middle" font-size="21.5" letter-spacing="2.9" fill="#284EA0" stroke="#284EA0" stroke-width="0.45">***</text>
<text x="449.45" y="183.75" text-anchor="middle" font-size="21.5" letter-spacing="2.9" fill="#F15F5D" stroke="#F15F5D" stroke-width="0.45">***</text>
<text x="523.05" y="207.45" text-anchor="middle" font-size="21.5" letter-spacing="2.9" fill="#1FB2B5" stroke="#1FB2B5" stroke-width="0.45">***</text>
</g>
<rect x="65.4" y="1.4" width="618.4" height="947.5" fill="none" stroke="#565656" stroke-width="1.6"/>
<g stroke="#333" stroke-width="1.8"><line x1="59.2" x2="65.4" y1="905.9" y2="905.9"/><line x1="59.2" x2="65.4" y1="576.0" y2="576.0"/><line x1="59.2" x2="65.4" y1="246.2" y2="246.2"/><line x1="153.4" x2="153.4" y1="948.9" y2="954.9" stroke-width="2.3"/><line x1="300.8" x2="300.8" y1="948.9" y2="954.9" stroke-width="2.3"/><line x1="448.3" x2="448.3" y1="948.9" y2="954.9" stroke-width="2.3"/><line x1="595.7" x2="595.7" y1="948.9" y2="954.9" stroke-width="2.3"/></g>
<g font-family="Liberation Sans, sans-serif" font-size="17.3" fill="#4D4D4D">
<text x="55.2" y="912.3" text-anchor="end">0</text>
<text x="55.2" y="582.4" text-anchor="end">50</text>
<text x="55.2" y="252.6" text-anchor="end">100</text>
<text x="150.6" y="972.0" text-anchor="middle">Pre-TAVI</text><text x="155.4" y="990.0" text-anchor="middle">non-invasive</text>
<text x="296.8" y="972.0" text-anchor="middle">Pre-TAVI</text><text x="302.2" y="990.0" text-anchor="middle">invasive</text>
<text x="446.8" y="972.0" text-anchor="middle">Post-TAVI</text><text x="450.4" y="990.0" text-anchor="middle">non-invasive</text>
<text x="594.0" y="972.0" text-anchor="middle">Post-TAVI</text><text x="597.2" y="990.0" text-anchor="middle">invasive</text>
</g>
<text font-family="Liberation Sans, sans-serif" font-size="21.6" fill="#000" text-anchor="middle" transform="translate(16.0,475.7) rotate(-90)">Mean Gradient [mmHg]</text>
</svg>
</body></html>
